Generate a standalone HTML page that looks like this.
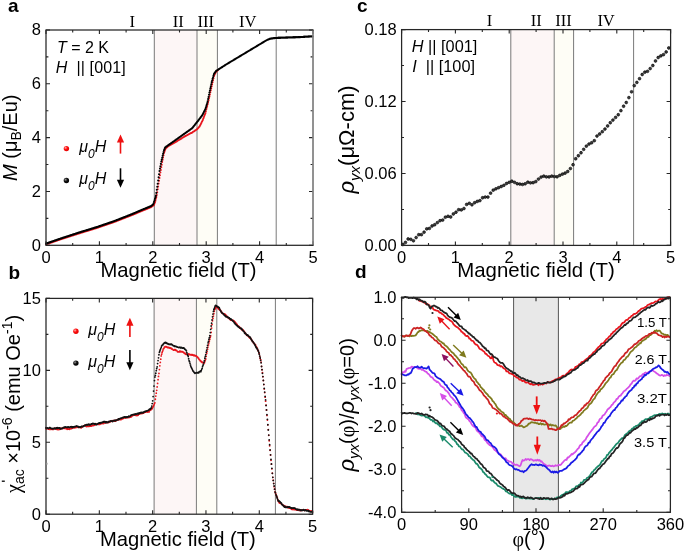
<!DOCTYPE html><html><head><meta charset="utf-8"><style>html,body{margin:0;padding:0;background:#fff;overflow:hidden}svg{display:block;will-change:transform}text{white-space:pre}</style></head><body>
<svg width="685" height="551" viewBox="0 0 685 551" font-family="Liberation Sans, sans-serif" fill="#000">
<defs><radialGradient id="gr" cx="0.35" cy="0.35" r="0.7"><stop offset="0" stop-color="#ffb0b0"/><stop offset="0.45" stop-color="#ff1010"/><stop offset="1" stop-color="#e00000"/></radialGradient><radialGradient id="gk" cx="0.35" cy="0.35" r="0.7"><stop offset="0" stop-color="#999"/><stop offset="0.45" stop-color="#111"/><stop offset="1" stop-color="#000"/></radialGradient></defs>
<rect x="154.3" y="30" width="42.7" height="215.3" fill="#fdf6f6"/>
<rect x="197" y="30" width="20.4" height="215.3" fill="#fefdf6"/>
<path d="M154.3 30V245.3" stroke="#7a7a7a" stroke-width="1"/>
<path d="M197 30V245.3" stroke="#7a7a7a" stroke-width="1"/>
<path d="M217.4 30V245.3" stroke="#7a7a7a" stroke-width="1"/>
<path d="M276.2 30V245.3" stroke="#7a7a7a" stroke-width="1"/>
<path d="M45.1 244.3a1.0 1.0 0 1 0 2 0a1.0 1.0 0 1 0 -2 0M45.55 244.15a1.0 1.0 0 1 0 2 0a1.0 1.0 0 1 0 -2 0M46 243.99a1.0 1.0 0 1 0 2 0a1.0 1.0 0 1 0 -2 0M46.45 243.84a1.0 1.0 0 1 0 2 0a1.0 1.0 0 1 0 -2 0M46.9 243.68a1.0 1.0 0 1 0 2 0a1.0 1.0 0 1 0 -2 0M47.35 243.53a1.0 1.0 0 1 0 2 0a1.0 1.0 0 1 0 -2 0M47.8 243.37a1.0 1.0 0 1 0 2 0a1.0 1.0 0 1 0 -2 0M48.25 243.22a1.0 1.0 0 1 0 2 0a1.0 1.0 0 1 0 -2 0M48.7 243.06a1.0 1.0 0 1 0 2 0a1.0 1.0 0 1 0 -2 0M49.15 242.91a1.0 1.0 0 1 0 2 0a1.0 1.0 0 1 0 -2 0M49.6 242.75a1.0 1.0 0 1 0 2 0a1.0 1.0 0 1 0 -2 0M50.05 242.6a1.0 1.0 0 1 0 2 0a1.0 1.0 0 1 0 -2 0M50.5 242.44a1.0 1.0 0 1 0 2 0a1.0 1.0 0 1 0 -2 0M50.95 242.29a1.0 1.0 0 1 0 2 0a1.0 1.0 0 1 0 -2 0M51.4 242.13a1.0 1.0 0 1 0 2 0a1.0 1.0 0 1 0 -2 0M51.85 241.98a1.0 1.0 0 1 0 2 0a1.0 1.0 0 1 0 -2 0M52.3 241.82a1.0 1.0 0 1 0 2 0a1.0 1.0 0 1 0 -2 0M52.75 241.67a1.0 1.0 0 1 0 2 0a1.0 1.0 0 1 0 -2 0M53.2 241.51a1.0 1.0 0 1 0 2 0a1.0 1.0 0 1 0 -2 0M53.65 241.36a1.0 1.0 0 1 0 2 0a1.0 1.0 0 1 0 -2 0M54.1 241.2a1.0 1.0 0 1 0 2 0a1.0 1.0 0 1 0 -2 0M54.55 241.05a1.0 1.0 0 1 0 2 0a1.0 1.0 0 1 0 -2 0M55 240.89a1.0 1.0 0 1 0 2 0a1.0 1.0 0 1 0 -2 0M55.45 240.74a1.0 1.0 0 1 0 2 0a1.0 1.0 0 1 0 -2 0M55.9 240.58a1.0 1.0 0 1 0 2 0a1.0 1.0 0 1 0 -2 0M56.35 240.43a1.0 1.0 0 1 0 2 0a1.0 1.0 0 1 0 -2 0M56.8 240.27a1.0 1.0 0 1 0 2 0a1.0 1.0 0 1 0 -2 0M57.25 240.12a1.0 1.0 0 1 0 2 0a1.0 1.0 0 1 0 -2 0M57.7 239.96a1.0 1.0 0 1 0 2 0a1.0 1.0 0 1 0 -2 0M58.15 239.81a1.0 1.0 0 1 0 2 0a1.0 1.0 0 1 0 -2 0M58.6 239.65a1.0 1.0 0 1 0 2 0a1.0 1.0 0 1 0 -2 0M59.05 239.5a1.0 1.0 0 1 0 2 0a1.0 1.0 0 1 0 -2 0M59.5 239.34a1.0 1.0 0 1 0 2 0a1.0 1.0 0 1 0 -2 0M59.95 239.19a1.0 1.0 0 1 0 2 0a1.0 1.0 0 1 0 -2 0M60.4 239.03a1.0 1.0 0 1 0 2 0a1.0 1.0 0 1 0 -2 0M60.85 238.89a1.0 1.0 0 1 0 2 0a1.0 1.0 0 1 0 -2 0M61.3 238.74a1.0 1.0 0 1 0 2 0a1.0 1.0 0 1 0 -2 0M61.75 238.6a1.0 1.0 0 1 0 2 0a1.0 1.0 0 1 0 -2 0M62.2 238.46a1.0 1.0 0 1 0 2 0a1.0 1.0 0 1 0 -2 0M62.65 238.31a1.0 1.0 0 1 0 2 0a1.0 1.0 0 1 0 -2 0M63.1 238.17a1.0 1.0 0 1 0 2 0a1.0 1.0 0 1 0 -2 0M63.55 238.02a1.0 1.0 0 1 0 2 0a1.0 1.0 0 1 0 -2 0M64 237.88a1.0 1.0 0 1 0 2 0a1.0 1.0 0 1 0 -2 0M64.45 237.74a1.0 1.0 0 1 0 2 0a1.0 1.0 0 1 0 -2 0M64.9 237.59a1.0 1.0 0 1 0 2 0a1.0 1.0 0 1 0 -2 0M65.35 237.45a1.0 1.0 0 1 0 2 0a1.0 1.0 0 1 0 -2 0M65.8 237.3a1.0 1.0 0 1 0 2 0a1.0 1.0 0 1 0 -2 0M66.25 237.16a1.0 1.0 0 1 0 2 0a1.0 1.0 0 1 0 -2 0M66.7 237.02a1.0 1.0 0 1 0 2 0a1.0 1.0 0 1 0 -2 0M67.15 236.87a1.0 1.0 0 1 0 2 0a1.0 1.0 0 1 0 -2 0M67.6 236.73a1.0 1.0 0 1 0 2 0a1.0 1.0 0 1 0 -2 0M68.05 236.58a1.0 1.0 0 1 0 2 0a1.0 1.0 0 1 0 -2 0M68.5 236.44a1.0 1.0 0 1 0 2 0a1.0 1.0 0 1 0 -2 0M68.95 236.3a1.0 1.0 0 1 0 2 0a1.0 1.0 0 1 0 -2 0M69.4 236.15a1.0 1.0 0 1 0 2 0a1.0 1.0 0 1 0 -2 0M69.85 236.01a1.0 1.0 0 1 0 2 0a1.0 1.0 0 1 0 -2 0M70.3 235.86a1.0 1.0 0 1 0 2 0a1.0 1.0 0 1 0 -2 0M70.75 235.72a1.0 1.0 0 1 0 2 0a1.0 1.0 0 1 0 -2 0M71.2 235.58a1.0 1.0 0 1 0 2 0a1.0 1.0 0 1 0 -2 0M71.65 235.43a1.0 1.0 0 1 0 2 0a1.0 1.0 0 1 0 -2 0M72.1 235.29a1.0 1.0 0 1 0 2 0a1.0 1.0 0 1 0 -2 0M72.55 235.14a1.0 1.0 0 1 0 2 0a1.0 1.0 0 1 0 -2 0M73 235a1.0 1.0 0 1 0 2 0a1.0 1.0 0 1 0 -2 0M73.45 234.86a1.0 1.0 0 1 0 2 0a1.0 1.0 0 1 0 -2 0M73.9 234.71a1.0 1.0 0 1 0 2 0a1.0 1.0 0 1 0 -2 0M74.35 234.57a1.0 1.0 0 1 0 2 0a1.0 1.0 0 1 0 -2 0M74.8 234.42a1.0 1.0 0 1 0 2 0a1.0 1.0 0 1 0 -2 0M75.25 234.28a1.0 1.0 0 1 0 2 0a1.0 1.0 0 1 0 -2 0M75.7 234.14a1.0 1.0 0 1 0 2 0a1.0 1.0 0 1 0 -2 0M76.15 233.99a1.0 1.0 0 1 0 2 0a1.0 1.0 0 1 0 -2 0M76.6 233.85a1.0 1.0 0 1 0 2 0a1.0 1.0 0 1 0 -2 0M77.05 233.7a1.0 1.0 0 1 0 2 0a1.0 1.0 0 1 0 -2 0M77.5 233.56a1.0 1.0 0 1 0 2 0a1.0 1.0 0 1 0 -2 0M77.95 233.42a1.0 1.0 0 1 0 2 0a1.0 1.0 0 1 0 -2 0M78.4 233.28a1.0 1.0 0 1 0 2 0a1.0 1.0 0 1 0 -2 0M78.85 233.14a1.0 1.0 0 1 0 2 0a1.0 1.0 0 1 0 -2 0M79.3 233a1.0 1.0 0 1 0 2 0a1.0 1.0 0 1 0 -2 0M79.75 232.86a1.0 1.0 0 1 0 2 0a1.0 1.0 0 1 0 -2 0M80.2 232.72a1.0 1.0 0 1 0 2 0a1.0 1.0 0 1 0 -2 0M80.65 232.59a1.0 1.0 0 1 0 2 0a1.0 1.0 0 1 0 -2 0M81.1 232.45a1.0 1.0 0 1 0 2 0a1.0 1.0 0 1 0 -2 0M81.55 232.31a1.0 1.0 0 1 0 2 0a1.0 1.0 0 1 0 -2 0M82 232.17a1.0 1.0 0 1 0 2 0a1.0 1.0 0 1 0 -2 0M82.45 232.03a1.0 1.0 0 1 0 2 0a1.0 1.0 0 1 0 -2 0M82.9 231.9a1.0 1.0 0 1 0 2 0a1.0 1.0 0 1 0 -2 0M83.35 231.76a1.0 1.0 0 1 0 2 0a1.0 1.0 0 1 0 -2 0M83.8 231.62a1.0 1.0 0 1 0 2 0a1.0 1.0 0 1 0 -2 0M84.25 231.48a1.0 1.0 0 1 0 2 0a1.0 1.0 0 1 0 -2 0M84.7 231.34a1.0 1.0 0 1 0 2 0a1.0 1.0 0 1 0 -2 0M85.15 231.21a1.0 1.0 0 1 0 2 0a1.0 1.0 0 1 0 -2 0M85.6 231.07a1.0 1.0 0 1 0 2 0a1.0 1.0 0 1 0 -2 0M86.05 230.93a1.0 1.0 0 1 0 2 0a1.0 1.0 0 1 0 -2 0M86.5 230.79a1.0 1.0 0 1 0 2 0a1.0 1.0 0 1 0 -2 0M86.95 230.65a1.0 1.0 0 1 0 2 0a1.0 1.0 0 1 0 -2 0M87.4 230.52a1.0 1.0 0 1 0 2 0a1.0 1.0 0 1 0 -2 0M87.85 230.38a1.0 1.0 0 1 0 2 0a1.0 1.0 0 1 0 -2 0M88.3 230.24a1.0 1.0 0 1 0 2 0a1.0 1.0 0 1 0 -2 0M88.75 230.1a1.0 1.0 0 1 0 2 0a1.0 1.0 0 1 0 -2 0M89.2 229.96a1.0 1.0 0 1 0 2 0a1.0 1.0 0 1 0 -2 0M89.65 229.83a1.0 1.0 0 1 0 2 0a1.0 1.0 0 1 0 -2 0M90.1 229.69a1.0 1.0 0 1 0 2 0a1.0 1.0 0 1 0 -2 0M90.55 229.55a1.0 1.0 0 1 0 2 0a1.0 1.0 0 1 0 -2 0M91 229.41a1.0 1.0 0 1 0 2 0a1.0 1.0 0 1 0 -2 0M91.45 229.27a1.0 1.0 0 1 0 2 0a1.0 1.0 0 1 0 -2 0M91.9 229.14a1.0 1.0 0 1 0 2 0a1.0 1.0 0 1 0 -2 0M92.35 229a1.0 1.0 0 1 0 2 0a1.0 1.0 0 1 0 -2 0M92.8 228.86a1.0 1.0 0 1 0 2 0a1.0 1.0 0 1 0 -2 0M93.25 228.72a1.0 1.0 0 1 0 2 0a1.0 1.0 0 1 0 -2 0M93.7 228.58a1.0 1.0 0 1 0 2 0a1.0 1.0 0 1 0 -2 0M94.15 228.44a1.0 1.0 0 1 0 2 0a1.0 1.0 0 1 0 -2 0M94.6 228.31a1.0 1.0 0 1 0 2 0a1.0 1.0 0 1 0 -2 0M95.05 228.17a1.0 1.0 0 1 0 2 0a1.0 1.0 0 1 0 -2 0M95.5 228.03a1.0 1.0 0 1 0 2 0a1.0 1.0 0 1 0 -2 0M95.95 227.88a1.0 1.0 0 1 0 2 0a1.0 1.0 0 1 0 -2 0M96.4 227.73a1.0 1.0 0 1 0 2 0a1.0 1.0 0 1 0 -2 0M96.85 227.57a1.0 1.0 0 1 0 2 0a1.0 1.0 0 1 0 -2 0M97.3 227.42a1.0 1.0 0 1 0 2 0a1.0 1.0 0 1 0 -2 0M97.75 227.26a1.0 1.0 0 1 0 2 0a1.0 1.0 0 1 0 -2 0M98.2 227.11a1.0 1.0 0 1 0 2 0a1.0 1.0 0 1 0 -2 0M98.65 226.95a1.0 1.0 0 1 0 2 0a1.0 1.0 0 1 0 -2 0M99.1 226.8a1.0 1.0 0 1 0 2 0a1.0 1.0 0 1 0 -2 0M99.55 226.65a1.0 1.0 0 1 0 2 0a1.0 1.0 0 1 0 -2 0M100 226.49a1.0 1.0 0 1 0 2 0a1.0 1.0 0 1 0 -2 0M100.45 226.34a1.0 1.0 0 1 0 2 0a1.0 1.0 0 1 0 -2 0M100.9 226.18a1.0 1.0 0 1 0 2 0a1.0 1.0 0 1 0 -2 0M101.35 226.03a1.0 1.0 0 1 0 2 0a1.0 1.0 0 1 0 -2 0M101.8 225.87a1.0 1.0 0 1 0 2 0a1.0 1.0 0 1 0 -2 0M102.25 225.72a1.0 1.0 0 1 0 2 0a1.0 1.0 0 1 0 -2 0M102.7 225.57a1.0 1.0 0 1 0 2 0a1.0 1.0 0 1 0 -2 0M103.15 225.41a1.0 1.0 0 1 0 2 0a1.0 1.0 0 1 0 -2 0M103.6 225.26a1.0 1.0 0 1 0 2 0a1.0 1.0 0 1 0 -2 0M104.05 225.1a1.0 1.0 0 1 0 2 0a1.0 1.0 0 1 0 -2 0M104.5 224.95a1.0 1.0 0 1 0 2 0a1.0 1.0 0 1 0 -2 0M104.95 224.79a1.0 1.0 0 1 0 2 0a1.0 1.0 0 1 0 -2 0M105.4 224.64a1.0 1.0 0 1 0 2 0a1.0 1.0 0 1 0 -2 0M105.85 224.49a1.0 1.0 0 1 0 2 0a1.0 1.0 0 1 0 -2 0M106.3 224.33a1.0 1.0 0 1 0 2 0a1.0 1.0 0 1 0 -2 0M106.75 224.18a1.0 1.0 0 1 0 2 0a1.0 1.0 0 1 0 -2 0M107.2 224.02a1.0 1.0 0 1 0 2 0a1.0 1.0 0 1 0 -2 0M107.65 223.87a1.0 1.0 0 1 0 2 0a1.0 1.0 0 1 0 -2 0M108.1 223.71a1.0 1.0 0 1 0 2 0a1.0 1.0 0 1 0 -2 0M108.55 223.56a1.0 1.0 0 1 0 2 0a1.0 1.0 0 1 0 -2 0M109 223.41a1.0 1.0 0 1 0 2 0a1.0 1.0 0 1 0 -2 0M109.45 223.25a1.0 1.0 0 1 0 2 0a1.0 1.0 0 1 0 -2 0M109.9 223.1a1.0 1.0 0 1 0 2 0a1.0 1.0 0 1 0 -2 0M110.35 222.94a1.0 1.0 0 1 0 2 0a1.0 1.0 0 1 0 -2 0M110.8 222.79a1.0 1.0 0 1 0 2 0a1.0 1.0 0 1 0 -2 0M111.25 222.63a1.0 1.0 0 1 0 2 0a1.0 1.0 0 1 0 -2 0M111.7 222.48a1.0 1.0 0 1 0 2 0a1.0 1.0 0 1 0 -2 0M112.15 222.33a1.0 1.0 0 1 0 2 0a1.0 1.0 0 1 0 -2 0M112.6 222.17a1.0 1.0 0 1 0 2 0a1.0 1.0 0 1 0 -2 0M113.05 222.02a1.0 1.0 0 1 0 2 0a1.0 1.0 0 1 0 -2 0M113.5 221.84a1.0 1.0 0 1 0 2 0a1.0 1.0 0 1 0 -2 0M113.95 221.67a1.0 1.0 0 1 0 2 0a1.0 1.0 0 1 0 -2 0M114.4 221.49a1.0 1.0 0 1 0 2 0a1.0 1.0 0 1 0 -2 0M114.85 221.32a1.0 1.0 0 1 0 2 0a1.0 1.0 0 1 0 -2 0M115.3 221.15a1.0 1.0 0 1 0 2 0a1.0 1.0 0 1 0 -2 0M115.75 220.97a1.0 1.0 0 1 0 2 0a1.0 1.0 0 1 0 -2 0M116.2 220.8a1.0 1.0 0 1 0 2 0a1.0 1.0 0 1 0 -2 0M116.65 220.62a1.0 1.0 0 1 0 2 0a1.0 1.0 0 1 0 -2 0M117.1 220.45a1.0 1.0 0 1 0 2 0a1.0 1.0 0 1 0 -2 0M117.55 220.27a1.0 1.0 0 1 0 2 0a1.0 1.0 0 1 0 -2 0M118 220.1a1.0 1.0 0 1 0 2 0a1.0 1.0 0 1 0 -2 0M118.45 219.92a1.0 1.0 0 1 0 2 0a1.0 1.0 0 1 0 -2 0M118.9 219.75a1.0 1.0 0 1 0 2 0a1.0 1.0 0 1 0 -2 0M119.35 219.57a1.0 1.0 0 1 0 2 0a1.0 1.0 0 1 0 -2 0M119.8 219.4a1.0 1.0 0 1 0 2 0a1.0 1.0 0 1 0 -2 0M120.25 219.22a1.0 1.0 0 1 0 2 0a1.0 1.0 0 1 0 -2 0M120.7 219.05a1.0 1.0 0 1 0 2 0a1.0 1.0 0 1 0 -2 0M121.15 218.87a1.0 1.0 0 1 0 2 0a1.0 1.0 0 1 0 -2 0M121.6 218.7a1.0 1.0 0 1 0 2 0a1.0 1.0 0 1 0 -2 0M122.05 218.52a1.0 1.0 0 1 0 2 0a1.0 1.0 0 1 0 -2 0M122.5 218.35a1.0 1.0 0 1 0 2 0a1.0 1.0 0 1 0 -2 0M122.95 218.17a1.0 1.0 0 1 0 2 0a1.0 1.0 0 1 0 -2 0M123.4 218a1.0 1.0 0 1 0 2 0a1.0 1.0 0 1 0 -2 0M123.85 217.82a1.0 1.0 0 1 0 2 0a1.0 1.0 0 1 0 -2 0M124.3 217.65a1.0 1.0 0 1 0 2 0a1.0 1.0 0 1 0 -2 0M124.75 217.47a1.0 1.0 0 1 0 2 0a1.0 1.0 0 1 0 -2 0M125.2 217.3a1.0 1.0 0 1 0 2 0a1.0 1.0 0 1 0 -2 0M125.65 217.12a1.0 1.0 0 1 0 2 0a1.0 1.0 0 1 0 -2 0M126.1 216.95a1.0 1.0 0 1 0 2 0a1.0 1.0 0 1 0 -2 0M126.55 216.77a1.0 1.0 0 1 0 2 0a1.0 1.0 0 1 0 -2 0M127 216.6a1.0 1.0 0 1 0 2 0a1.0 1.0 0 1 0 -2 0M127.45 216.42a1.0 1.0 0 1 0 2 0a1.0 1.0 0 1 0 -2 0M127.9 216.25a1.0 1.0 0 1 0 2 0a1.0 1.0 0 1 0 -2 0M128.35 216.07a1.0 1.0 0 1 0 2 0a1.0 1.0 0 1 0 -2 0M128.8 215.9a1.0 1.0 0 1 0 2 0a1.0 1.0 0 1 0 -2 0M129.25 215.72a1.0 1.0 0 1 0 2 0a1.0 1.0 0 1 0 -2 0M129.7 215.55a1.0 1.0 0 1 0 2 0a1.0 1.0 0 1 0 -2 0M130.15 215.37a1.0 1.0 0 1 0 2 0a1.0 1.0 0 1 0 -2 0M130.6 215.2a1.0 1.0 0 1 0 2 0a1.0 1.0 0 1 0 -2 0M131.05 215.01a1.0 1.0 0 1 0 2 0a1.0 1.0 0 1 0 -2 0M131.5 214.82a1.0 1.0 0 1 0 2 0a1.0 1.0 0 1 0 -2 0M131.95 214.63a1.0 1.0 0 1 0 2 0a1.0 1.0 0 1 0 -2 0M132.4 214.45a1.0 1.0 0 1 0 2 0a1.0 1.0 0 1 0 -2 0M132.85 214.26a1.0 1.0 0 1 0 2 0a1.0 1.0 0 1 0 -2 0M133.3 214.07a1.0 1.0 0 1 0 2 0a1.0 1.0 0 1 0 -2 0M133.75 213.88a1.0 1.0 0 1 0 2 0a1.0 1.0 0 1 0 -2 0M134.2 213.69a1.0 1.0 0 1 0 2 0a1.0 1.0 0 1 0 -2 0M134.65 213.5a1.0 1.0 0 1 0 2 0a1.0 1.0 0 1 0 -2 0M135.1 213.31a1.0 1.0 0 1 0 2 0a1.0 1.0 0 1 0 -2 0M135.55 213.13a1.0 1.0 0 1 0 2 0a1.0 1.0 0 1 0 -2 0M136 212.94a1.0 1.0 0 1 0 2 0a1.0 1.0 0 1 0 -2 0M136.45 212.75a1.0 1.0 0 1 0 2 0a1.0 1.0 0 1 0 -2 0M136.9 212.56a1.0 1.0 0 1 0 2 0a1.0 1.0 0 1 0 -2 0M137.35 212.37a1.0 1.0 0 1 0 2 0a1.0 1.0 0 1 0 -2 0M137.8 212.18a1.0 1.0 0 1 0 2 0a1.0 1.0 0 1 0 -2 0M138.25 211.99a1.0 1.0 0 1 0 2 0a1.0 1.0 0 1 0 -2 0M138.7 211.81a1.0 1.0 0 1 0 2 0a1.0 1.0 0 1 0 -2 0M139.15 211.62a1.0 1.0 0 1 0 2 0a1.0 1.0 0 1 0 -2 0M139.6 211.43a1.0 1.0 0 1 0 2 0a1.0 1.0 0 1 0 -2 0M140.05 211.24a1.0 1.0 0 1 0 2 0a1.0 1.0 0 1 0 -2 0M140.5 211.05a1.0 1.0 0 1 0 2 0a1.0 1.0 0 1 0 -2 0M140.95 210.86a1.0 1.0 0 1 0 2 0a1.0 1.0 0 1 0 -2 0M141.4 210.68a1.0 1.0 0 1 0 2 0a1.0 1.0 0 1 0 -2 0M141.85 210.49a1.0 1.0 0 1 0 2 0a1.0 1.0 0 1 0 -2 0M142.3 210.31a1.0 1.0 0 1 0 2 0a1.0 1.0 0 1 0 -2 0M142.75 210.12a1.0 1.0 0 1 0 2 0a1.0 1.0 0 1 0 -2 0M143.2 209.94a1.0 1.0 0 1 0 2 0a1.0 1.0 0 1 0 -2 0M143.65 209.76a1.0 1.0 0 1 0 2 0a1.0 1.0 0 1 0 -2 0M144.1 209.57a1.0 1.0 0 1 0 2 0a1.0 1.0 0 1 0 -2 0M144.55 209.39a1.0 1.0 0 1 0 2 0a1.0 1.0 0 1 0 -2 0M145 209.2a1.0 1.0 0 1 0 2 0a1.0 1.0 0 1 0 -2 0M145.45 209.02a1.0 1.0 0 1 0 2 0a1.0 1.0 0 1 0 -2 0M145.9 208.84a1.0 1.0 0 1 0 2 0a1.0 1.0 0 1 0 -2 0M146.35 208.65a1.0 1.0 0 1 0 2 0a1.0 1.0 0 1 0 -2 0M146.8 208.47a1.0 1.0 0 1 0 2 0a1.0 1.0 0 1 0 -2 0M147.25 208.28a1.0 1.0 0 1 0 2 0a1.0 1.0 0 1 0 -2 0M147.7 208.1a1.0 1.0 0 1 0 2 0a1.0 1.0 0 1 0 -2 0M148.15 207.92a1.0 1.0 0 1 0 2 0a1.0 1.0 0 1 0 -2 0M148.6 207.73a1.0 1.0 0 1 0 2 0a1.0 1.0 0 1 0 -2 0M149.05 207.55a1.0 1.0 0 1 0 2 0a1.0 1.0 0 1 0 -2 0M149.5 207.36a1.0 1.0 0 1 0 2 0a1.0 1.0 0 1 0 -2 0M149.95 207.16a1.0 1.0 0 1 0 2 0a1.0 1.0 0 1 0 -2 0M150.4 206.85a1.0 1.0 0 1 0 2 0a1.0 1.0 0 1 0 -2 0M150.85 206.53a1.0 1.0 0 1 0 2 0a1.0 1.0 0 1 0 -2 0M151.3 206.21a1.0 1.0 0 1 0 2 0a1.0 1.0 0 1 0 -2 0M151.75 205.89a1.0 1.0 0 1 0 2 0a1.0 1.0 0 1 0 -2 0M152.2 205.57a1.0 1.0 0 1 0 2 0a1.0 1.0 0 1 0 -2 0M152.65 205.25a1.0 1.0 0 1 0 2 0a1.0 1.0 0 1 0 -2 0M153.1 204.71a1.0 1.0 0 1 0 2 0a1.0 1.0 0 1 0 -2 0M153.55 203.43a1.0 1.0 0 1 0 2 0a1.0 1.0 0 1 0 -2 0M154 202.14a1.0 1.0 0 1 0 2 0a1.0 1.0 0 1 0 -2 0M154.45 200.79a1.0 1.0 0 1 0 2 0a1.0 1.0 0 1 0 -2 0M154.9 198.86a1.0 1.0 0 1 0 2 0a1.0 1.0 0 1 0 -2 0M155.35 196.93a1.0 1.0 0 1 0 2 0a1.0 1.0 0 1 0 -2 0M155.8 195a1.0 1.0 0 1 0 2 0a1.0 1.0 0 1 0 -2 0M156.25 192.19a1.0 1.0 0 1 0 2 0a1.0 1.0 0 1 0 -2 0M156.7 189.36a1.0 1.0 0 1 0 2 0a1.0 1.0 0 1 0 -2 0M157.15 186.46a1.0 1.0 0 1 0 2 0a1.0 1.0 0 1 0 -2 0M157.6 183.57a1.0 1.0 0 1 0 2 0a1.0 1.0 0 1 0 -2 0M158.05 180.7a1.0 1.0 0 1 0 2 0a1.0 1.0 0 1 0 -2 0M158.5 178a1.0 1.0 0 1 0 2 0a1.0 1.0 0 1 0 -2 0M158.95 175.3a1.0 1.0 0 1 0 2 0a1.0 1.0 0 1 0 -2 0M159.4 172.6a1.0 1.0 0 1 0 2 0a1.0 1.0 0 1 0 -2 0M159.85 169.94a1.0 1.0 0 1 0 2 0a1.0 1.0 0 1 0 -2 0M160.3 167.29a1.0 1.0 0 1 0 2 0a1.0 1.0 0 1 0 -2 0M160.75 164.65a1.0 1.0 0 1 0 2 0a1.0 1.0 0 1 0 -2 0M161.2 162a1.0 1.0 0 1 0 2 0a1.0 1.0 0 1 0 -2 0M161.65 159.75a1.0 1.0 0 1 0 2 0a1.0 1.0 0 1 0 -2 0M162.1 157.5a1.0 1.0 0 1 0 2 0a1.0 1.0 0 1 0 -2 0M162.55 155.25a1.0 1.0 0 1 0 2 0a1.0 1.0 0 1 0 -2 0M163 153a1.0 1.0 0 1 0 2 0a1.0 1.0 0 1 0 -2 0M163.45 151.73a1.0 1.0 0 1 0 2 0a1.0 1.0 0 1 0 -2 0M163.9 150.47a1.0 1.0 0 1 0 2 0a1.0 1.0 0 1 0 -2 0M164.35 149.2a1.0 1.0 0 1 0 2 0a1.0 1.0 0 1 0 -2 0M164.8 148.33a1.0 1.0 0 1 0 2 0a1.0 1.0 0 1 0 -2 0M165.25 147.93a1.0 1.0 0 1 0 2 0a1.0 1.0 0 1 0 -2 0M165.7 147.54a1.0 1.0 0 1 0 2 0a1.0 1.0 0 1 0 -2 0M166.15 147.14a1.0 1.0 0 1 0 2 0a1.0 1.0 0 1 0 -2 0M166.6 146.75a1.0 1.0 0 1 0 2 0a1.0 1.0 0 1 0 -2 0M167.05 146.37a1.0 1.0 0 1 0 2 0a1.0 1.0 0 1 0 -2 0M167.5 146.11a1.0 1.0 0 1 0 2 0a1.0 1.0 0 1 0 -2 0M167.95 145.85a1.0 1.0 0 1 0 2 0a1.0 1.0 0 1 0 -2 0M168.4 145.59a1.0 1.0 0 1 0 2 0a1.0 1.0 0 1 0 -2 0M168.85 145.33a1.0 1.0 0 1 0 2 0a1.0 1.0 0 1 0 -2 0M169.3 145.08a1.0 1.0 0 1 0 2 0a1.0 1.0 0 1 0 -2 0M169.75 144.82a1.0 1.0 0 1 0 2 0a1.0 1.0 0 1 0 -2 0M170.2 144.56a1.0 1.0 0 1 0 2 0a1.0 1.0 0 1 0 -2 0M170.65 144.29a1.0 1.0 0 1 0 2 0a1.0 1.0 0 1 0 -2 0M171.1 144.03a1.0 1.0 0 1 0 2 0a1.0 1.0 0 1 0 -2 0M171.55 143.77a1.0 1.0 0 1 0 2 0a1.0 1.0 0 1 0 -2 0M172 143.5a1.0 1.0 0 1 0 2 0a1.0 1.0 0 1 0 -2 0M172.45 143.24a1.0 1.0 0 1 0 2 0a1.0 1.0 0 1 0 -2 0M172.9 142.98a1.0 1.0 0 1 0 2 0a1.0 1.0 0 1 0 -2 0M173.35 142.71a1.0 1.0 0 1 0 2 0a1.0 1.0 0 1 0 -2 0M173.8 142.45a1.0 1.0 0 1 0 2 0a1.0 1.0 0 1 0 -2 0M174.25 142.18a1.0 1.0 0 1 0 2 0a1.0 1.0 0 1 0 -2 0M174.7 141.92a1.0 1.0 0 1 0 2 0a1.0 1.0 0 1 0 -2 0M175.15 141.66a1.0 1.0 0 1 0 2 0a1.0 1.0 0 1 0 -2 0M175.6 141.39a1.0 1.0 0 1 0 2 0a1.0 1.0 0 1 0 -2 0M176.05 141.13a1.0 1.0 0 1 0 2 0a1.0 1.0 0 1 0 -2 0M176.5 140.87a1.0 1.0 0 1 0 2 0a1.0 1.0 0 1 0 -2 0M176.95 140.6a1.0 1.0 0 1 0 2 0a1.0 1.0 0 1 0 -2 0M177.4 140.34a1.0 1.0 0 1 0 2 0a1.0 1.0 0 1 0 -2 0M177.85 140.07a1.0 1.0 0 1 0 2 0a1.0 1.0 0 1 0 -2 0M178.3 139.81a1.0 1.0 0 1 0 2 0a1.0 1.0 0 1 0 -2 0M178.75 139.55a1.0 1.0 0 1 0 2 0a1.0 1.0 0 1 0 -2 0M179.2 139.27a1.0 1.0 0 1 0 2 0a1.0 1.0 0 1 0 -2 0M179.65 138.98a1.0 1.0 0 1 0 2 0a1.0 1.0 0 1 0 -2 0M180.1 138.7a1.0 1.0 0 1 0 2 0a1.0 1.0 0 1 0 -2 0M180.55 138.41a1.0 1.0 0 1 0 2 0a1.0 1.0 0 1 0 -2 0M181 138.12a1.0 1.0 0 1 0 2 0a1.0 1.0 0 1 0 -2 0M181.45 137.83a1.0 1.0 0 1 0 2 0a1.0 1.0 0 1 0 -2 0M181.9 137.54a1.0 1.0 0 1 0 2 0a1.0 1.0 0 1 0 -2 0M182.35 137.26a1.0 1.0 0 1 0 2 0a1.0 1.0 0 1 0 -2 0M182.8 136.97a1.0 1.0 0 1 0 2 0a1.0 1.0 0 1 0 -2 0M183.25 136.68a1.0 1.0 0 1 0 2 0a1.0 1.0 0 1 0 -2 0M183.7 136.39a1.0 1.0 0 1 0 2 0a1.0 1.0 0 1 0 -2 0M184.15 136.12a1.0 1.0 0 1 0 2 0a1.0 1.0 0 1 0 -2 0M184.6 135.89a1.0 1.0 0 1 0 2 0a1.0 1.0 0 1 0 -2 0M185.05 135.66a1.0 1.0 0 1 0 2 0a1.0 1.0 0 1 0 -2 0M185.5 135.43a1.0 1.0 0 1 0 2 0a1.0 1.0 0 1 0 -2 0M185.95 135.2a1.0 1.0 0 1 0 2 0a1.0 1.0 0 1 0 -2 0M186.4 134.97a1.0 1.0 0 1 0 2 0a1.0 1.0 0 1 0 -2 0M186.85 134.74a1.0 1.0 0 1 0 2 0a1.0 1.0 0 1 0 -2 0M187.3 134.5a1.0 1.0 0 1 0 2 0a1.0 1.0 0 1 0 -2 0M187.75 134.27a1.0 1.0 0 1 0 2 0a1.0 1.0 0 1 0 -2 0M188.2 134.04a1.0 1.0 0 1 0 2 0a1.0 1.0 0 1 0 -2 0M188.65 133.81a1.0 1.0 0 1 0 2 0a1.0 1.0 0 1 0 -2 0M189.1 133.58a1.0 1.0 0 1 0 2 0a1.0 1.0 0 1 0 -2 0M189.55 133.35a1.0 1.0 0 1 0 2 0a1.0 1.0 0 1 0 -2 0M190 133.12a1.0 1.0 0 1 0 2 0a1.0 1.0 0 1 0 -2 0M190.45 132.89a1.0 1.0 0 1 0 2 0a1.0 1.0 0 1 0 -2 0M190.9 132.65a1.0 1.0 0 1 0 2 0a1.0 1.0 0 1 0 -2 0M191.35 132.4a1.0 1.0 0 1 0 2 0a1.0 1.0 0 1 0 -2 0M191.8 132.1a1.0 1.0 0 1 0 2 0a1.0 1.0 0 1 0 -2 0M192.25 131.81a1.0 1.0 0 1 0 2 0a1.0 1.0 0 1 0 -2 0M192.7 131.51a1.0 1.0 0 1 0 2 0a1.0 1.0 0 1 0 -2 0M193.15 131.21a1.0 1.0 0 1 0 2 0a1.0 1.0 0 1 0 -2 0M193.6 130.92a1.0 1.0 0 1 0 2 0a1.0 1.0 0 1 0 -2 0M194.05 130.62a1.0 1.0 0 1 0 2 0a1.0 1.0 0 1 0 -2 0M194.5 130.33a1.0 1.0 0 1 0 2 0a1.0 1.0 0 1 0 -2 0M194.95 130.03a1.0 1.0 0 1 0 2 0a1.0 1.0 0 1 0 -2 0M195.4 129.73a1.0 1.0 0 1 0 2 0a1.0 1.0 0 1 0 -2 0M195.85 129.35a1.0 1.0 0 1 0 2 0a1.0 1.0 0 1 0 -2 0M196.3 128.9a1.0 1.0 0 1 0 2 0a1.0 1.0 0 1 0 -2 0M196.75 128.45a1.0 1.0 0 1 0 2 0a1.0 1.0 0 1 0 -2 0M197.2 128a1.0 1.0 0 1 0 2 0a1.0 1.0 0 1 0 -2 0M197.65 127.55a1.0 1.0 0 1 0 2 0a1.0 1.0 0 1 0 -2 0M198.1 127.1a1.0 1.0 0 1 0 2 0a1.0 1.0 0 1 0 -2 0M198.55 126.6a1.0 1.0 0 1 0 2 0a1.0 1.0 0 1 0 -2 0M199 125.7a1.0 1.0 0 1 0 2 0a1.0 1.0 0 1 0 -2 0M199.45 124.8a1.0 1.0 0 1 0 2 0a1.0 1.0 0 1 0 -2 0M199.9 123.9a1.0 1.0 0 1 0 2 0a1.0 1.0 0 1 0 -2 0M200.35 123a1.0 1.0 0 1 0 2 0a1.0 1.0 0 1 0 -2 0M200.8 122.1a1.0 1.0 0 1 0 2 0a1.0 1.0 0 1 0 -2 0M201.25 121.2a1.0 1.0 0 1 0 2 0a1.0 1.0 0 1 0 -2 0M201.7 120.14a1.0 1.0 0 1 0 2 0a1.0 1.0 0 1 0 -2 0M202.15 119.01a1.0 1.0 0 1 0 2 0a1.0 1.0 0 1 0 -2 0M202.6 117.88a1.0 1.0 0 1 0 2 0a1.0 1.0 0 1 0 -2 0M203.05 116.75a1.0 1.0 0 1 0 2 0a1.0 1.0 0 1 0 -2 0M203.5 115.61a1.0 1.0 0 1 0 2 0a1.0 1.0 0 1 0 -2 0M203.95 114.48a1.0 1.0 0 1 0 2 0a1.0 1.0 0 1 0 -2 0M204.4 113.2a1.0 1.0 0 1 0 2 0a1.0 1.0 0 1 0 -2 0M204.85 111.4a1.0 1.0 0 1 0 2 0a1.0 1.0 0 1 0 -2 0M205.3 109.6a1.0 1.0 0 1 0 2 0a1.0 1.0 0 1 0 -2 0M205.75 107.8a1.0 1.0 0 1 0 2 0a1.0 1.0 0 1 0 -2 0M206.2 106a1.0 1.0 0 1 0 2 0a1.0 1.0 0 1 0 -2 0M206.65 104.2a1.0 1.0 0 1 0 2 0a1.0 1.0 0 1 0 -2 0M207.1 102.4a1.0 1.0 0 1 0 2 0a1.0 1.0 0 1 0 -2 0M207.55 100.43a1.0 1.0 0 1 0 2 0a1.0 1.0 0 1 0 -2 0M208 98.41a1.0 1.0 0 1 0 2 0a1.0 1.0 0 1 0 -2 0M208.45 96.4a1.0 1.0 0 1 0 2 0a1.0 1.0 0 1 0 -2 0M208.9 94.38a1.0 1.0 0 1 0 2 0a1.0 1.0 0 1 0 -2 0M209.35 92.36a1.0 1.0 0 1 0 2 0a1.0 1.0 0 1 0 -2 0M209.8 90.34a1.0 1.0 0 1 0 2 0a1.0 1.0 0 1 0 -2 0M210.25 88.32a1.0 1.0 0 1 0 2 0a1.0 1.0 0 1 0 -2 0M210.7 86.29a1.0 1.0 0 1 0 2 0a1.0 1.0 0 1 0 -2 0M211.15 84.26a1.0 1.0 0 1 0 2 0a1.0 1.0 0 1 0 -2 0M211.6 82.22a1.0 1.0 0 1 0 2 0a1.0 1.0 0 1 0 -2 0M212.05 80.19a1.0 1.0 0 1 0 2 0a1.0 1.0 0 1 0 -2 0M212.5 78.16a1.0 1.0 0 1 0 2 0a1.0 1.0 0 1 0 -2 0M212.95 76.13a1.0 1.0 0 1 0 2 0a1.0 1.0 0 1 0 -2 0M213.4 75.12a1.0 1.0 0 1 0 2 0a1.0 1.0 0 1 0 -2 0M213.85 74.24a1.0 1.0 0 1 0 2 0a1.0 1.0 0 1 0 -2 0M214.3 73.36a1.0 1.0 0 1 0 2 0a1.0 1.0 0 1 0 -2 0M214.75 72.48a1.0 1.0 0 1 0 2 0a1.0 1.0 0 1 0 -2 0M215.2 71.6a1.0 1.0 0 1 0 2 0a1.0 1.0 0 1 0 -2 0M215.65 71.2a1.0 1.0 0 1 0 2 0a1.0 1.0 0 1 0 -2 0M216.1 70.8a1.0 1.0 0 1 0 2 0a1.0 1.0 0 1 0 -2 0M216.55 70.4a1.0 1.0 0 1 0 2 0a1.0 1.0 0 1 0 -2 0M217 70a1.0 1.0 0 1 0 2 0a1.0 1.0 0 1 0 -2 0" fill="#e8141c"/>
<path d="M45.05 243.6a1.05 1.05 0 1 0 2.1 0a1.05 1.05 0 1 0 -2.1 0M45.5 243.45a1.05 1.05 0 1 0 2.1 0a1.05 1.05 0 1 0 -2.1 0M45.95 243.29a1.05 1.05 0 1 0 2.1 0a1.05 1.05 0 1 0 -2.1 0M46.4 243.14a1.05 1.05 0 1 0 2.1 0a1.05 1.05 0 1 0 -2.1 0M46.85 242.98a1.05 1.05 0 1 0 2.1 0a1.05 1.05 0 1 0 -2.1 0M47.3 242.83a1.05 1.05 0 1 0 2.1 0a1.05 1.05 0 1 0 -2.1 0M47.75 242.67a1.05 1.05 0 1 0 2.1 0a1.05 1.05 0 1 0 -2.1 0M48.2 242.52a1.05 1.05 0 1 0 2.1 0a1.05 1.05 0 1 0 -2.1 0M48.65 242.36a1.05 1.05 0 1 0 2.1 0a1.05 1.05 0 1 0 -2.1 0M49.1 242.21a1.05 1.05 0 1 0 2.1 0a1.05 1.05 0 1 0 -2.1 0M49.55 242.05a1.05 1.05 0 1 0 2.1 0a1.05 1.05 0 1 0 -2.1 0M50 241.9a1.05 1.05 0 1 0 2.1 0a1.05 1.05 0 1 0 -2.1 0M50.45 241.74a1.05 1.05 0 1 0 2.1 0a1.05 1.05 0 1 0 -2.1 0M50.9 241.59a1.05 1.05 0 1 0 2.1 0a1.05 1.05 0 1 0 -2.1 0M51.35 241.43a1.05 1.05 0 1 0 2.1 0a1.05 1.05 0 1 0 -2.1 0M51.8 241.28a1.05 1.05 0 1 0 2.1 0a1.05 1.05 0 1 0 -2.1 0M52.25 241.12a1.05 1.05 0 1 0 2.1 0a1.05 1.05 0 1 0 -2.1 0M52.7 240.97a1.05 1.05 0 1 0 2.1 0a1.05 1.05 0 1 0 -2.1 0M53.15 240.81a1.05 1.05 0 1 0 2.1 0a1.05 1.05 0 1 0 -2.1 0M53.6 240.66a1.05 1.05 0 1 0 2.1 0a1.05 1.05 0 1 0 -2.1 0M54.05 240.5a1.05 1.05 0 1 0 2.1 0a1.05 1.05 0 1 0 -2.1 0M54.5 240.35a1.05 1.05 0 1 0 2.1 0a1.05 1.05 0 1 0 -2.1 0M54.95 240.19a1.05 1.05 0 1 0 2.1 0a1.05 1.05 0 1 0 -2.1 0M55.4 240.04a1.05 1.05 0 1 0 2.1 0a1.05 1.05 0 1 0 -2.1 0M55.85 239.88a1.05 1.05 0 1 0 2.1 0a1.05 1.05 0 1 0 -2.1 0M56.3 239.73a1.05 1.05 0 1 0 2.1 0a1.05 1.05 0 1 0 -2.1 0M56.75 239.57a1.05 1.05 0 1 0 2.1 0a1.05 1.05 0 1 0 -2.1 0M57.2 239.42a1.05 1.05 0 1 0 2.1 0a1.05 1.05 0 1 0 -2.1 0M57.65 239.26a1.05 1.05 0 1 0 2.1 0a1.05 1.05 0 1 0 -2.1 0M58.1 239.11a1.05 1.05 0 1 0 2.1 0a1.05 1.05 0 1 0 -2.1 0M58.55 238.95a1.05 1.05 0 1 0 2.1 0a1.05 1.05 0 1 0 -2.1 0M59 238.8a1.05 1.05 0 1 0 2.1 0a1.05 1.05 0 1 0 -2.1 0M59.45 238.64a1.05 1.05 0 1 0 2.1 0a1.05 1.05 0 1 0 -2.1 0M59.9 238.49a1.05 1.05 0 1 0 2.1 0a1.05 1.05 0 1 0 -2.1 0M60.35 238.33a1.05 1.05 0 1 0 2.1 0a1.05 1.05 0 1 0 -2.1 0M60.8 238.19a1.05 1.05 0 1 0 2.1 0a1.05 1.05 0 1 0 -2.1 0M61.25 238.04a1.05 1.05 0 1 0 2.1 0a1.05 1.05 0 1 0 -2.1 0M61.7 237.89a1.05 1.05 0 1 0 2.1 0a1.05 1.05 0 1 0 -2.1 0M62.15 237.75a1.05 1.05 0 1 0 2.1 0a1.05 1.05 0 1 0 -2.1 0M62.6 237.6a1.05 1.05 0 1 0 2.1 0a1.05 1.05 0 1 0 -2.1 0M63.05 237.45a1.05 1.05 0 1 0 2.1 0a1.05 1.05 0 1 0 -2.1 0M63.5 237.31a1.05 1.05 0 1 0 2.1 0a1.05 1.05 0 1 0 -2.1 0M63.95 237.16a1.05 1.05 0 1 0 2.1 0a1.05 1.05 0 1 0 -2.1 0M64.4 237.01a1.05 1.05 0 1 0 2.1 0a1.05 1.05 0 1 0 -2.1 0M64.85 236.87a1.05 1.05 0 1 0 2.1 0a1.05 1.05 0 1 0 -2.1 0M65.3 236.72a1.05 1.05 0 1 0 2.1 0a1.05 1.05 0 1 0 -2.1 0M65.75 236.57a1.05 1.05 0 1 0 2.1 0a1.05 1.05 0 1 0 -2.1 0M66.2 236.43a1.05 1.05 0 1 0 2.1 0a1.05 1.05 0 1 0 -2.1 0M66.65 236.28a1.05 1.05 0 1 0 2.1 0a1.05 1.05 0 1 0 -2.1 0M67.1 236.13a1.05 1.05 0 1 0 2.1 0a1.05 1.05 0 1 0 -2.1 0M67.55 235.99a1.05 1.05 0 1 0 2.1 0a1.05 1.05 0 1 0 -2.1 0M68 235.84a1.05 1.05 0 1 0 2.1 0a1.05 1.05 0 1 0 -2.1 0M68.45 235.69a1.05 1.05 0 1 0 2.1 0a1.05 1.05 0 1 0 -2.1 0M68.9 235.55a1.05 1.05 0 1 0 2.1 0a1.05 1.05 0 1 0 -2.1 0M69.35 235.4a1.05 1.05 0 1 0 2.1 0a1.05 1.05 0 1 0 -2.1 0M69.8 235.25a1.05 1.05 0 1 0 2.1 0a1.05 1.05 0 1 0 -2.1 0M70.25 235.11a1.05 1.05 0 1 0 2.1 0a1.05 1.05 0 1 0 -2.1 0M70.7 234.96a1.05 1.05 0 1 0 2.1 0a1.05 1.05 0 1 0 -2.1 0M71.15 234.81a1.05 1.05 0 1 0 2.1 0a1.05 1.05 0 1 0 -2.1 0M71.6 234.67a1.05 1.05 0 1 0 2.1 0a1.05 1.05 0 1 0 -2.1 0M72.05 234.52a1.05 1.05 0 1 0 2.1 0a1.05 1.05 0 1 0 -2.1 0M72.5 234.38a1.05 1.05 0 1 0 2.1 0a1.05 1.05 0 1 0 -2.1 0M72.95 234.23a1.05 1.05 0 1 0 2.1 0a1.05 1.05 0 1 0 -2.1 0M73.4 234.08a1.05 1.05 0 1 0 2.1 0a1.05 1.05 0 1 0 -2.1 0M73.85 233.94a1.05 1.05 0 1 0 2.1 0a1.05 1.05 0 1 0 -2.1 0M74.3 233.79a1.05 1.05 0 1 0 2.1 0a1.05 1.05 0 1 0 -2.1 0M74.75 233.64a1.05 1.05 0 1 0 2.1 0a1.05 1.05 0 1 0 -2.1 0M75.2 233.5a1.05 1.05 0 1 0 2.1 0a1.05 1.05 0 1 0 -2.1 0M75.65 233.35a1.05 1.05 0 1 0 2.1 0a1.05 1.05 0 1 0 -2.1 0M76.1 233.2a1.05 1.05 0 1 0 2.1 0a1.05 1.05 0 1 0 -2.1 0M76.55 233.06a1.05 1.05 0 1 0 2.1 0a1.05 1.05 0 1 0 -2.1 0M77 232.91a1.05 1.05 0 1 0 2.1 0a1.05 1.05 0 1 0 -2.1 0M77.45 232.76a1.05 1.05 0 1 0 2.1 0a1.05 1.05 0 1 0 -2.1 0M77.9 232.62a1.05 1.05 0 1 0 2.1 0a1.05 1.05 0 1 0 -2.1 0M78.35 232.48a1.05 1.05 0 1 0 2.1 0a1.05 1.05 0 1 0 -2.1 0M78.8 232.34a1.05 1.05 0 1 0 2.1 0a1.05 1.05 0 1 0 -2.1 0M79.25 232.2a1.05 1.05 0 1 0 2.1 0a1.05 1.05 0 1 0 -2.1 0M79.7 232.06a1.05 1.05 0 1 0 2.1 0a1.05 1.05 0 1 0 -2.1 0M80.15 231.92a1.05 1.05 0 1 0 2.1 0a1.05 1.05 0 1 0 -2.1 0M80.6 231.79a1.05 1.05 0 1 0 2.1 0a1.05 1.05 0 1 0 -2.1 0M81.05 231.65a1.05 1.05 0 1 0 2.1 0a1.05 1.05 0 1 0 -2.1 0M81.5 231.51a1.05 1.05 0 1 0 2.1 0a1.05 1.05 0 1 0 -2.1 0M81.95 231.37a1.05 1.05 0 1 0 2.1 0a1.05 1.05 0 1 0 -2.1 0M82.4 231.23a1.05 1.05 0 1 0 2.1 0a1.05 1.05 0 1 0 -2.1 0M82.85 231.1a1.05 1.05 0 1 0 2.1 0a1.05 1.05 0 1 0 -2.1 0M83.3 230.96a1.05 1.05 0 1 0 2.1 0a1.05 1.05 0 1 0 -2.1 0M83.75 230.82a1.05 1.05 0 1 0 2.1 0a1.05 1.05 0 1 0 -2.1 0M84.2 230.68a1.05 1.05 0 1 0 2.1 0a1.05 1.05 0 1 0 -2.1 0M84.65 230.54a1.05 1.05 0 1 0 2.1 0a1.05 1.05 0 1 0 -2.1 0M85.1 230.41a1.05 1.05 0 1 0 2.1 0a1.05 1.05 0 1 0 -2.1 0M85.55 230.27a1.05 1.05 0 1 0 2.1 0a1.05 1.05 0 1 0 -2.1 0M86 230.13a1.05 1.05 0 1 0 2.1 0a1.05 1.05 0 1 0 -2.1 0M86.45 229.99a1.05 1.05 0 1 0 2.1 0a1.05 1.05 0 1 0 -2.1 0M86.9 229.85a1.05 1.05 0 1 0 2.1 0a1.05 1.05 0 1 0 -2.1 0M87.35 229.72a1.05 1.05 0 1 0 2.1 0a1.05 1.05 0 1 0 -2.1 0M87.8 229.58a1.05 1.05 0 1 0 2.1 0a1.05 1.05 0 1 0 -2.1 0M88.25 229.44a1.05 1.05 0 1 0 2.1 0a1.05 1.05 0 1 0 -2.1 0M88.7 229.3a1.05 1.05 0 1 0 2.1 0a1.05 1.05 0 1 0 -2.1 0M89.15 229.16a1.05 1.05 0 1 0 2.1 0a1.05 1.05 0 1 0 -2.1 0M89.6 229.03a1.05 1.05 0 1 0 2.1 0a1.05 1.05 0 1 0 -2.1 0M90.05 228.89a1.05 1.05 0 1 0 2.1 0a1.05 1.05 0 1 0 -2.1 0M90.5 228.75a1.05 1.05 0 1 0 2.1 0a1.05 1.05 0 1 0 -2.1 0M90.95 228.61a1.05 1.05 0 1 0 2.1 0a1.05 1.05 0 1 0 -2.1 0M91.4 228.47a1.05 1.05 0 1 0 2.1 0a1.05 1.05 0 1 0 -2.1 0M91.85 228.34a1.05 1.05 0 1 0 2.1 0a1.05 1.05 0 1 0 -2.1 0M92.3 228.2a1.05 1.05 0 1 0 2.1 0a1.05 1.05 0 1 0 -2.1 0M92.75 228.06a1.05 1.05 0 1 0 2.1 0a1.05 1.05 0 1 0 -2.1 0M93.2 227.92a1.05 1.05 0 1 0 2.1 0a1.05 1.05 0 1 0 -2.1 0M93.65 227.78a1.05 1.05 0 1 0 2.1 0a1.05 1.05 0 1 0 -2.1 0M94.1 227.64a1.05 1.05 0 1 0 2.1 0a1.05 1.05 0 1 0 -2.1 0M94.55 227.51a1.05 1.05 0 1 0 2.1 0a1.05 1.05 0 1 0 -2.1 0M95 227.37a1.05 1.05 0 1 0 2.1 0a1.05 1.05 0 1 0 -2.1 0M95.45 227.23a1.05 1.05 0 1 0 2.1 0a1.05 1.05 0 1 0 -2.1 0M95.9 227.08a1.05 1.05 0 1 0 2.1 0a1.05 1.05 0 1 0 -2.1 0M96.35 226.93a1.05 1.05 0 1 0 2.1 0a1.05 1.05 0 1 0 -2.1 0M96.8 226.77a1.05 1.05 0 1 0 2.1 0a1.05 1.05 0 1 0 -2.1 0M97.25 226.62a1.05 1.05 0 1 0 2.1 0a1.05 1.05 0 1 0 -2.1 0M97.7 226.46a1.05 1.05 0 1 0 2.1 0a1.05 1.05 0 1 0 -2.1 0M98.15 226.31a1.05 1.05 0 1 0 2.1 0a1.05 1.05 0 1 0 -2.1 0M98.6 226.15a1.05 1.05 0 1 0 2.1 0a1.05 1.05 0 1 0 -2.1 0M99.05 226a1.05 1.05 0 1 0 2.1 0a1.05 1.05 0 1 0 -2.1 0M99.5 225.85a1.05 1.05 0 1 0 2.1 0a1.05 1.05 0 1 0 -2.1 0M99.95 225.69a1.05 1.05 0 1 0 2.1 0a1.05 1.05 0 1 0 -2.1 0M100.4 225.54a1.05 1.05 0 1 0 2.1 0a1.05 1.05 0 1 0 -2.1 0M100.85 225.38a1.05 1.05 0 1 0 2.1 0a1.05 1.05 0 1 0 -2.1 0M101.3 225.23a1.05 1.05 0 1 0 2.1 0a1.05 1.05 0 1 0 -2.1 0M101.75 225.07a1.05 1.05 0 1 0 2.1 0a1.05 1.05 0 1 0 -2.1 0M102.2 224.92a1.05 1.05 0 1 0 2.1 0a1.05 1.05 0 1 0 -2.1 0M102.65 224.77a1.05 1.05 0 1 0 2.1 0a1.05 1.05 0 1 0 -2.1 0M103.1 224.61a1.05 1.05 0 1 0 2.1 0a1.05 1.05 0 1 0 -2.1 0M103.55 224.46a1.05 1.05 0 1 0 2.1 0a1.05 1.05 0 1 0 -2.1 0M104 224.3a1.05 1.05 0 1 0 2.1 0a1.05 1.05 0 1 0 -2.1 0M104.45 224.15a1.05 1.05 0 1 0 2.1 0a1.05 1.05 0 1 0 -2.1 0M104.9 223.99a1.05 1.05 0 1 0 2.1 0a1.05 1.05 0 1 0 -2.1 0M105.35 223.84a1.05 1.05 0 1 0 2.1 0a1.05 1.05 0 1 0 -2.1 0M105.8 223.69a1.05 1.05 0 1 0 2.1 0a1.05 1.05 0 1 0 -2.1 0M106.25 223.53a1.05 1.05 0 1 0 2.1 0a1.05 1.05 0 1 0 -2.1 0M106.7 223.38a1.05 1.05 0 1 0 2.1 0a1.05 1.05 0 1 0 -2.1 0M107.15 223.22a1.05 1.05 0 1 0 2.1 0a1.05 1.05 0 1 0 -2.1 0M107.6 223.07a1.05 1.05 0 1 0 2.1 0a1.05 1.05 0 1 0 -2.1 0M108.05 222.91a1.05 1.05 0 1 0 2.1 0a1.05 1.05 0 1 0 -2.1 0M108.5 222.76a1.05 1.05 0 1 0 2.1 0a1.05 1.05 0 1 0 -2.1 0M108.95 222.61a1.05 1.05 0 1 0 2.1 0a1.05 1.05 0 1 0 -2.1 0M109.4 222.45a1.05 1.05 0 1 0 2.1 0a1.05 1.05 0 1 0 -2.1 0M109.85 222.3a1.05 1.05 0 1 0 2.1 0a1.05 1.05 0 1 0 -2.1 0M110.3 222.14a1.05 1.05 0 1 0 2.1 0a1.05 1.05 0 1 0 -2.1 0M110.75 221.99a1.05 1.05 0 1 0 2.1 0a1.05 1.05 0 1 0 -2.1 0M111.2 221.83a1.05 1.05 0 1 0 2.1 0a1.05 1.05 0 1 0 -2.1 0M111.65 221.68a1.05 1.05 0 1 0 2.1 0a1.05 1.05 0 1 0 -2.1 0M112.1 221.53a1.05 1.05 0 1 0 2.1 0a1.05 1.05 0 1 0 -2.1 0M112.55 221.37a1.05 1.05 0 1 0 2.1 0a1.05 1.05 0 1 0 -2.1 0M113 221.22a1.05 1.05 0 1 0 2.1 0a1.05 1.05 0 1 0 -2.1 0M113.45 221.04a1.05 1.05 0 1 0 2.1 0a1.05 1.05 0 1 0 -2.1 0M113.9 220.86a1.05 1.05 0 1 0 2.1 0a1.05 1.05 0 1 0 -2.1 0M114.35 220.69a1.05 1.05 0 1 0 2.1 0a1.05 1.05 0 1 0 -2.1 0M114.8 220.51a1.05 1.05 0 1 0 2.1 0a1.05 1.05 0 1 0 -2.1 0M115.25 220.33a1.05 1.05 0 1 0 2.1 0a1.05 1.05 0 1 0 -2.1 0M115.7 220.16a1.05 1.05 0 1 0 2.1 0a1.05 1.05 0 1 0 -2.1 0M116.15 219.98a1.05 1.05 0 1 0 2.1 0a1.05 1.05 0 1 0 -2.1 0M116.6 219.8a1.05 1.05 0 1 0 2.1 0a1.05 1.05 0 1 0 -2.1 0M117.05 219.62a1.05 1.05 0 1 0 2.1 0a1.05 1.05 0 1 0 -2.1 0M117.5 219.45a1.05 1.05 0 1 0 2.1 0a1.05 1.05 0 1 0 -2.1 0M117.95 219.27a1.05 1.05 0 1 0 2.1 0a1.05 1.05 0 1 0 -2.1 0M118.4 219.09a1.05 1.05 0 1 0 2.1 0a1.05 1.05 0 1 0 -2.1 0M118.85 218.91a1.05 1.05 0 1 0 2.1 0a1.05 1.05 0 1 0 -2.1 0M119.3 218.74a1.05 1.05 0 1 0 2.1 0a1.05 1.05 0 1 0 -2.1 0M119.75 218.56a1.05 1.05 0 1 0 2.1 0a1.05 1.05 0 1 0 -2.1 0M120.2 218.38a1.05 1.05 0 1 0 2.1 0a1.05 1.05 0 1 0 -2.1 0M120.65 218.2a1.05 1.05 0 1 0 2.1 0a1.05 1.05 0 1 0 -2.1 0M121.1 218.03a1.05 1.05 0 1 0 2.1 0a1.05 1.05 0 1 0 -2.1 0M121.55 217.85a1.05 1.05 0 1 0 2.1 0a1.05 1.05 0 1 0 -2.1 0M122 217.67a1.05 1.05 0 1 0 2.1 0a1.05 1.05 0 1 0 -2.1 0M122.45 217.49a1.05 1.05 0 1 0 2.1 0a1.05 1.05 0 1 0 -2.1 0M122.9 217.32a1.05 1.05 0 1 0 2.1 0a1.05 1.05 0 1 0 -2.1 0M123.35 217.14a1.05 1.05 0 1 0 2.1 0a1.05 1.05 0 1 0 -2.1 0M123.8 216.96a1.05 1.05 0 1 0 2.1 0a1.05 1.05 0 1 0 -2.1 0M124.25 216.78a1.05 1.05 0 1 0 2.1 0a1.05 1.05 0 1 0 -2.1 0M124.7 216.61a1.05 1.05 0 1 0 2.1 0a1.05 1.05 0 1 0 -2.1 0M125.15 216.43a1.05 1.05 0 1 0 2.1 0a1.05 1.05 0 1 0 -2.1 0M125.6 216.25a1.05 1.05 0 1 0 2.1 0a1.05 1.05 0 1 0 -2.1 0M126.05 216.07a1.05 1.05 0 1 0 2.1 0a1.05 1.05 0 1 0 -2.1 0M126.5 215.9a1.05 1.05 0 1 0 2.1 0a1.05 1.05 0 1 0 -2.1 0M126.95 215.72a1.05 1.05 0 1 0 2.1 0a1.05 1.05 0 1 0 -2.1 0M127.4 215.54a1.05 1.05 0 1 0 2.1 0a1.05 1.05 0 1 0 -2.1 0M127.85 215.36a1.05 1.05 0 1 0 2.1 0a1.05 1.05 0 1 0 -2.1 0M128.3 215.19a1.05 1.05 0 1 0 2.1 0a1.05 1.05 0 1 0 -2.1 0M128.75 215.01a1.05 1.05 0 1 0 2.1 0a1.05 1.05 0 1 0 -2.1 0M129.2 214.83a1.05 1.05 0 1 0 2.1 0a1.05 1.05 0 1 0 -2.1 0M129.65 214.65a1.05 1.05 0 1 0 2.1 0a1.05 1.05 0 1 0 -2.1 0M130.1 214.48a1.05 1.05 0 1 0 2.1 0a1.05 1.05 0 1 0 -2.1 0M130.55 214.3a1.05 1.05 0 1 0 2.1 0a1.05 1.05 0 1 0 -2.1 0M131 214.11a1.05 1.05 0 1 0 2.1 0a1.05 1.05 0 1 0 -2.1 0M131.45 213.91a1.05 1.05 0 1 0 2.1 0a1.05 1.05 0 1 0 -2.1 0M131.9 213.72a1.05 1.05 0 1 0 2.1 0a1.05 1.05 0 1 0 -2.1 0M132.35 213.53a1.05 1.05 0 1 0 2.1 0a1.05 1.05 0 1 0 -2.1 0M132.8 213.34a1.05 1.05 0 1 0 2.1 0a1.05 1.05 0 1 0 -2.1 0M133.25 213.14a1.05 1.05 0 1 0 2.1 0a1.05 1.05 0 1 0 -2.1 0M133.7 212.95a1.05 1.05 0 1 0 2.1 0a1.05 1.05 0 1 0 -2.1 0M134.15 212.76a1.05 1.05 0 1 0 2.1 0a1.05 1.05 0 1 0 -2.1 0M134.6 212.56a1.05 1.05 0 1 0 2.1 0a1.05 1.05 0 1 0 -2.1 0M135.05 212.37a1.05 1.05 0 1 0 2.1 0a1.05 1.05 0 1 0 -2.1 0M135.5 212.18a1.05 1.05 0 1 0 2.1 0a1.05 1.05 0 1 0 -2.1 0M135.95 211.99a1.05 1.05 0 1 0 2.1 0a1.05 1.05 0 1 0 -2.1 0M136.4 211.79a1.05 1.05 0 1 0 2.1 0a1.05 1.05 0 1 0 -2.1 0M136.85 211.6a1.05 1.05 0 1 0 2.1 0a1.05 1.05 0 1 0 -2.1 0M137.3 211.41a1.05 1.05 0 1 0 2.1 0a1.05 1.05 0 1 0 -2.1 0M137.75 211.21a1.05 1.05 0 1 0 2.1 0a1.05 1.05 0 1 0 -2.1 0M138.2 211.02a1.05 1.05 0 1 0 2.1 0a1.05 1.05 0 1 0 -2.1 0M138.65 210.83a1.05 1.05 0 1 0 2.1 0a1.05 1.05 0 1 0 -2.1 0M139.1 210.64a1.05 1.05 0 1 0 2.1 0a1.05 1.05 0 1 0 -2.1 0M139.55 210.44a1.05 1.05 0 1 0 2.1 0a1.05 1.05 0 1 0 -2.1 0M140 210.25a1.05 1.05 0 1 0 2.1 0a1.05 1.05 0 1 0 -2.1 0M140.45 210.06a1.05 1.05 0 1 0 2.1 0a1.05 1.05 0 1 0 -2.1 0M140.9 209.86a1.05 1.05 0 1 0 2.1 0a1.05 1.05 0 1 0 -2.1 0M141.35 209.68a1.05 1.05 0 1 0 2.1 0a1.05 1.05 0 1 0 -2.1 0M141.8 209.49a1.05 1.05 0 1 0 2.1 0a1.05 1.05 0 1 0 -2.1 0M142.25 209.31a1.05 1.05 0 1 0 2.1 0a1.05 1.05 0 1 0 -2.1 0M142.7 209.12a1.05 1.05 0 1 0 2.1 0a1.05 1.05 0 1 0 -2.1 0M143.15 208.94a1.05 1.05 0 1 0 2.1 0a1.05 1.05 0 1 0 -2.1 0M143.6 208.76a1.05 1.05 0 1 0 2.1 0a1.05 1.05 0 1 0 -2.1 0M144.05 208.57a1.05 1.05 0 1 0 2.1 0a1.05 1.05 0 1 0 -2.1 0M144.5 208.39a1.05 1.05 0 1 0 2.1 0a1.05 1.05 0 1 0 -2.1 0M144.95 208.2a1.05 1.05 0 1 0 2.1 0a1.05 1.05 0 1 0 -2.1 0M145.4 208.02a1.05 1.05 0 1 0 2.1 0a1.05 1.05 0 1 0 -2.1 0M145.85 207.84a1.05 1.05 0 1 0 2.1 0a1.05 1.05 0 1 0 -2.1 0M146.3 207.65a1.05 1.05 0 1 0 2.1 0a1.05 1.05 0 1 0 -2.1 0M146.75 207.47a1.05 1.05 0 1 0 2.1 0a1.05 1.05 0 1 0 -2.1 0M147.2 207.28a1.05 1.05 0 1 0 2.1 0a1.05 1.05 0 1 0 -2.1 0M147.65 207.1a1.05 1.05 0 1 0 2.1 0a1.05 1.05 0 1 0 -2.1 0M148.1 206.92a1.05 1.05 0 1 0 2.1 0a1.05 1.05 0 1 0 -2.1 0M148.55 206.73a1.05 1.05 0 1 0 2.1 0a1.05 1.05 0 1 0 -2.1 0M149 206.55a1.05 1.05 0 1 0 2.1 0a1.05 1.05 0 1 0 -2.1 0M149.45 206.36a1.05 1.05 0 1 0 2.1 0a1.05 1.05 0 1 0 -2.1 0M149.9 206.16a1.05 1.05 0 1 0 2.1 0a1.05 1.05 0 1 0 -2.1 0M150.35 205.8a1.05 1.05 0 1 0 2.1 0a1.05 1.05 0 1 0 -2.1 0M150.8 205.44a1.05 1.05 0 1 0 2.1 0a1.05 1.05 0 1 0 -2.1 0M151.25 205.08a1.05 1.05 0 1 0 2.1 0a1.05 1.05 0 1 0 -2.1 0M151.7 204.72a1.05 1.05 0 1 0 2.1 0a1.05 1.05 0 1 0 -2.1 0M152.15 204.36a1.05 1.05 0 1 0 2.1 0a1.05 1.05 0 1 0 -2.1 0M152.6 203.37a1.05 1.05 0 1 0 2.1 0a1.05 1.05 0 1 0 -2.1 0M153.05 201.87a1.05 1.05 0 1 0 2.1 0a1.05 1.05 0 1 0 -2.1 0M153.5 200.37a1.05 1.05 0 1 0 2.1 0a1.05 1.05 0 1 0 -2.1 0M153.95 198.8a1.05 1.05 0 1 0 2.1 0a1.05 1.05 0 1 0 -2.1 0M154.4 197.23a1.05 1.05 0 1 0 2.1 0a1.05 1.05 0 1 0 -2.1 0M154.85 195.65a1.05 1.05 0 1 0 2.1 0a1.05 1.05 0 1 0 -2.1 0M155.3 192.89a1.05 1.05 0 1 0 2.1 0a1.05 1.05 0 1 0 -2.1 0M155.75 189.8a1.05 1.05 0 1 0 2.1 0a1.05 1.05 0 1 0 -2.1 0M156.2 186.74a1.05 1.05 0 1 0 2.1 0a1.05 1.05 0 1 0 -2.1 0M156.65 183.68a1.05 1.05 0 1 0 2.1 0a1.05 1.05 0 1 0 -2.1 0M157.1 180.53a1.05 1.05 0 1 0 2.1 0a1.05 1.05 0 1 0 -2.1 0M157.55 177.35a1.05 1.05 0 1 0 2.1 0a1.05 1.05 0 1 0 -2.1 0M158 174.18a1.05 1.05 0 1 0 2.1 0a1.05 1.05 0 1 0 -2.1 0M158.45 171a1.05 1.05 0 1 0 2.1 0a1.05 1.05 0 1 0 -2.1 0M158.9 168.62a1.05 1.05 0 1 0 2.1 0a1.05 1.05 0 1 0 -2.1 0M159.35 166.24a1.05 1.05 0 1 0 2.1 0a1.05 1.05 0 1 0 -2.1 0M159.8 163.85a1.05 1.05 0 1 0 2.1 0a1.05 1.05 0 1 0 -2.1 0M160.25 161.57a1.05 1.05 0 1 0 2.1 0a1.05 1.05 0 1 0 -2.1 0M160.7 159.63a1.05 1.05 0 1 0 2.1 0a1.05 1.05 0 1 0 -2.1 0M161.15 157.69a1.05 1.05 0 1 0 2.1 0a1.05 1.05 0 1 0 -2.1 0M161.6 155.77a1.05 1.05 0 1 0 2.1 0a1.05 1.05 0 1 0 -2.1 0M162.05 153.87a1.05 1.05 0 1 0 2.1 0a1.05 1.05 0 1 0 -2.1 0M162.5 151.98a1.05 1.05 0 1 0 2.1 0a1.05 1.05 0 1 0 -2.1 0M162.95 150.26a1.05 1.05 0 1 0 2.1 0a1.05 1.05 0 1 0 -2.1 0M163.4 149.19a1.05 1.05 0 1 0 2.1 0a1.05 1.05 0 1 0 -2.1 0M163.85 148.12a1.05 1.05 0 1 0 2.1 0a1.05 1.05 0 1 0 -2.1 0M164.3 147.29a1.05 1.05 0 1 0 2.1 0a1.05 1.05 0 1 0 -2.1 0M164.75 146.97a1.05 1.05 0 1 0 2.1 0a1.05 1.05 0 1 0 -2.1 0M165.2 146.65a1.05 1.05 0 1 0 2.1 0a1.05 1.05 0 1 0 -2.1 0M165.65 146.33a1.05 1.05 0 1 0 2.1 0a1.05 1.05 0 1 0 -2.1 0M166.1 146.01a1.05 1.05 0 1 0 2.1 0a1.05 1.05 0 1 0 -2.1 0M166.55 145.69a1.05 1.05 0 1 0 2.1 0a1.05 1.05 0 1 0 -2.1 0M167 145.37a1.05 1.05 0 1 0 2.1 0a1.05 1.05 0 1 0 -2.1 0M167.45 145.05a1.05 1.05 0 1 0 2.1 0a1.05 1.05 0 1 0 -2.1 0M167.9 144.74a1.05 1.05 0 1 0 2.1 0a1.05 1.05 0 1 0 -2.1 0M168.35 144.42a1.05 1.05 0 1 0 2.1 0a1.05 1.05 0 1 0 -2.1 0M168.8 144.11a1.05 1.05 0 1 0 2.1 0a1.05 1.05 0 1 0 -2.1 0M169.25 143.8a1.05 1.05 0 1 0 2.1 0a1.05 1.05 0 1 0 -2.1 0M169.7 143.48a1.05 1.05 0 1 0 2.1 0a1.05 1.05 0 1 0 -2.1 0M170.15 143.17a1.05 1.05 0 1 0 2.1 0a1.05 1.05 0 1 0 -2.1 0M170.6 142.85a1.05 1.05 0 1 0 2.1 0a1.05 1.05 0 1 0 -2.1 0M171.05 142.53a1.05 1.05 0 1 0 2.1 0a1.05 1.05 0 1 0 -2.1 0M171.5 142.21a1.05 1.05 0 1 0 2.1 0a1.05 1.05 0 1 0 -2.1 0M171.95 141.89a1.05 1.05 0 1 0 2.1 0a1.05 1.05 0 1 0 -2.1 0M172.4 141.57a1.05 1.05 0 1 0 2.1 0a1.05 1.05 0 1 0 -2.1 0M172.85 141.25a1.05 1.05 0 1 0 2.1 0a1.05 1.05 0 1 0 -2.1 0M173.3 140.93a1.05 1.05 0 1 0 2.1 0a1.05 1.05 0 1 0 -2.1 0M173.75 140.61a1.05 1.05 0 1 0 2.1 0a1.05 1.05 0 1 0 -2.1 0M174.2 140.29a1.05 1.05 0 1 0 2.1 0a1.05 1.05 0 1 0 -2.1 0M174.65 139.96a1.05 1.05 0 1 0 2.1 0a1.05 1.05 0 1 0 -2.1 0M175.1 139.64a1.05 1.05 0 1 0 2.1 0a1.05 1.05 0 1 0 -2.1 0M175.55 139.32a1.05 1.05 0 1 0 2.1 0a1.05 1.05 0 1 0 -2.1 0M176 139a1.05 1.05 0 1 0 2.1 0a1.05 1.05 0 1 0 -2.1 0M176.45 138.68a1.05 1.05 0 1 0 2.1 0a1.05 1.05 0 1 0 -2.1 0M176.9 138.36a1.05 1.05 0 1 0 2.1 0a1.05 1.05 0 1 0 -2.1 0M177.35 138.04a1.05 1.05 0 1 0 2.1 0a1.05 1.05 0 1 0 -2.1 0M177.8 137.72a1.05 1.05 0 1 0 2.1 0a1.05 1.05 0 1 0 -2.1 0M178.25 137.4a1.05 1.05 0 1 0 2.1 0a1.05 1.05 0 1 0 -2.1 0M178.7 137.08a1.05 1.05 0 1 0 2.1 0a1.05 1.05 0 1 0 -2.1 0M179.15 136.76a1.05 1.05 0 1 0 2.1 0a1.05 1.05 0 1 0 -2.1 0M179.6 136.43a1.05 1.05 0 1 0 2.1 0a1.05 1.05 0 1 0 -2.1 0M180.05 136.11a1.05 1.05 0 1 0 2.1 0a1.05 1.05 0 1 0 -2.1 0M180.5 135.78a1.05 1.05 0 1 0 2.1 0a1.05 1.05 0 1 0 -2.1 0M180.95 135.46a1.05 1.05 0 1 0 2.1 0a1.05 1.05 0 1 0 -2.1 0M181.4 135.14a1.05 1.05 0 1 0 2.1 0a1.05 1.05 0 1 0 -2.1 0M181.85 134.81a1.05 1.05 0 1 0 2.1 0a1.05 1.05 0 1 0 -2.1 0M182.3 134.49a1.05 1.05 0 1 0 2.1 0a1.05 1.05 0 1 0 -2.1 0M182.75 134.16a1.05 1.05 0 1 0 2.1 0a1.05 1.05 0 1 0 -2.1 0M183.2 133.84a1.05 1.05 0 1 0 2.1 0a1.05 1.05 0 1 0 -2.1 0M183.65 133.52a1.05 1.05 0 1 0 2.1 0a1.05 1.05 0 1 0 -2.1 0M184.1 133.19a1.05 1.05 0 1 0 2.1 0a1.05 1.05 0 1 0 -2.1 0M184.55 132.88a1.05 1.05 0 1 0 2.1 0a1.05 1.05 0 1 0 -2.1 0M185 132.56a1.05 1.05 0 1 0 2.1 0a1.05 1.05 0 1 0 -2.1 0M185.45 132.24a1.05 1.05 0 1 0 2.1 0a1.05 1.05 0 1 0 -2.1 0M185.9 131.92a1.05 1.05 0 1 0 2.1 0a1.05 1.05 0 1 0 -2.1 0M186.35 131.6a1.05 1.05 0 1 0 2.1 0a1.05 1.05 0 1 0 -2.1 0M186.8 131.28a1.05 1.05 0 1 0 2.1 0a1.05 1.05 0 1 0 -2.1 0M187.25 130.96a1.05 1.05 0 1 0 2.1 0a1.05 1.05 0 1 0 -2.1 0M187.7 130.64a1.05 1.05 0 1 0 2.1 0a1.05 1.05 0 1 0 -2.1 0M188.15 130.33a1.05 1.05 0 1 0 2.1 0a1.05 1.05 0 1 0 -2.1 0M188.6 130.01a1.05 1.05 0 1 0 2.1 0a1.05 1.05 0 1 0 -2.1 0M189.05 129.69a1.05 1.05 0 1 0 2.1 0a1.05 1.05 0 1 0 -2.1 0M189.5 129.37a1.05 1.05 0 1 0 2.1 0a1.05 1.05 0 1 0 -2.1 0M189.95 129.05a1.05 1.05 0 1 0 2.1 0a1.05 1.05 0 1 0 -2.1 0M190.4 128.73a1.05 1.05 0 1 0 2.1 0a1.05 1.05 0 1 0 -2.1 0M190.85 128.41a1.05 1.05 0 1 0 2.1 0a1.05 1.05 0 1 0 -2.1 0M191.3 128.01a1.05 1.05 0 1 0 2.1 0a1.05 1.05 0 1 0 -2.1 0M191.75 127.44a1.05 1.05 0 1 0 2.1 0a1.05 1.05 0 1 0 -2.1 0M192.2 126.88a1.05 1.05 0 1 0 2.1 0a1.05 1.05 0 1 0 -2.1 0M192.65 126.31a1.05 1.05 0 1 0 2.1 0a1.05 1.05 0 1 0 -2.1 0M193.1 125.75a1.05 1.05 0 1 0 2.1 0a1.05 1.05 0 1 0 -2.1 0M193.55 125.18a1.05 1.05 0 1 0 2.1 0a1.05 1.05 0 1 0 -2.1 0M194 124.61a1.05 1.05 0 1 0 2.1 0a1.05 1.05 0 1 0 -2.1 0M194.45 124.05a1.05 1.05 0 1 0 2.1 0a1.05 1.05 0 1 0 -2.1 0M194.9 123.48a1.05 1.05 0 1 0 2.1 0a1.05 1.05 0 1 0 -2.1 0M195.35 122.91a1.05 1.05 0 1 0 2.1 0a1.05 1.05 0 1 0 -2.1 0M195.8 122.35a1.05 1.05 0 1 0 2.1 0a1.05 1.05 0 1 0 -2.1 0M196.25 121.78a1.05 1.05 0 1 0 2.1 0a1.05 1.05 0 1 0 -2.1 0M196.7 121.21a1.05 1.05 0 1 0 2.1 0a1.05 1.05 0 1 0 -2.1 0M197.15 120.64a1.05 1.05 0 1 0 2.1 0a1.05 1.05 0 1 0 -2.1 0M197.6 120.04a1.05 1.05 0 1 0 2.1 0a1.05 1.05 0 1 0 -2.1 0M198.05 119.45a1.05 1.05 0 1 0 2.1 0a1.05 1.05 0 1 0 -2.1 0M198.5 118.86a1.05 1.05 0 1 0 2.1 0a1.05 1.05 0 1 0 -2.1 0M198.95 118.26a1.05 1.05 0 1 0 2.1 0a1.05 1.05 0 1 0 -2.1 0M199.4 117.67a1.05 1.05 0 1 0 2.1 0a1.05 1.05 0 1 0 -2.1 0M199.85 117.08a1.05 1.05 0 1 0 2.1 0a1.05 1.05 0 1 0 -2.1 0M200.3 116.48a1.05 1.05 0 1 0 2.1 0a1.05 1.05 0 1 0 -2.1 0M200.75 115.89a1.05 1.05 0 1 0 2.1 0a1.05 1.05 0 1 0 -2.1 0M201.2 115.3a1.05 1.05 0 1 0 2.1 0a1.05 1.05 0 1 0 -2.1 0M201.65 114.5a1.05 1.05 0 1 0 2.1 0a1.05 1.05 0 1 0 -2.1 0M202.1 113.6a1.05 1.05 0 1 0 2.1 0a1.05 1.05 0 1 0 -2.1 0M202.55 112.7a1.05 1.05 0 1 0 2.1 0a1.05 1.05 0 1 0 -2.1 0M203 111.8a1.05 1.05 0 1 0 2.1 0a1.05 1.05 0 1 0 -2.1 0M203.45 110.9a1.05 1.05 0 1 0 2.1 0a1.05 1.05 0 1 0 -2.1 0M203.9 110a1.05 1.05 0 1 0 2.1 0a1.05 1.05 0 1 0 -2.1 0M204.35 108.97a1.05 1.05 0 1 0 2.1 0a1.05 1.05 0 1 0 -2.1 0M204.8 107.48a1.05 1.05 0 1 0 2.1 0a1.05 1.05 0 1 0 -2.1 0M205.25 105.98a1.05 1.05 0 1 0 2.1 0a1.05 1.05 0 1 0 -2.1 0M205.7 104.49a1.05 1.05 0 1 0 2.1 0a1.05 1.05 0 1 0 -2.1 0M206.15 103a1.05 1.05 0 1 0 2.1 0a1.05 1.05 0 1 0 -2.1 0M206.6 101.28a1.05 1.05 0 1 0 2.1 0a1.05 1.05 0 1 0 -2.1 0M207.05 99.11a1.05 1.05 0 1 0 2.1 0a1.05 1.05 0 1 0 -2.1 0M207.5 96.95a1.05 1.05 0 1 0 2.1 0a1.05 1.05 0 1 0 -2.1 0M207.95 94.79a1.05 1.05 0 1 0 2.1 0a1.05 1.05 0 1 0 -2.1 0M208.4 92.62a1.05 1.05 0 1 0 2.1 0a1.05 1.05 0 1 0 -2.1 0M208.85 90.51a1.05 1.05 0 1 0 2.1 0a1.05 1.05 0 1 0 -2.1 0M209.3 88.42a1.05 1.05 0 1 0 2.1 0a1.05 1.05 0 1 0 -2.1 0M209.75 86.34a1.05 1.05 0 1 0 2.1 0a1.05 1.05 0 1 0 -2.1 0M210.2 84.25a1.05 1.05 0 1 0 2.1 0a1.05 1.05 0 1 0 -2.1 0M210.65 82.16a1.05 1.05 0 1 0 2.1 0a1.05 1.05 0 1 0 -2.1 0M211.1 80.44a1.05 1.05 0 1 0 2.1 0a1.05 1.05 0 1 0 -2.1 0M211.55 78.83a1.05 1.05 0 1 0 2.1 0a1.05 1.05 0 1 0 -2.1 0M212 77.21a1.05 1.05 0 1 0 2.1 0a1.05 1.05 0 1 0 -2.1 0M212.45 75.6a1.05 1.05 0 1 0 2.1 0a1.05 1.05 0 1 0 -2.1 0M212.9 73.98a1.05 1.05 0 1 0 2.1 0a1.05 1.05 0 1 0 -2.1 0M213.35 73.27a1.05 1.05 0 1 0 2.1 0a1.05 1.05 0 1 0 -2.1 0M213.8 72.68a1.05 1.05 0 1 0 2.1 0a1.05 1.05 0 1 0 -2.1 0M214.25 72.09a1.05 1.05 0 1 0 2.1 0a1.05 1.05 0 1 0 -2.1 0M214.7 71.49a1.05 1.05 0 1 0 2.1 0a1.05 1.05 0 1 0 -2.1 0M215.15 70.9a1.05 1.05 0 1 0 2.1 0a1.05 1.05 0 1 0 -2.1 0M215.6 70.61a1.05 1.05 0 1 0 2.1 0a1.05 1.05 0 1 0 -2.1 0M216.05 70.32a1.05 1.05 0 1 0 2.1 0a1.05 1.05 0 1 0 -2.1 0M216.5 70.03a1.05 1.05 0 1 0 2.1 0a1.05 1.05 0 1 0 -2.1 0M216.95 69.74a1.05 1.05 0 1 0 2.1 0a1.05 1.05 0 1 0 -2.1 0M217.4 69.45a1.05 1.05 0 1 0 2.1 0a1.05 1.05 0 1 0 -2.1 0M217.85 69.16a1.05 1.05 0 1 0 2.1 0a1.05 1.05 0 1 0 -2.1 0M218.3 68.87a1.05 1.05 0 1 0 2.1 0a1.05 1.05 0 1 0 -2.1 0M218.75 68.58a1.05 1.05 0 1 0 2.1 0a1.05 1.05 0 1 0 -2.1 0M219.2 68.29a1.05 1.05 0 1 0 2.1 0a1.05 1.05 0 1 0 -2.1 0M219.65 68a1.05 1.05 0 1 0 2.1 0a1.05 1.05 0 1 0 -2.1 0M220.1 67.71a1.05 1.05 0 1 0 2.1 0a1.05 1.05 0 1 0 -2.1 0M220.55 67.42a1.05 1.05 0 1 0 2.1 0a1.05 1.05 0 1 0 -2.1 0M221 67.14a1.05 1.05 0 1 0 2.1 0a1.05 1.05 0 1 0 -2.1 0M221.45 66.85a1.05 1.05 0 1 0 2.1 0a1.05 1.05 0 1 0 -2.1 0M221.9 66.56a1.05 1.05 0 1 0 2.1 0a1.05 1.05 0 1 0 -2.1 0M222.35 66.27a1.05 1.05 0 1 0 2.1 0a1.05 1.05 0 1 0 -2.1 0M222.8 65.98a1.05 1.05 0 1 0 2.1 0a1.05 1.05 0 1 0 -2.1 0M223.25 65.69a1.05 1.05 0 1 0 2.1 0a1.05 1.05 0 1 0 -2.1 0M223.7 65.4a1.05 1.05 0 1 0 2.1 0a1.05 1.05 0 1 0 -2.1 0M224.15 65.11a1.05 1.05 0 1 0 2.1 0a1.05 1.05 0 1 0 -2.1 0M224.6 64.82a1.05 1.05 0 1 0 2.1 0a1.05 1.05 0 1 0 -2.1 0M225.05 64.53a1.05 1.05 0 1 0 2.1 0a1.05 1.05 0 1 0 -2.1 0M225.5 64.25a1.05 1.05 0 1 0 2.1 0a1.05 1.05 0 1 0 -2.1 0M225.95 63.98a1.05 1.05 0 1 0 2.1 0a1.05 1.05 0 1 0 -2.1 0M226.4 63.71a1.05 1.05 0 1 0 2.1 0a1.05 1.05 0 1 0 -2.1 0M226.85 63.44a1.05 1.05 0 1 0 2.1 0a1.05 1.05 0 1 0 -2.1 0M227.3 63.17a1.05 1.05 0 1 0 2.1 0a1.05 1.05 0 1 0 -2.1 0M227.75 62.9a1.05 1.05 0 1 0 2.1 0a1.05 1.05 0 1 0 -2.1 0M228.2 62.63a1.05 1.05 0 1 0 2.1 0a1.05 1.05 0 1 0 -2.1 0M228.65 62.36a1.05 1.05 0 1 0 2.1 0a1.05 1.05 0 1 0 -2.1 0M229.1 62.09a1.05 1.05 0 1 0 2.1 0a1.05 1.05 0 1 0 -2.1 0M229.55 61.82a1.05 1.05 0 1 0 2.1 0a1.05 1.05 0 1 0 -2.1 0M230 61.55a1.05 1.05 0 1 0 2.1 0a1.05 1.05 0 1 0 -2.1 0M230.45 61.28a1.05 1.05 0 1 0 2.1 0a1.05 1.05 0 1 0 -2.1 0M230.9 61.01a1.05 1.05 0 1 0 2.1 0a1.05 1.05 0 1 0 -2.1 0M231.35 60.74a1.05 1.05 0 1 0 2.1 0a1.05 1.05 0 1 0 -2.1 0M231.8 60.47a1.05 1.05 0 1 0 2.1 0a1.05 1.05 0 1 0 -2.1 0M232.25 60.2a1.05 1.05 0 1 0 2.1 0a1.05 1.05 0 1 0 -2.1 0M232.7 59.93a1.05 1.05 0 1 0 2.1 0a1.05 1.05 0 1 0 -2.1 0M233.15 59.66a1.05 1.05 0 1 0 2.1 0a1.05 1.05 0 1 0 -2.1 0M233.6 59.39a1.05 1.05 0 1 0 2.1 0a1.05 1.05 0 1 0 -2.1 0M234.05 59.12a1.05 1.05 0 1 0 2.1 0a1.05 1.05 0 1 0 -2.1 0M234.5 58.85a1.05 1.05 0 1 0 2.1 0a1.05 1.05 0 1 0 -2.1 0M234.95 58.58a1.05 1.05 0 1 0 2.1 0a1.05 1.05 0 1 0 -2.1 0M235.4 58.31a1.05 1.05 0 1 0 2.1 0a1.05 1.05 0 1 0 -2.1 0M235.85 58.04a1.05 1.05 0 1 0 2.1 0a1.05 1.05 0 1 0 -2.1 0M236.3 57.77a1.05 1.05 0 1 0 2.1 0a1.05 1.05 0 1 0 -2.1 0M236.75 57.5a1.05 1.05 0 1 0 2.1 0a1.05 1.05 0 1 0 -2.1 0M237.2 57.23a1.05 1.05 0 1 0 2.1 0a1.05 1.05 0 1 0 -2.1 0M237.65 56.96a1.05 1.05 0 1 0 2.1 0a1.05 1.05 0 1 0 -2.1 0M238.1 56.69a1.05 1.05 0 1 0 2.1 0a1.05 1.05 0 1 0 -2.1 0M238.55 56.42a1.05 1.05 0 1 0 2.1 0a1.05 1.05 0 1 0 -2.1 0M239 56.15a1.05 1.05 0 1 0 2.1 0a1.05 1.05 0 1 0 -2.1 0M239.45 55.88a1.05 1.05 0 1 0 2.1 0a1.05 1.05 0 1 0 -2.1 0M239.9 55.61a1.05 1.05 0 1 0 2.1 0a1.05 1.05 0 1 0 -2.1 0M240.35 55.34a1.05 1.05 0 1 0 2.1 0a1.05 1.05 0 1 0 -2.1 0M240.8 55.07a1.05 1.05 0 1 0 2.1 0a1.05 1.05 0 1 0 -2.1 0M241.25 54.8a1.05 1.05 0 1 0 2.1 0a1.05 1.05 0 1 0 -2.1 0M241.7 54.53a1.05 1.05 0 1 0 2.1 0a1.05 1.05 0 1 0 -2.1 0M242.15 54.26a1.05 1.05 0 1 0 2.1 0a1.05 1.05 0 1 0 -2.1 0M242.6 53.99a1.05 1.05 0 1 0 2.1 0a1.05 1.05 0 1 0 -2.1 0M243.05 53.72a1.05 1.05 0 1 0 2.1 0a1.05 1.05 0 1 0 -2.1 0M243.5 53.45a1.05 1.05 0 1 0 2.1 0a1.05 1.05 0 1 0 -2.1 0M243.95 53.18a1.05 1.05 0 1 0 2.1 0a1.05 1.05 0 1 0 -2.1 0M244.4 52.91a1.05 1.05 0 1 0 2.1 0a1.05 1.05 0 1 0 -2.1 0M244.85 52.64a1.05 1.05 0 1 0 2.1 0a1.05 1.05 0 1 0 -2.1 0M245.3 52.37a1.05 1.05 0 1 0 2.1 0a1.05 1.05 0 1 0 -2.1 0M245.75 52.1a1.05 1.05 0 1 0 2.1 0a1.05 1.05 0 1 0 -2.1 0M246.2 51.83a1.05 1.05 0 1 0 2.1 0a1.05 1.05 0 1 0 -2.1 0M246.65 51.56a1.05 1.05 0 1 0 2.1 0a1.05 1.05 0 1 0 -2.1 0M247.1 51.29a1.05 1.05 0 1 0 2.1 0a1.05 1.05 0 1 0 -2.1 0M247.55 51.02a1.05 1.05 0 1 0 2.1 0a1.05 1.05 0 1 0 -2.1 0M248 50.75a1.05 1.05 0 1 0 2.1 0a1.05 1.05 0 1 0 -2.1 0M248.45 50.48a1.05 1.05 0 1 0 2.1 0a1.05 1.05 0 1 0 -2.1 0M248.9 50.21a1.05 1.05 0 1 0 2.1 0a1.05 1.05 0 1 0 -2.1 0M249.35 49.94a1.05 1.05 0 1 0 2.1 0a1.05 1.05 0 1 0 -2.1 0M249.8 49.67a1.05 1.05 0 1 0 2.1 0a1.05 1.05 0 1 0 -2.1 0M250.25 49.4a1.05 1.05 0 1 0 2.1 0a1.05 1.05 0 1 0 -2.1 0M250.7 49.13a1.05 1.05 0 1 0 2.1 0a1.05 1.05 0 1 0 -2.1 0M251.15 48.86a1.05 1.05 0 1 0 2.1 0a1.05 1.05 0 1 0 -2.1 0M251.6 48.59a1.05 1.05 0 1 0 2.1 0a1.05 1.05 0 1 0 -2.1 0M252.05 48.32a1.05 1.05 0 1 0 2.1 0a1.05 1.05 0 1 0 -2.1 0M252.5 48.05a1.05 1.05 0 1 0 2.1 0a1.05 1.05 0 1 0 -2.1 0M252.95 47.78a1.05 1.05 0 1 0 2.1 0a1.05 1.05 0 1 0 -2.1 0M253.4 47.51a1.05 1.05 0 1 0 2.1 0a1.05 1.05 0 1 0 -2.1 0M253.85 47.24a1.05 1.05 0 1 0 2.1 0a1.05 1.05 0 1 0 -2.1 0M254.3 46.97a1.05 1.05 0 1 0 2.1 0a1.05 1.05 0 1 0 -2.1 0M254.75 46.7a1.05 1.05 0 1 0 2.1 0a1.05 1.05 0 1 0 -2.1 0M255.2 46.43a1.05 1.05 0 1 0 2.1 0a1.05 1.05 0 1 0 -2.1 0M255.65 46.16a1.05 1.05 0 1 0 2.1 0a1.05 1.05 0 1 0 -2.1 0M256.1 45.89a1.05 1.05 0 1 0 2.1 0a1.05 1.05 0 1 0 -2.1 0M256.55 45.62a1.05 1.05 0 1 0 2.1 0a1.05 1.05 0 1 0 -2.1 0M257 45.35a1.05 1.05 0 1 0 2.1 0a1.05 1.05 0 1 0 -2.1 0M257.45 45.08a1.05 1.05 0 1 0 2.1 0a1.05 1.05 0 1 0 -2.1 0M257.9 44.81a1.05 1.05 0 1 0 2.1 0a1.05 1.05 0 1 0 -2.1 0M258.35 44.54a1.05 1.05 0 1 0 2.1 0a1.05 1.05 0 1 0 -2.1 0M258.8 44.27a1.05 1.05 0 1 0 2.1 0a1.05 1.05 0 1 0 -2.1 0M259.25 44a1.05 1.05 0 1 0 2.1 0a1.05 1.05 0 1 0 -2.1 0M259.7 43.73a1.05 1.05 0 1 0 2.1 0a1.05 1.05 0 1 0 -2.1 0M260.15 43.46a1.05 1.05 0 1 0 2.1 0a1.05 1.05 0 1 0 -2.1 0M260.6 43.19a1.05 1.05 0 1 0 2.1 0a1.05 1.05 0 1 0 -2.1 0M261.05 42.92a1.05 1.05 0 1 0 2.1 0a1.05 1.05 0 1 0 -2.1 0M261.5 42.65a1.05 1.05 0 1 0 2.1 0a1.05 1.05 0 1 0 -2.1 0M261.95 42.39a1.05 1.05 0 1 0 2.1 0a1.05 1.05 0 1 0 -2.1 0M262.4 42.12a1.05 1.05 0 1 0 2.1 0a1.05 1.05 0 1 0 -2.1 0M262.85 41.85a1.05 1.05 0 1 0 2.1 0a1.05 1.05 0 1 0 -2.1 0M263.3 41.58a1.05 1.05 0 1 0 2.1 0a1.05 1.05 0 1 0 -2.1 0M263.75 41.31a1.05 1.05 0 1 0 2.1 0a1.05 1.05 0 1 0 -2.1 0M264.2 41.04a1.05 1.05 0 1 0 2.1 0a1.05 1.05 0 1 0 -2.1 0M264.65 40.78a1.05 1.05 0 1 0 2.1 0a1.05 1.05 0 1 0 -2.1 0M265.1 40.51a1.05 1.05 0 1 0 2.1 0a1.05 1.05 0 1 0 -2.1 0M265.55 40.24a1.05 1.05 0 1 0 2.1 0a1.05 1.05 0 1 0 -2.1 0M266 39.98a1.05 1.05 0 1 0 2.1 0a1.05 1.05 0 1 0 -2.1 0M266.45 39.8a1.05 1.05 0 1 0 2.1 0a1.05 1.05 0 1 0 -2.1 0M266.9 39.62a1.05 1.05 0 1 0 2.1 0a1.05 1.05 0 1 0 -2.1 0M267.35 39.44a1.05 1.05 0 1 0 2.1 0a1.05 1.05 0 1 0 -2.1 0M267.8 39.26a1.05 1.05 0 1 0 2.1 0a1.05 1.05 0 1 0 -2.1 0M268.25 39.08a1.05 1.05 0 1 0 2.1 0a1.05 1.05 0 1 0 -2.1 0M268.7 38.9a1.05 1.05 0 1 0 2.1 0a1.05 1.05 0 1 0 -2.1 0M269.15 38.77a1.05 1.05 0 1 0 2.1 0a1.05 1.05 0 1 0 -2.1 0M269.6 38.7a1.05 1.05 0 1 0 2.1 0a1.05 1.05 0 1 0 -2.1 0M270.05 38.63a1.05 1.05 0 1 0 2.1 0a1.05 1.05 0 1 0 -2.1 0M270.5 38.57a1.05 1.05 0 1 0 2.1 0a1.05 1.05 0 1 0 -2.1 0M270.95 38.5a1.05 1.05 0 1 0 2.1 0a1.05 1.05 0 1 0 -2.1 0M271.4 38.43a1.05 1.05 0 1 0 2.1 0a1.05 1.05 0 1 0 -2.1 0M271.85 38.36a1.05 1.05 0 1 0 2.1 0a1.05 1.05 0 1 0 -2.1 0M272.3 38.29a1.05 1.05 0 1 0 2.1 0a1.05 1.05 0 1 0 -2.1 0M272.75 38.23a1.05 1.05 0 1 0 2.1 0a1.05 1.05 0 1 0 -2.1 0M273.2 38.16a1.05 1.05 0 1 0 2.1 0a1.05 1.05 0 1 0 -2.1 0M273.65 38.09a1.05 1.05 0 1 0 2.1 0a1.05 1.05 0 1 0 -2.1 0M274.1 38.02a1.05 1.05 0 1 0 2.1 0a1.05 1.05 0 1 0 -2.1 0M274.55 37.99a1.05 1.05 0 1 0 2.1 0a1.05 1.05 0 1 0 -2.1 0M275 37.98a1.05 1.05 0 1 0 2.1 0a1.05 1.05 0 1 0 -2.1 0M275.45 37.96a1.05 1.05 0 1 0 2.1 0a1.05 1.05 0 1 0 -2.1 0M275.9 37.95a1.05 1.05 0 1 0 2.1 0a1.05 1.05 0 1 0 -2.1 0M276.35 37.93a1.05 1.05 0 1 0 2.1 0a1.05 1.05 0 1 0 -2.1 0M276.8 37.92a1.05 1.05 0 1 0 2.1 0a1.05 1.05 0 1 0 -2.1 0M277.25 37.9a1.05 1.05 0 1 0 2.1 0a1.05 1.05 0 1 0 -2.1 0M277.7 37.89a1.05 1.05 0 1 0 2.1 0a1.05 1.05 0 1 0 -2.1 0M278.15 37.87a1.05 1.05 0 1 0 2.1 0a1.05 1.05 0 1 0 -2.1 0M278.6 37.86a1.05 1.05 0 1 0 2.1 0a1.05 1.05 0 1 0 -2.1 0M279.05 37.84a1.05 1.05 0 1 0 2.1 0a1.05 1.05 0 1 0 -2.1 0M279.5 37.83a1.05 1.05 0 1 0 2.1 0a1.05 1.05 0 1 0 -2.1 0M279.95 37.81a1.05 1.05 0 1 0 2.1 0a1.05 1.05 0 1 0 -2.1 0M280.4 37.8a1.05 1.05 0 1 0 2.1 0a1.05 1.05 0 1 0 -2.1 0M280.85 37.78a1.05 1.05 0 1 0 2.1 0a1.05 1.05 0 1 0 -2.1 0M281.3 37.77a1.05 1.05 0 1 0 2.1 0a1.05 1.05 0 1 0 -2.1 0M281.75 37.75a1.05 1.05 0 1 0 2.1 0a1.05 1.05 0 1 0 -2.1 0M282.2 37.74a1.05 1.05 0 1 0 2.1 0a1.05 1.05 0 1 0 -2.1 0M282.65 37.72a1.05 1.05 0 1 0 2.1 0a1.05 1.05 0 1 0 -2.1 0M283.1 37.71a1.05 1.05 0 1 0 2.1 0a1.05 1.05 0 1 0 -2.1 0M283.55 37.69a1.05 1.05 0 1 0 2.1 0a1.05 1.05 0 1 0 -2.1 0M284 37.68a1.05 1.05 0 1 0 2.1 0a1.05 1.05 0 1 0 -2.1 0M284.45 37.66a1.05 1.05 0 1 0 2.1 0a1.05 1.05 0 1 0 -2.1 0M284.9 37.65a1.05 1.05 0 1 0 2.1 0a1.05 1.05 0 1 0 -2.1 0M285.35 37.63a1.05 1.05 0 1 0 2.1 0a1.05 1.05 0 1 0 -2.1 0M285.8 37.62a1.05 1.05 0 1 0 2.1 0a1.05 1.05 0 1 0 -2.1 0M286.25 37.6a1.05 1.05 0 1 0 2.1 0a1.05 1.05 0 1 0 -2.1 0M286.7 37.59a1.05 1.05 0 1 0 2.1 0a1.05 1.05 0 1 0 -2.1 0M287.15 37.57a1.05 1.05 0 1 0 2.1 0a1.05 1.05 0 1 0 -2.1 0M287.6 37.56a1.05 1.05 0 1 0 2.1 0a1.05 1.05 0 1 0 -2.1 0M288.05 37.54a1.05 1.05 0 1 0 2.1 0a1.05 1.05 0 1 0 -2.1 0M288.5 37.53a1.05 1.05 0 1 0 2.1 0a1.05 1.05 0 1 0 -2.1 0M288.95 37.51a1.05 1.05 0 1 0 2.1 0a1.05 1.05 0 1 0 -2.1 0M289.4 37.5a1.05 1.05 0 1 0 2.1 0a1.05 1.05 0 1 0 -2.1 0M289.85 37.48a1.05 1.05 0 1 0 2.1 0a1.05 1.05 0 1 0 -2.1 0M290.3 37.47a1.05 1.05 0 1 0 2.1 0a1.05 1.05 0 1 0 -2.1 0M290.75 37.45a1.05 1.05 0 1 0 2.1 0a1.05 1.05 0 1 0 -2.1 0M291.2 37.44a1.05 1.05 0 1 0 2.1 0a1.05 1.05 0 1 0 -2.1 0M291.65 37.42a1.05 1.05 0 1 0 2.1 0a1.05 1.05 0 1 0 -2.1 0M292.1 37.41a1.05 1.05 0 1 0 2.1 0a1.05 1.05 0 1 0 -2.1 0M292.55 37.39a1.05 1.05 0 1 0 2.1 0a1.05 1.05 0 1 0 -2.1 0M293 37.38a1.05 1.05 0 1 0 2.1 0a1.05 1.05 0 1 0 -2.1 0M293.45 37.36a1.05 1.05 0 1 0 2.1 0a1.05 1.05 0 1 0 -2.1 0M293.9 37.35a1.05 1.05 0 1 0 2.1 0a1.05 1.05 0 1 0 -2.1 0M294.35 37.33a1.05 1.05 0 1 0 2.1 0a1.05 1.05 0 1 0 -2.1 0M294.8 37.32a1.05 1.05 0 1 0 2.1 0a1.05 1.05 0 1 0 -2.1 0M295.25 37.3a1.05 1.05 0 1 0 2.1 0a1.05 1.05 0 1 0 -2.1 0M295.7 37.28a1.05 1.05 0 1 0 2.1 0a1.05 1.05 0 1 0 -2.1 0M296.15 37.26a1.05 1.05 0 1 0 2.1 0a1.05 1.05 0 1 0 -2.1 0M296.6 37.23a1.05 1.05 0 1 0 2.1 0a1.05 1.05 0 1 0 -2.1 0M297.05 37.2a1.05 1.05 0 1 0 2.1 0a1.05 1.05 0 1 0 -2.1 0M297.5 37.18a1.05 1.05 0 1 0 2.1 0a1.05 1.05 0 1 0 -2.1 0M297.95 37.15a1.05 1.05 0 1 0 2.1 0a1.05 1.05 0 1 0 -2.1 0M298.4 37.13a1.05 1.05 0 1 0 2.1 0a1.05 1.05 0 1 0 -2.1 0M298.85 37.1a1.05 1.05 0 1 0 2.1 0a1.05 1.05 0 1 0 -2.1 0M299.3 37.08a1.05 1.05 0 1 0 2.1 0a1.05 1.05 0 1 0 -2.1 0M299.75 37.05a1.05 1.05 0 1 0 2.1 0a1.05 1.05 0 1 0 -2.1 0M300.2 37.03a1.05 1.05 0 1 0 2.1 0a1.05 1.05 0 1 0 -2.1 0M300.65 37a1.05 1.05 0 1 0 2.1 0a1.05 1.05 0 1 0 -2.1 0M301.1 36.98a1.05 1.05 0 1 0 2.1 0a1.05 1.05 0 1 0 -2.1 0M301.55 36.95a1.05 1.05 0 1 0 2.1 0a1.05 1.05 0 1 0 -2.1 0M302 36.93a1.05 1.05 0 1 0 2.1 0a1.05 1.05 0 1 0 -2.1 0M302.45 36.9a1.05 1.05 0 1 0 2.1 0a1.05 1.05 0 1 0 -2.1 0M302.9 36.88a1.05 1.05 0 1 0 2.1 0a1.05 1.05 0 1 0 -2.1 0M303.35 36.85a1.05 1.05 0 1 0 2.1 0a1.05 1.05 0 1 0 -2.1 0M303.8 36.83a1.05 1.05 0 1 0 2.1 0a1.05 1.05 0 1 0 -2.1 0M304.25 36.8a1.05 1.05 0 1 0 2.1 0a1.05 1.05 0 1 0 -2.1 0M304.7 36.78a1.05 1.05 0 1 0 2.1 0a1.05 1.05 0 1 0 -2.1 0M305.15 36.75a1.05 1.05 0 1 0 2.1 0a1.05 1.05 0 1 0 -2.1 0M305.6 36.73a1.05 1.05 0 1 0 2.1 0a1.05 1.05 0 1 0 -2.1 0M306.05 36.7a1.05 1.05 0 1 0 2.1 0a1.05 1.05 0 1 0 -2.1 0M306.5 36.68a1.05 1.05 0 1 0 2.1 0a1.05 1.05 0 1 0 -2.1 0M306.95 36.65a1.05 1.05 0 1 0 2.1 0a1.05 1.05 0 1 0 -2.1 0M307.4 36.63a1.05 1.05 0 1 0 2.1 0a1.05 1.05 0 1 0 -2.1 0M307.85 36.6a1.05 1.05 0 1 0 2.1 0a1.05 1.05 0 1 0 -2.1 0M308.3 36.58a1.05 1.05 0 1 0 2.1 0a1.05 1.05 0 1 0 -2.1 0M308.75 36.55a1.05 1.05 0 1 0 2.1 0a1.05 1.05 0 1 0 -2.1 0M309.2 36.53a1.05 1.05 0 1 0 2.1 0a1.05 1.05 0 1 0 -2.1 0M309.65 36.5a1.05 1.05 0 1 0 2.1 0a1.05 1.05 0 1 0 -2.1 0M310.1 36.48a1.05 1.05 0 1 0 2.1 0a1.05 1.05 0 1 0 -2.1 0M310.55 36.45a1.05 1.05 0 1 0 2.1 0a1.05 1.05 0 1 0 -2.1 0M311 36.43a1.05 1.05 0 1 0 2.1 0a1.05 1.05 0 1 0 -2.1 0M311.45 36.4a1.05 1.05 0 1 0 2.1 0a1.05 1.05 0 1 0 -2.1 0" fill="#000"/>
<path d="M46 245.3v-4M46 30v4M99.4 245.3v-4M99.4 30v4M152.8 245.3v-4M152.8 30v4M206.2 245.3v-4M206.2 30v4M259.6 245.3v-4M259.6 30v4M313 245.3v-4M313 30v4M72.7 245.3v-2.4M72.7 30v2.4M126.1 245.3v-2.4M126.1 30v2.4M179.5 245.3v-2.4M179.5 30v2.4M232.9 245.3v-2.4M232.9 30v2.4M286.3 245.3v-2.4M286.3 30v2.4M46 245.3h4M313 245.3h-4M46 191.48h4M313 191.48h-4M46 137.65h4M313 137.65h-4M46 83.82h4M313 83.82h-4M46 30h4M313 30h-4M46 218.39h2.4M313 218.39h-2.4M46 164.56h2.4M313 164.56h-2.4M46 110.74h2.4M313 110.74h-2.4M46 56.91h2.4M313 56.91h-2.4" stroke="#262626" stroke-width="1.1" fill="none"/>
<rect x="46" y="30" width="267" height="215.3" fill="none" stroke="#262626" stroke-width="1.25"/>
<path d="M313 30.6V244.7" stroke="#a0a0a0" stroke-width="1.3"/>
<text x="46" y="262.6" text-anchor="middle" font-size="16.5">0</text>
<text x="99.4" y="262.6" text-anchor="middle" font-size="16.5">1</text>
<text x="152.8" y="262.6" text-anchor="middle" font-size="16.5">2</text>
<text x="206.2" y="262.6" text-anchor="middle" font-size="16.5">3</text>
<text x="259.6" y="262.6" text-anchor="middle" font-size="16.5">4</text>
<text x="313" y="262.6" text-anchor="middle" font-size="16.5">5</text>
<text x="40.9" y="250.6" text-anchor="end" font-size="16.5">0</text>
<text x="40.9" y="196.78" text-anchor="end" font-size="16.5">2</text>
<text x="40.9" y="142.95" text-anchor="end" font-size="16.5">4</text>
<text x="40.9" y="89.12" text-anchor="end" font-size="16.5">6</text>
<text x="40.9" y="35.3" text-anchor="end" font-size="16.5">8</text>
<text x="132.2" y="27" text-anchor="middle" font-size="16.5" font-family="Liberation Serif, serif">I</text>
<text x="178.3" y="27" text-anchor="middle" font-size="16.5" font-family="Liberation Serif, serif">II</text>
<text x="205.8" y="27" text-anchor="middle" font-size="16.5" font-family="Liberation Serif, serif">III</text>
<text x="247.8" y="27" text-anchor="middle" font-size="16.5" font-family="Liberation Serif, serif">IV</text>
<text x="489.4" y="26.3" text-anchor="middle" font-size="16.5" font-family="Liberation Serif, serif">I</text>
<text x="536.2" y="26.3" text-anchor="middle" font-size="16.5" font-family="Liberation Serif, serif">II</text>
<text x="563.6" y="26.3" text-anchor="middle" font-size="16.5" font-family="Liberation Serif, serif">III</text>
<text x="606.1" y="26.3" text-anchor="middle" font-size="16.5" font-family="Liberation Serif, serif">IV</text>
<text x="57" y="53.1" font-size="16"><tspan font-style="italic">T</tspan> = 2 K</text>
<text x="55.8" y="73" font-size="16" letter-spacing="0.1"><tspan font-style="italic">H</tspan>  || [001]</text>
<circle cx="66.4" cy="148.6" r="2.7" fill="url(#gr)"/>
<text x="79.2" y="152.4" font-size="16" font-style="italic">μ<tspan font-size="12" dy="5.5">0</tspan><tspan dy="-5.5">H</tspan></text>
<path d="M120.5 153.6L120.5 141.5" stroke="#ee1111" stroke-width="1.6"/>
<path d="M120.5 134.5L124.1 142.5L116.9 142.5Z" fill="#ee1111"/>
<circle cx="66.4" cy="180.5" r="2.7" fill="url(#gk)"/>
<text x="79.2" y="184" font-size="16" font-style="italic">μ<tspan font-size="12" dy="5.5">0</tspan><tspan dy="-5.5">H</tspan></text>
<path d="M120.5 168.3L120.5 180.8" stroke="#000" stroke-width="1.6"/>
<path d="M120.5 187.8L116.9 179.8L124.1 179.8Z" fill="#000"/>
<text x="100.5" y="276.6" font-size="20.2">Magnetic field (T)</text>
<text transform="translate(16.8,181) rotate(-90)" font-size="20"><tspan font-style="italic">M</tspan> (μ<tspan font-size="14" dy="4">B</tspan><tspan dy="-4">/Eu)</tspan></text>
<rect x="154.1" y="298.4" width="42.3" height="215.8" fill="#fdf6f6"/>
<rect x="196.4" y="298.4" width="20.4" height="215.8" fill="#fefdf6"/>
<path d="M154.1 298.4V514.2" stroke="#7a7a7a" stroke-width="1"/>
<path d="M196.4 298.4V514.2" stroke="#7a7a7a" stroke-width="1"/>
<path d="M216.8 298.4V514.2" stroke="#7a7a7a" stroke-width="1"/>
<path d="M275.4 298.4V514.2" stroke="#7a7a7a" stroke-width="1"/>
<path d="M45.1 428.39a0.9 0.9 0 1 0 1.8 0a0.9 0.9 0 1 0 -1.8 0M45.55 428.95a0.9 0.9 0 1 0 1.8 0a0.9 0.9 0 1 0 -1.8 0M46 428.76a0.9 0.9 0 1 0 1.8 0a0.9 0.9 0 1 0 -1.8 0M46.45 428.51a0.9 0.9 0 1 0 1.8 0a0.9 0.9 0 1 0 -1.8 0M46.9 428.66a0.9 0.9 0 1 0 1.8 0a0.9 0.9 0 1 0 -1.8 0M47.35 428.71a0.9 0.9 0 1 0 1.8 0a0.9 0.9 0 1 0 -1.8 0M47.8 429.22a0.9 0.9 0 1 0 1.8 0a0.9 0.9 0 1 0 -1.8 0M48.25 429.18a0.9 0.9 0 1 0 1.8 0a0.9 0.9 0 1 0 -1.8 0M48.7 429.26a0.9 0.9 0 1 0 1.8 0a0.9 0.9 0 1 0 -1.8 0M49.15 429.33a0.9 0.9 0 1 0 1.8 0a0.9 0.9 0 1 0 -1.8 0M49.6 429.23a0.9 0.9 0 1 0 1.8 0a0.9 0.9 0 1 0 -1.8 0M50.05 429a0.9 0.9 0 1 0 1.8 0a0.9 0.9 0 1 0 -1.8 0M50.5 429.01a0.9 0.9 0 1 0 1.8 0a0.9 0.9 0 1 0 -1.8 0M50.95 429.25a0.9 0.9 0 1 0 1.8 0a0.9 0.9 0 1 0 -1.8 0M51.4 429.32a0.9 0.9 0 1 0 1.8 0a0.9 0.9 0 1 0 -1.8 0M51.85 429.16a0.9 0.9 0 1 0 1.8 0a0.9 0.9 0 1 0 -1.8 0M52.3 429.42a0.9 0.9 0 1 0 1.8 0a0.9 0.9 0 1 0 -1.8 0M52.75 429a0.9 0.9 0 1 0 1.8 0a0.9 0.9 0 1 0 -1.8 0M53.2 428.63a0.9 0.9 0 1 0 1.8 0a0.9 0.9 0 1 0 -1.8 0M53.65 428.38a0.9 0.9 0 1 0 1.8 0a0.9 0.9 0 1 0 -1.8 0M54.1 428.39a0.9 0.9 0 1 0 1.8 0a0.9 0.9 0 1 0 -1.8 0M54.55 428.59a0.9 0.9 0 1 0 1.8 0a0.9 0.9 0 1 0 -1.8 0M55 429.04a0.9 0.9 0 1 0 1.8 0a0.9 0.9 0 1 0 -1.8 0M55.45 429.12a0.9 0.9 0 1 0 1.8 0a0.9 0.9 0 1 0 -1.8 0M55.9 428.77a0.9 0.9 0 1 0 1.8 0a0.9 0.9 0 1 0 -1.8 0M56.35 429.49a0.9 0.9 0 1 0 1.8 0a0.9 0.9 0 1 0 -1.8 0M56.8 429.33a0.9 0.9 0 1 0 1.8 0a0.9 0.9 0 1 0 -1.8 0M57.25 429.35a0.9 0.9 0 1 0 1.8 0a0.9 0.9 0 1 0 -1.8 0M57.7 429.51a0.9 0.9 0 1 0 1.8 0a0.9 0.9 0 1 0 -1.8 0M58.15 429.22a0.9 0.9 0 1 0 1.8 0a0.9 0.9 0 1 0 -1.8 0M58.6 429.21a0.9 0.9 0 1 0 1.8 0a0.9 0.9 0 1 0 -1.8 0M59.05 429.31a0.9 0.9 0 1 0 1.8 0a0.9 0.9 0 1 0 -1.8 0M59.5 428.51a0.9 0.9 0 1 0 1.8 0a0.9 0.9 0 1 0 -1.8 0M59.95 428.44a0.9 0.9 0 1 0 1.8 0a0.9 0.9 0 1 0 -1.8 0M60.4 428.66a0.9 0.9 0 1 0 1.8 0a0.9 0.9 0 1 0 -1.8 0M60.85 428.69a0.9 0.9 0 1 0 1.8 0a0.9 0.9 0 1 0 -1.8 0M61.3 428.06a0.9 0.9 0 1 0 1.8 0a0.9 0.9 0 1 0 -1.8 0M61.75 427.9a0.9 0.9 0 1 0 1.8 0a0.9 0.9 0 1 0 -1.8 0M62.2 428.17a0.9 0.9 0 1 0 1.8 0a0.9 0.9 0 1 0 -1.8 0M62.65 428.3a0.9 0.9 0 1 0 1.8 0a0.9 0.9 0 1 0 -1.8 0M63.1 428.17a0.9 0.9 0 1 0 1.8 0a0.9 0.9 0 1 0 -1.8 0M63.55 428.16a0.9 0.9 0 1 0 1.8 0a0.9 0.9 0 1 0 -1.8 0M64 428.44a0.9 0.9 0 1 0 1.8 0a0.9 0.9 0 1 0 -1.8 0M64.45 428.21a0.9 0.9 0 1 0 1.8 0a0.9 0.9 0 1 0 -1.8 0M64.9 428.49a0.9 0.9 0 1 0 1.8 0a0.9 0.9 0 1 0 -1.8 0M65.35 428.43a0.9 0.9 0 1 0 1.8 0a0.9 0.9 0 1 0 -1.8 0M65.8 428.76a0.9 0.9 0 1 0 1.8 0a0.9 0.9 0 1 0 -1.8 0M66.25 429.33a0.9 0.9 0 1 0 1.8 0a0.9 0.9 0 1 0 -1.8 0M66.7 429a0.9 0.9 0 1 0 1.8 0a0.9 0.9 0 1 0 -1.8 0M67.15 429.22a0.9 0.9 0 1 0 1.8 0a0.9 0.9 0 1 0 -1.8 0M67.6 429.17a0.9 0.9 0 1 0 1.8 0a0.9 0.9 0 1 0 -1.8 0M68.05 428.79a0.9 0.9 0 1 0 1.8 0a0.9 0.9 0 1 0 -1.8 0M68.5 429.27a0.9 0.9 0 1 0 1.8 0a0.9 0.9 0 1 0 -1.8 0M68.95 428.72a0.9 0.9 0 1 0 1.8 0a0.9 0.9 0 1 0 -1.8 0M69.4 428.78a0.9 0.9 0 1 0 1.8 0a0.9 0.9 0 1 0 -1.8 0M69.85 428.48a0.9 0.9 0 1 0 1.8 0a0.9 0.9 0 1 0 -1.8 0M70.3 428.53a0.9 0.9 0 1 0 1.8 0a0.9 0.9 0 1 0 -1.8 0M70.75 428.57a0.9 0.9 0 1 0 1.8 0a0.9 0.9 0 1 0 -1.8 0M71.2 428.14a0.9 0.9 0 1 0 1.8 0a0.9 0.9 0 1 0 -1.8 0M71.65 427.73a0.9 0.9 0 1 0 1.8 0a0.9 0.9 0 1 0 -1.8 0M72.1 427.52a0.9 0.9 0 1 0 1.8 0a0.9 0.9 0 1 0 -1.8 0M72.55 427.95a0.9 0.9 0 1 0 1.8 0a0.9 0.9 0 1 0 -1.8 0M73 427.97a0.9 0.9 0 1 0 1.8 0a0.9 0.9 0 1 0 -1.8 0M73.45 427.74a0.9 0.9 0 1 0 1.8 0a0.9 0.9 0 1 0 -1.8 0M73.9 427.53a0.9 0.9 0 1 0 1.8 0a0.9 0.9 0 1 0 -1.8 0M74.35 427.15a0.9 0.9 0 1 0 1.8 0a0.9 0.9 0 1 0 -1.8 0M74.8 427.49a0.9 0.9 0 1 0 1.8 0a0.9 0.9 0 1 0 -1.8 0M75.25 427.32a0.9 0.9 0 1 0 1.8 0a0.9 0.9 0 1 0 -1.8 0M75.7 427.45a0.9 0.9 0 1 0 1.8 0a0.9 0.9 0 1 0 -1.8 0M76.15 427.37a0.9 0.9 0 1 0 1.8 0a0.9 0.9 0 1 0 -1.8 0M76.6 427.16a0.9 0.9 0 1 0 1.8 0a0.9 0.9 0 1 0 -1.8 0M77.05 426.68a0.9 0.9 0 1 0 1.8 0a0.9 0.9 0 1 0 -1.8 0M77.5 427.26a0.9 0.9 0 1 0 1.8 0a0.9 0.9 0 1 0 -1.8 0M77.95 427.23a0.9 0.9 0 1 0 1.8 0a0.9 0.9 0 1 0 -1.8 0M78.4 426.96a0.9 0.9 0 1 0 1.8 0a0.9 0.9 0 1 0 -1.8 0M78.85 427.41a0.9 0.9 0 1 0 1.8 0a0.9 0.9 0 1 0 -1.8 0M79.3 427.46a0.9 0.9 0 1 0 1.8 0a0.9 0.9 0 1 0 -1.8 0M79.75 427.28a0.9 0.9 0 1 0 1.8 0a0.9 0.9 0 1 0 -1.8 0M80.2 427.88a0.9 0.9 0 1 0 1.8 0a0.9 0.9 0 1 0 -1.8 0M80.65 426.96a0.9 0.9 0 1 0 1.8 0a0.9 0.9 0 1 0 -1.8 0M81.1 427.17a0.9 0.9 0 1 0 1.8 0a0.9 0.9 0 1 0 -1.8 0M81.55 426.87a0.9 0.9 0 1 0 1.8 0a0.9 0.9 0 1 0 -1.8 0M82 426.29a0.9 0.9 0 1 0 1.8 0a0.9 0.9 0 1 0 -1.8 0M82.45 426.14a0.9 0.9 0 1 0 1.8 0a0.9 0.9 0 1 0 -1.8 0M82.9 425.92a0.9 0.9 0 1 0 1.8 0a0.9 0.9 0 1 0 -1.8 0M83.35 425.65a0.9 0.9 0 1 0 1.8 0a0.9 0.9 0 1 0 -1.8 0M83.8 425.48a0.9 0.9 0 1 0 1.8 0a0.9 0.9 0 1 0 -1.8 0M84.25 425.49a0.9 0.9 0 1 0 1.8 0a0.9 0.9 0 1 0 -1.8 0M84.7 425.52a0.9 0.9 0 1 0 1.8 0a0.9 0.9 0 1 0 -1.8 0M85.15 426.29a0.9 0.9 0 1 0 1.8 0a0.9 0.9 0 1 0 -1.8 0M85.6 426.53a0.9 0.9 0 1 0 1.8 0a0.9 0.9 0 1 0 -1.8 0M86.05 426.21a0.9 0.9 0 1 0 1.8 0a0.9 0.9 0 1 0 -1.8 0M86.5 426.44a0.9 0.9 0 1 0 1.8 0a0.9 0.9 0 1 0 -1.8 0M86.95 426.41a0.9 0.9 0 1 0 1.8 0a0.9 0.9 0 1 0 -1.8 0M87.4 426.16a0.9 0.9 0 1 0 1.8 0a0.9 0.9 0 1 0 -1.8 0M87.85 426.34a0.9 0.9 0 1 0 1.8 0a0.9 0.9 0 1 0 -1.8 0M88.3 426.36a0.9 0.9 0 1 0 1.8 0a0.9 0.9 0 1 0 -1.8 0M88.75 425.62a0.9 0.9 0 1 0 1.8 0a0.9 0.9 0 1 0 -1.8 0M89.2 426.16a0.9 0.9 0 1 0 1.8 0a0.9 0.9 0 1 0 -1.8 0M89.65 425.97a0.9 0.9 0 1 0 1.8 0a0.9 0.9 0 1 0 -1.8 0M90.1 426.18a0.9 0.9 0 1 0 1.8 0a0.9 0.9 0 1 0 -1.8 0M90.55 425.9a0.9 0.9 0 1 0 1.8 0a0.9 0.9 0 1 0 -1.8 0M91 425.63a0.9 0.9 0 1 0 1.8 0a0.9 0.9 0 1 0 -1.8 0M91.45 425.46a0.9 0.9 0 1 0 1.8 0a0.9 0.9 0 1 0 -1.8 0M91.9 425.69a0.9 0.9 0 1 0 1.8 0a0.9 0.9 0 1 0 -1.8 0M92.35 425.54a0.9 0.9 0 1 0 1.8 0a0.9 0.9 0 1 0 -1.8 0M92.8 425.24a0.9 0.9 0 1 0 1.8 0a0.9 0.9 0 1 0 -1.8 0M93.25 425.25a0.9 0.9 0 1 0 1.8 0a0.9 0.9 0 1 0 -1.8 0M93.7 424.55a0.9 0.9 0 1 0 1.8 0a0.9 0.9 0 1 0 -1.8 0M94.15 424.78a0.9 0.9 0 1 0 1.8 0a0.9 0.9 0 1 0 -1.8 0M94.6 424.46a0.9 0.9 0 1 0 1.8 0a0.9 0.9 0 1 0 -1.8 0M95.05 424.2a0.9 0.9 0 1 0 1.8 0a0.9 0.9 0 1 0 -1.8 0M95.5 424.62a0.9 0.9 0 1 0 1.8 0a0.9 0.9 0 1 0 -1.8 0M95.95 424.23a0.9 0.9 0 1 0 1.8 0a0.9 0.9 0 1 0 -1.8 0M96.4 424.14a0.9 0.9 0 1 0 1.8 0a0.9 0.9 0 1 0 -1.8 0M96.85 424.07a0.9 0.9 0 1 0 1.8 0a0.9 0.9 0 1 0 -1.8 0M97.3 424.17a0.9 0.9 0 1 0 1.8 0a0.9 0.9 0 1 0 -1.8 0M97.75 424.47a0.9 0.9 0 1 0 1.8 0a0.9 0.9 0 1 0 -1.8 0M98.2 424.47a0.9 0.9 0 1 0 1.8 0a0.9 0.9 0 1 0 -1.8 0M98.65 424.39a0.9 0.9 0 1 0 1.8 0a0.9 0.9 0 1 0 -1.8 0M99.1 424.17a0.9 0.9 0 1 0 1.8 0a0.9 0.9 0 1 0 -1.8 0M99.55 423.47a0.9 0.9 0 1 0 1.8 0a0.9 0.9 0 1 0 -1.8 0M100 423.65a0.9 0.9 0 1 0 1.8 0a0.9 0.9 0 1 0 -1.8 0M100.45 423.59a0.9 0.9 0 1 0 1.8 0a0.9 0.9 0 1 0 -1.8 0M100.9 423.64a0.9 0.9 0 1 0 1.8 0a0.9 0.9 0 1 0 -1.8 0M101.35 423.43a0.9 0.9 0 1 0 1.8 0a0.9 0.9 0 1 0 -1.8 0M101.8 423.02a0.9 0.9 0 1 0 1.8 0a0.9 0.9 0 1 0 -1.8 0M102.25 423.12a0.9 0.9 0 1 0 1.8 0a0.9 0.9 0 1 0 -1.8 0M102.7 423.53a0.9 0.9 0 1 0 1.8 0a0.9 0.9 0 1 0 -1.8 0M103.15 422.75a0.9 0.9 0 1 0 1.8 0a0.9 0.9 0 1 0 -1.8 0M103.6 422.8a0.9 0.9 0 1 0 1.8 0a0.9 0.9 0 1 0 -1.8 0M104.05 422.96a0.9 0.9 0 1 0 1.8 0a0.9 0.9 0 1 0 -1.8 0M104.5 422.81a0.9 0.9 0 1 0 1.8 0a0.9 0.9 0 1 0 -1.8 0M104.95 422.23a0.9 0.9 0 1 0 1.8 0a0.9 0.9 0 1 0 -1.8 0M105.4 422.5a0.9 0.9 0 1 0 1.8 0a0.9 0.9 0 1 0 -1.8 0M105.85 422.23a0.9 0.9 0 1 0 1.8 0a0.9 0.9 0 1 0 -1.8 0M106.3 422.31a0.9 0.9 0 1 0 1.8 0a0.9 0.9 0 1 0 -1.8 0M106.75 422.63a0.9 0.9 0 1 0 1.8 0a0.9 0.9 0 1 0 -1.8 0M107.2 422.19a0.9 0.9 0 1 0 1.8 0a0.9 0.9 0 1 0 -1.8 0M107.65 421.8a0.9 0.9 0 1 0 1.8 0a0.9 0.9 0 1 0 -1.8 0M108.1 422.3a0.9 0.9 0 1 0 1.8 0a0.9 0.9 0 1 0 -1.8 0M108.55 421.66a0.9 0.9 0 1 0 1.8 0a0.9 0.9 0 1 0 -1.8 0M109 421.73a0.9 0.9 0 1 0 1.8 0a0.9 0.9 0 1 0 -1.8 0M109.45 421.64a0.9 0.9 0 1 0 1.8 0a0.9 0.9 0 1 0 -1.8 0M109.9 421.06a0.9 0.9 0 1 0 1.8 0a0.9 0.9 0 1 0 -1.8 0M110.35 421.33a0.9 0.9 0 1 0 1.8 0a0.9 0.9 0 1 0 -1.8 0M110.8 421.22a0.9 0.9 0 1 0 1.8 0a0.9 0.9 0 1 0 -1.8 0M111.25 420.75a0.9 0.9 0 1 0 1.8 0a0.9 0.9 0 1 0 -1.8 0M111.7 421.01a0.9 0.9 0 1 0 1.8 0a0.9 0.9 0 1 0 -1.8 0M112.15 421.01a0.9 0.9 0 1 0 1.8 0a0.9 0.9 0 1 0 -1.8 0M112.6 420.98a0.9 0.9 0 1 0 1.8 0a0.9 0.9 0 1 0 -1.8 0M113.05 420.8a0.9 0.9 0 1 0 1.8 0a0.9 0.9 0 1 0 -1.8 0M113.5 420.5a0.9 0.9 0 1 0 1.8 0a0.9 0.9 0 1 0 -1.8 0M113.95 420.85a0.9 0.9 0 1 0 1.8 0a0.9 0.9 0 1 0 -1.8 0M114.4 421.13a0.9 0.9 0 1 0 1.8 0a0.9 0.9 0 1 0 -1.8 0M114.85 420.66a0.9 0.9 0 1 0 1.8 0a0.9 0.9 0 1 0 -1.8 0M115.3 420.48a0.9 0.9 0 1 0 1.8 0a0.9 0.9 0 1 0 -1.8 0M115.75 420.19a0.9 0.9 0 1 0 1.8 0a0.9 0.9 0 1 0 -1.8 0M116.2 420.22a0.9 0.9 0 1 0 1.8 0a0.9 0.9 0 1 0 -1.8 0M116.65 419.53a0.9 0.9 0 1 0 1.8 0a0.9 0.9 0 1 0 -1.8 0M117.1 419.91a0.9 0.9 0 1 0 1.8 0a0.9 0.9 0 1 0 -1.8 0M117.55 419.64a0.9 0.9 0 1 0 1.8 0a0.9 0.9 0 1 0 -1.8 0M118 419a0.9 0.9 0 1 0 1.8 0a0.9 0.9 0 1 0 -1.8 0M118.45 419.1a0.9 0.9 0 1 0 1.8 0a0.9 0.9 0 1 0 -1.8 0M118.9 419.28a0.9 0.9 0 1 0 1.8 0a0.9 0.9 0 1 0 -1.8 0M119.35 419.12a0.9 0.9 0 1 0 1.8 0a0.9 0.9 0 1 0 -1.8 0M119.8 419.63a0.9 0.9 0 1 0 1.8 0a0.9 0.9 0 1 0 -1.8 0M120.25 419.48a0.9 0.9 0 1 0 1.8 0a0.9 0.9 0 1 0 -1.8 0M120.7 418.57a0.9 0.9 0 1 0 1.8 0a0.9 0.9 0 1 0 -1.8 0M121.15 418.85a0.9 0.9 0 1 0 1.8 0a0.9 0.9 0 1 0 -1.8 0M121.6 418.9a0.9 0.9 0 1 0 1.8 0a0.9 0.9 0 1 0 -1.8 0M122.05 418.12a0.9 0.9 0 1 0 1.8 0a0.9 0.9 0 1 0 -1.8 0M122.5 418.28a0.9 0.9 0 1 0 1.8 0a0.9 0.9 0 1 0 -1.8 0M122.95 417.77a0.9 0.9 0 1 0 1.8 0a0.9 0.9 0 1 0 -1.8 0M123.4 417.88a0.9 0.9 0 1 0 1.8 0a0.9 0.9 0 1 0 -1.8 0M123.85 417.78a0.9 0.9 0 1 0 1.8 0a0.9 0.9 0 1 0 -1.8 0M124.3 418.02a0.9 0.9 0 1 0 1.8 0a0.9 0.9 0 1 0 -1.8 0M124.75 417.28a0.9 0.9 0 1 0 1.8 0a0.9 0.9 0 1 0 -1.8 0M125.2 417.3a0.9 0.9 0 1 0 1.8 0a0.9 0.9 0 1 0 -1.8 0M125.65 417.59a0.9 0.9 0 1 0 1.8 0a0.9 0.9 0 1 0 -1.8 0M126.1 417.67a0.9 0.9 0 1 0 1.8 0a0.9 0.9 0 1 0 -1.8 0M126.55 417.6a0.9 0.9 0 1 0 1.8 0a0.9 0.9 0 1 0 -1.8 0M127 417.69a0.9 0.9 0 1 0 1.8 0a0.9 0.9 0 1 0 -1.8 0M127.45 417.4a0.9 0.9 0 1 0 1.8 0a0.9 0.9 0 1 0 -1.8 0M127.9 417.47a0.9 0.9 0 1 0 1.8 0a0.9 0.9 0 1 0 -1.8 0M128.35 417.43a0.9 0.9 0 1 0 1.8 0a0.9 0.9 0 1 0 -1.8 0M128.8 417.21a0.9 0.9 0 1 0 1.8 0a0.9 0.9 0 1 0 -1.8 0M129.25 417.13a0.9 0.9 0 1 0 1.8 0a0.9 0.9 0 1 0 -1.8 0M129.7 416.8a0.9 0.9 0 1 0 1.8 0a0.9 0.9 0 1 0 -1.8 0M130.15 416.93a0.9 0.9 0 1 0 1.8 0a0.9 0.9 0 1 0 -1.8 0M130.6 416.55a0.9 0.9 0 1 0 1.8 0a0.9 0.9 0 1 0 -1.8 0M131.05 416a0.9 0.9 0 1 0 1.8 0a0.9 0.9 0 1 0 -1.8 0M131.5 415.82a0.9 0.9 0 1 0 1.8 0a0.9 0.9 0 1 0 -1.8 0M131.95 415.47a0.9 0.9 0 1 0 1.8 0a0.9 0.9 0 1 0 -1.8 0M132.4 415a0.9 0.9 0 1 0 1.8 0a0.9 0.9 0 1 0 -1.8 0M132.85 414.78a0.9 0.9 0 1 0 1.8 0a0.9 0.9 0 1 0 -1.8 0M133.3 415.02a0.9 0.9 0 1 0 1.8 0a0.9 0.9 0 1 0 -1.8 0M133.75 414.54a0.9 0.9 0 1 0 1.8 0a0.9 0.9 0 1 0 -1.8 0M134.2 414.61a0.9 0.9 0 1 0 1.8 0a0.9 0.9 0 1 0 -1.8 0M134.65 415.21a0.9 0.9 0 1 0 1.8 0a0.9 0.9 0 1 0 -1.8 0M135.1 415.47a0.9 0.9 0 1 0 1.8 0a0.9 0.9 0 1 0 -1.8 0M135.55 415.31a0.9 0.9 0 1 0 1.8 0a0.9 0.9 0 1 0 -1.8 0M136 415.55a0.9 0.9 0 1 0 1.8 0a0.9 0.9 0 1 0 -1.8 0M136.45 415.41a0.9 0.9 0 1 0 1.8 0a0.9 0.9 0 1 0 -1.8 0M136.9 415.32a0.9 0.9 0 1 0 1.8 0a0.9 0.9 0 1 0 -1.8 0M137.35 414.89a0.9 0.9 0 1 0 1.8 0a0.9 0.9 0 1 0 -1.8 0M137.8 414.34a0.9 0.9 0 1 0 1.8 0a0.9 0.9 0 1 0 -1.8 0M138.25 414.01a0.9 0.9 0 1 0 1.8 0a0.9 0.9 0 1 0 -1.8 0M138.7 414.12a0.9 0.9 0 1 0 1.8 0a0.9 0.9 0 1 0 -1.8 0M139.15 413.4a0.9 0.9 0 1 0 1.8 0a0.9 0.9 0 1 0 -1.8 0M139.6 413.39a0.9 0.9 0 1 0 1.8 0a0.9 0.9 0 1 0 -1.8 0M140.05 413.64a0.9 0.9 0 1 0 1.8 0a0.9 0.9 0 1 0 -1.8 0M140.5 413.46a0.9 0.9 0 1 0 1.8 0a0.9 0.9 0 1 0 -1.8 0M140.95 413.42a0.9 0.9 0 1 0 1.8 0a0.9 0.9 0 1 0 -1.8 0M141.4 413.41a0.9 0.9 0 1 0 1.8 0a0.9 0.9 0 1 0 -1.8 0M141.85 413.2a0.9 0.9 0 1 0 1.8 0a0.9 0.9 0 1 0 -1.8 0M142.3 412.92a0.9 0.9 0 1 0 1.8 0a0.9 0.9 0 1 0 -1.8 0M142.75 413.02a0.9 0.9 0 1 0 1.8 0a0.9 0.9 0 1 0 -1.8 0M143.2 412.56a0.9 0.9 0 1 0 1.8 0a0.9 0.9 0 1 0 -1.8 0M143.65 412.36a0.9 0.9 0 1 0 1.8 0a0.9 0.9 0 1 0 -1.8 0M144.1 412.03a0.9 0.9 0 1 0 1.8 0a0.9 0.9 0 1 0 -1.8 0M144.55 412.16a0.9 0.9 0 1 0 1.8 0a0.9 0.9 0 1 0 -1.8 0M145 411.88a0.9 0.9 0 1 0 1.8 0a0.9 0.9 0 1 0 -1.8 0M145.45 411.86a0.9 0.9 0 1 0 1.8 0a0.9 0.9 0 1 0 -1.8 0M145.9 411.96a0.9 0.9 0 1 0 1.8 0a0.9 0.9 0 1 0 -1.8 0M146.35 411.65a0.9 0.9 0 1 0 1.8 0a0.9 0.9 0 1 0 -1.8 0M146.8 412.06a0.9 0.9 0 1 0 1.8 0a0.9 0.9 0 1 0 -1.8 0M147.25 411.59a0.9 0.9 0 1 0 1.8 0a0.9 0.9 0 1 0 -1.8 0M147.7 411.08a0.9 0.9 0 1 0 1.8 0a0.9 0.9 0 1 0 -1.8 0M148.15 411.9a0.9 0.9 0 1 0 1.8 0a0.9 0.9 0 1 0 -1.8 0M148.6 410.85a0.9 0.9 0 1 0 1.8 0a0.9 0.9 0 1 0 -1.8 0M149.05 410.23a0.9 0.9 0 1 0 1.8 0a0.9 0.9 0 1 0 -1.8 0M149.5 409.93a0.9 0.9 0 1 0 1.8 0a0.9 0.9 0 1 0 -1.8 0M149.95 409.32a0.9 0.9 0 1 0 1.8 0a0.9 0.9 0 1 0 -1.8 0M150.4 409.6a0.9 0.9 0 1 0 1.8 0a0.9 0.9 0 1 0 -1.8 0M150.85 409.09a0.9 0.9 0 1 0 1.8 0a0.9 0.9 0 1 0 -1.8 0M151.3 408.38a0.9 0.9 0 1 0 1.8 0a0.9 0.9 0 1 0 -1.8 0M151.75 407.43a0.9 0.9 0 1 0 1.8 0a0.9 0.9 0 1 0 -1.8 0M152.2 406.87a0.9 0.9 0 1 0 1.8 0a0.9 0.9 0 1 0 -1.8 0M152.65 405.64a0.9 0.9 0 1 0 1.8 0a0.9 0.9 0 1 0 -1.8 0M153.1 404.86a0.9 0.9 0 1 0 1.8 0a0.9 0.9 0 1 0 -1.8 0M153.55 403.59a0.9 0.9 0 1 0 1.8 0a0.9 0.9 0 1 0 -1.8 0M154 402.79a0.9 0.9 0 1 0 1.8 0a0.9 0.9 0 1 0 -1.8 0M154.45 399.26a0.9 0.9 0 1 0 1.8 0a0.9 0.9 0 1 0 -1.8 0M154.9 396.1a0.9 0.9 0 1 0 1.8 0a0.9 0.9 0 1 0 -1.8 0M155.35 393.19a0.9 0.9 0 1 0 1.8 0a0.9 0.9 0 1 0 -1.8 0M155.8 390.34a0.9 0.9 0 1 0 1.8 0a0.9 0.9 0 1 0 -1.8 0M156.25 386.89a0.9 0.9 0 1 0 1.8 0a0.9 0.9 0 1 0 -1.8 0M156.7 383.43a0.9 0.9 0 1 0 1.8 0a0.9 0.9 0 1 0 -1.8 0M157.15 379.65a0.9 0.9 0 1 0 1.8 0a0.9 0.9 0 1 0 -1.8 0M157.6 376.46a0.9 0.9 0 1 0 1.8 0a0.9 0.9 0 1 0 -1.8 0M158.05 373.41a0.9 0.9 0 1 0 1.8 0a0.9 0.9 0 1 0 -1.8 0M158.5 369.6a0.9 0.9 0 1 0 1.8 0a0.9 0.9 0 1 0 -1.8 0M158.95 365.86a0.9 0.9 0 1 0 1.8 0a0.9 0.9 0 1 0 -1.8 0M159.4 362.41a0.9 0.9 0 1 0 1.8 0a0.9 0.9 0 1 0 -1.8 0M159.85 359.2a0.9 0.9 0 1 0 1.8 0a0.9 0.9 0 1 0 -1.8 0M160.3 355.93a0.9 0.9 0 1 0 1.8 0a0.9 0.9 0 1 0 -1.8 0M160.75 354.19a0.9 0.9 0 1 0 1.8 0a0.9 0.9 0 1 0 -1.8 0M161.2 352.5a0.9 0.9 0 1 0 1.8 0a0.9 0.9 0 1 0 -1.8 0M161.65 351.33a0.9 0.9 0 1 0 1.8 0a0.9 0.9 0 1 0 -1.8 0M162.1 349.96a0.9 0.9 0 1 0 1.8 0a0.9 0.9 0 1 0 -1.8 0M162.55 348.53a0.9 0.9 0 1 0 1.8 0a0.9 0.9 0 1 0 -1.8 0M163 348.45a0.9 0.9 0 1 0 1.8 0a0.9 0.9 0 1 0 -1.8 0M163.45 347.25a0.9 0.9 0 1 0 1.8 0a0.9 0.9 0 1 0 -1.8 0M163.9 347a0.9 0.9 0 1 0 1.8 0a0.9 0.9 0 1 0 -1.8 0M164.35 346.68a0.9 0.9 0 1 0 1.8 0a0.9 0.9 0 1 0 -1.8 0M164.8 346.92a0.9 0.9 0 1 0 1.8 0a0.9 0.9 0 1 0 -1.8 0M165.25 346.54a0.9 0.9 0 1 0 1.8 0a0.9 0.9 0 1 0 -1.8 0M165.7 346.83a0.9 0.9 0 1 0 1.8 0a0.9 0.9 0 1 0 -1.8 0M166.15 347.16a0.9 0.9 0 1 0 1.8 0a0.9 0.9 0 1 0 -1.8 0M166.6 347.58a0.9 0.9 0 1 0 1.8 0a0.9 0.9 0 1 0 -1.8 0M167.05 347.17a0.9 0.9 0 1 0 1.8 0a0.9 0.9 0 1 0 -1.8 0M167.5 347.39a0.9 0.9 0 1 0 1.8 0a0.9 0.9 0 1 0 -1.8 0M167.95 347.82a0.9 0.9 0 1 0 1.8 0a0.9 0.9 0 1 0 -1.8 0M168.4 347.64a0.9 0.9 0 1 0 1.8 0a0.9 0.9 0 1 0 -1.8 0M168.85 348.11a0.9 0.9 0 1 0 1.8 0a0.9 0.9 0 1 0 -1.8 0M169.3 347.9a0.9 0.9 0 1 0 1.8 0a0.9 0.9 0 1 0 -1.8 0M169.75 348.28a0.9 0.9 0 1 0 1.8 0a0.9 0.9 0 1 0 -1.8 0M170.2 348.41a0.9 0.9 0 1 0 1.8 0a0.9 0.9 0 1 0 -1.8 0M170.65 348.31a0.9 0.9 0 1 0 1.8 0a0.9 0.9 0 1 0 -1.8 0M171.1 349.19a0.9 0.9 0 1 0 1.8 0a0.9 0.9 0 1 0 -1.8 0M171.55 349.22a0.9 0.9 0 1 0 1.8 0a0.9 0.9 0 1 0 -1.8 0M172 349.54a0.9 0.9 0 1 0 1.8 0a0.9 0.9 0 1 0 -1.8 0M172.45 349.9a0.9 0.9 0 1 0 1.8 0a0.9 0.9 0 1 0 -1.8 0M172.9 350.17a0.9 0.9 0 1 0 1.8 0a0.9 0.9 0 1 0 -1.8 0M173.35 349.97a0.9 0.9 0 1 0 1.8 0a0.9 0.9 0 1 0 -1.8 0M173.8 349.71a0.9 0.9 0 1 0 1.8 0a0.9 0.9 0 1 0 -1.8 0M174.25 349.65a0.9 0.9 0 1 0 1.8 0a0.9 0.9 0 1 0 -1.8 0M174.7 350.32a0.9 0.9 0 1 0 1.8 0a0.9 0.9 0 1 0 -1.8 0M175.15 350.35a0.9 0.9 0 1 0 1.8 0a0.9 0.9 0 1 0 -1.8 0M175.6 350.44a0.9 0.9 0 1 0 1.8 0a0.9 0.9 0 1 0 -1.8 0M176.05 350.83a0.9 0.9 0 1 0 1.8 0a0.9 0.9 0 1 0 -1.8 0M176.5 351.56a0.9 0.9 0 1 0 1.8 0a0.9 0.9 0 1 0 -1.8 0M176.95 351.96a0.9 0.9 0 1 0 1.8 0a0.9 0.9 0 1 0 -1.8 0M177.4 351.85a0.9 0.9 0 1 0 1.8 0a0.9 0.9 0 1 0 -1.8 0M177.85 351.83a0.9 0.9 0 1 0 1.8 0a0.9 0.9 0 1 0 -1.8 0M178.3 351.62a0.9 0.9 0 1 0 1.8 0a0.9 0.9 0 1 0 -1.8 0M178.75 351.26a0.9 0.9 0 1 0 1.8 0a0.9 0.9 0 1 0 -1.8 0M179.2 351.9a0.9 0.9 0 1 0 1.8 0a0.9 0.9 0 1 0 -1.8 0M179.65 351.3a0.9 0.9 0 1 0 1.8 0a0.9 0.9 0 1 0 -1.8 0M180.1 351.45a0.9 0.9 0 1 0 1.8 0a0.9 0.9 0 1 0 -1.8 0M180.55 351.72a0.9 0.9 0 1 0 1.8 0a0.9 0.9 0 1 0 -1.8 0M181 351.92a0.9 0.9 0 1 0 1.8 0a0.9 0.9 0 1 0 -1.8 0M181.45 351.74a0.9 0.9 0 1 0 1.8 0a0.9 0.9 0 1 0 -1.8 0M181.9 351.85a0.9 0.9 0 1 0 1.8 0a0.9 0.9 0 1 0 -1.8 0M182.35 352.36a0.9 0.9 0 1 0 1.8 0a0.9 0.9 0 1 0 -1.8 0M182.8 352.36a0.9 0.9 0 1 0 1.8 0a0.9 0.9 0 1 0 -1.8 0M183.25 353.03a0.9 0.9 0 1 0 1.8 0a0.9 0.9 0 1 0 -1.8 0M183.7 353.44a0.9 0.9 0 1 0 1.8 0a0.9 0.9 0 1 0 -1.8 0M184.15 353.23a0.9 0.9 0 1 0 1.8 0a0.9 0.9 0 1 0 -1.8 0M184.6 354.04a0.9 0.9 0 1 0 1.8 0a0.9 0.9 0 1 0 -1.8 0M185.05 354.35a0.9 0.9 0 1 0 1.8 0a0.9 0.9 0 1 0 -1.8 0M185.5 354.21a0.9 0.9 0 1 0 1.8 0a0.9 0.9 0 1 0 -1.8 0M185.95 354.32a0.9 0.9 0 1 0 1.8 0a0.9 0.9 0 1 0 -1.8 0M186.4 354.22a0.9 0.9 0 1 0 1.8 0a0.9 0.9 0 1 0 -1.8 0M186.85 354.47a0.9 0.9 0 1 0 1.8 0a0.9 0.9 0 1 0 -1.8 0M187.3 354.88a0.9 0.9 0 1 0 1.8 0a0.9 0.9 0 1 0 -1.8 0M187.75 354a0.9 0.9 0 1 0 1.8 0a0.9 0.9 0 1 0 -1.8 0M188.2 354.52a0.9 0.9 0 1 0 1.8 0a0.9 0.9 0 1 0 -1.8 0M188.65 354.44a0.9 0.9 0 1 0 1.8 0a0.9 0.9 0 1 0 -1.8 0M189.1 354.57a0.9 0.9 0 1 0 1.8 0a0.9 0.9 0 1 0 -1.8 0M189.55 354.81a0.9 0.9 0 1 0 1.8 0a0.9 0.9 0 1 0 -1.8 0M190 354.71a0.9 0.9 0 1 0 1.8 0a0.9 0.9 0 1 0 -1.8 0M190.45 354.75a0.9 0.9 0 1 0 1.8 0a0.9 0.9 0 1 0 -1.8 0M190.9 354.99a0.9 0.9 0 1 0 1.8 0a0.9 0.9 0 1 0 -1.8 0M191.35 355.08a0.9 0.9 0 1 0 1.8 0a0.9 0.9 0 1 0 -1.8 0M191.8 354.75a0.9 0.9 0 1 0 1.8 0a0.9 0.9 0 1 0 -1.8 0M192.25 354.8a0.9 0.9 0 1 0 1.8 0a0.9 0.9 0 1 0 -1.8 0M192.7 355.27a0.9 0.9 0 1 0 1.8 0a0.9 0.9 0 1 0 -1.8 0M193.15 355.74a0.9 0.9 0 1 0 1.8 0a0.9 0.9 0 1 0 -1.8 0M193.6 355.11a0.9 0.9 0 1 0 1.8 0a0.9 0.9 0 1 0 -1.8 0M194.05 355.51a0.9 0.9 0 1 0 1.8 0a0.9 0.9 0 1 0 -1.8 0M194.5 355.61a0.9 0.9 0 1 0 1.8 0a0.9 0.9 0 1 0 -1.8 0M194.95 356.03a0.9 0.9 0 1 0 1.8 0a0.9 0.9 0 1 0 -1.8 0M195.4 355.95a0.9 0.9 0 1 0 1.8 0a0.9 0.9 0 1 0 -1.8 0M195.85 356.37a0.9 0.9 0 1 0 1.8 0a0.9 0.9 0 1 0 -1.8 0M196.3 356.99a0.9 0.9 0 1 0 1.8 0a0.9 0.9 0 1 0 -1.8 0M196.75 357.25a0.9 0.9 0 1 0 1.8 0a0.9 0.9 0 1 0 -1.8 0M197.2 357.89a0.9 0.9 0 1 0 1.8 0a0.9 0.9 0 1 0 -1.8 0M197.65 358.17a0.9 0.9 0 1 0 1.8 0a0.9 0.9 0 1 0 -1.8 0M198.1 359.24a0.9 0.9 0 1 0 1.8 0a0.9 0.9 0 1 0 -1.8 0M198.55 359.63a0.9 0.9 0 1 0 1.8 0a0.9 0.9 0 1 0 -1.8 0M199 360.12a0.9 0.9 0 1 0 1.8 0a0.9 0.9 0 1 0 -1.8 0M199.45 360.9a0.9 0.9 0 1 0 1.8 0a0.9 0.9 0 1 0 -1.8 0M199.9 360.91a0.9 0.9 0 1 0 1.8 0a0.9 0.9 0 1 0 -1.8 0M200.35 361.74a0.9 0.9 0 1 0 1.8 0a0.9 0.9 0 1 0 -1.8 0M200.8 362.1a0.9 0.9 0 1 0 1.8 0a0.9 0.9 0 1 0 -1.8 0M201.25 362.45a0.9 0.9 0 1 0 1.8 0a0.9 0.9 0 1 0 -1.8 0M201.7 362.14a0.9 0.9 0 1 0 1.8 0a0.9 0.9 0 1 0 -1.8 0M202.15 362.78a0.9 0.9 0 1 0 1.8 0a0.9 0.9 0 1 0 -1.8 0M202.6 363.08a0.9 0.9 0 1 0 1.8 0a0.9 0.9 0 1 0 -1.8 0M203.05 363.33a0.9 0.9 0 1 0 1.8 0a0.9 0.9 0 1 0 -1.8 0M203.5 362.87a0.9 0.9 0 1 0 1.8 0a0.9 0.9 0 1 0 -1.8 0M203.95 361.61a0.9 0.9 0 1 0 1.8 0a0.9 0.9 0 1 0 -1.8 0M204.4 360.07a0.9 0.9 0 1 0 1.8 0a0.9 0.9 0 1 0 -1.8 0M204.85 358.98a0.9 0.9 0 1 0 1.8 0a0.9 0.9 0 1 0 -1.8 0M205.3 356.29a0.9 0.9 0 1 0 1.8 0a0.9 0.9 0 1 0 -1.8 0M205.75 353.61a0.9 0.9 0 1 0 1.8 0a0.9 0.9 0 1 0 -1.8 0M206.2 351.67a0.9 0.9 0 1 0 1.8 0a0.9 0.9 0 1 0 -1.8 0M206.65 349.18a0.9 0.9 0 1 0 1.8 0a0.9 0.9 0 1 0 -1.8 0M207.1 347.1a0.9 0.9 0 1 0 1.8 0a0.9 0.9 0 1 0 -1.8 0M207.55 344.94a0.9 0.9 0 1 0 1.8 0a0.9 0.9 0 1 0 -1.8 0M208 342.96a0.9 0.9 0 1 0 1.8 0a0.9 0.9 0 1 0 -1.8 0M208.45 341.03a0.9 0.9 0 1 0 1.8 0a0.9 0.9 0 1 0 -1.8 0M208.9 339.27a0.9 0.9 0 1 0 1.8 0a0.9 0.9 0 1 0 -1.8 0M209.35 337.34a0.9 0.9 0 1 0 1.8 0a0.9 0.9 0 1 0 -1.8 0M209.8 335.87a0.9 0.9 0 1 0 1.8 0a0.9 0.9 0 1 0 -1.8 0M210.25 332.45a0.9 0.9 0 1 0 1.8 0a0.9 0.9 0 1 0 -1.8 0M210.7 328.1a0.9 0.9 0 1 0 1.8 0a0.9 0.9 0 1 0 -1.8 0M211.15 324.57a0.9 0.9 0 1 0 1.8 0a0.9 0.9 0 1 0 -1.8 0M211.6 320.87a0.9 0.9 0 1 0 1.8 0a0.9 0.9 0 1 0 -1.8 0M212.05 318.48a0.9 0.9 0 1 0 1.8 0a0.9 0.9 0 1 0 -1.8 0M212.5 316.05a0.9 0.9 0 1 0 1.8 0a0.9 0.9 0 1 0 -1.8 0M212.95 313.71a0.9 0.9 0 1 0 1.8 0a0.9 0.9 0 1 0 -1.8 0M213.4 311.31a0.9 0.9 0 1 0 1.8 0a0.9 0.9 0 1 0 -1.8 0M213.85 309.53a0.9 0.9 0 1 0 1.8 0a0.9 0.9 0 1 0 -1.8 0M214.3 307.82a0.9 0.9 0 1 0 1.8 0a0.9 0.9 0 1 0 -1.8 0M214.75 307a0.9 0.9 0 1 0 1.8 0a0.9 0.9 0 1 0 -1.8 0M215.2 306.43a0.9 0.9 0 1 0 1.8 0a0.9 0.9 0 1 0 -1.8 0" fill="#e8141c"/>
<path d="M214.3 308.65a0.9 0.9 0 1 0 1.8 0a0.9 0.9 0 1 0 -1.8 0M214.75 307.66a0.9 0.9 0 1 0 1.8 0a0.9 0.9 0 1 0 -1.8 0M215.2 307.44a0.9 0.9 0 1 0 1.8 0a0.9 0.9 0 1 0 -1.8 0M215.65 306.48a0.9 0.9 0 1 0 1.8 0a0.9 0.9 0 1 0 -1.8 0M216.1 307.32a0.9 0.9 0 1 0 1.8 0a0.9 0.9 0 1 0 -1.8 0M216.55 307.41a0.9 0.9 0 1 0 1.8 0a0.9 0.9 0 1 0 -1.8 0M217 307.88a0.9 0.9 0 1 0 1.8 0a0.9 0.9 0 1 0 -1.8 0M217.45 308.82a0.9 0.9 0 1 0 1.8 0a0.9 0.9 0 1 0 -1.8 0M217.9 309.35a0.9 0.9 0 1 0 1.8 0a0.9 0.9 0 1 0 -1.8 0M218.35 309.47a0.9 0.9 0 1 0 1.8 0a0.9 0.9 0 1 0 -1.8 0M218.8 309.93a0.9 0.9 0 1 0 1.8 0a0.9 0.9 0 1 0 -1.8 0M219.25 310.01a0.9 0.9 0 1 0 1.8 0a0.9 0.9 0 1 0 -1.8 0M219.7 310.51a0.9 0.9 0 1 0 1.8 0a0.9 0.9 0 1 0 -1.8 0M220.15 311.2a0.9 0.9 0 1 0 1.8 0a0.9 0.9 0 1 0 -1.8 0M220.6 312.35a0.9 0.9 0 1 0 1.8 0a0.9 0.9 0 1 0 -1.8 0M221.05 312.44a0.9 0.9 0 1 0 1.8 0a0.9 0.9 0 1 0 -1.8 0M221.5 313.13a0.9 0.9 0 1 0 1.8 0a0.9 0.9 0 1 0 -1.8 0M221.95 313.53a0.9 0.9 0 1 0 1.8 0a0.9 0.9 0 1 0 -1.8 0M222.4 313.86a0.9 0.9 0 1 0 1.8 0a0.9 0.9 0 1 0 -1.8 0M222.85 313.93a0.9 0.9 0 1 0 1.8 0a0.9 0.9 0 1 0 -1.8 0M223.3 314.08a0.9 0.9 0 1 0 1.8 0a0.9 0.9 0 1 0 -1.8 0M223.75 313.9a0.9 0.9 0 1 0 1.8 0a0.9 0.9 0 1 0 -1.8 0M224.2 314.32a0.9 0.9 0 1 0 1.8 0a0.9 0.9 0 1 0 -1.8 0M224.65 314.6a0.9 0.9 0 1 0 1.8 0a0.9 0.9 0 1 0 -1.8 0M225.1 315.43a0.9 0.9 0 1 0 1.8 0a0.9 0.9 0 1 0 -1.8 0M225.55 315.6a0.9 0.9 0 1 0 1.8 0a0.9 0.9 0 1 0 -1.8 0M226 316.32a0.9 0.9 0 1 0 1.8 0a0.9 0.9 0 1 0 -1.8 0M226.45 317.35a0.9 0.9 0 1 0 1.8 0a0.9 0.9 0 1 0 -1.8 0M226.9 317.16a0.9 0.9 0 1 0 1.8 0a0.9 0.9 0 1 0 -1.8 0M227.35 317.78a0.9 0.9 0 1 0 1.8 0a0.9 0.9 0 1 0 -1.8 0M227.8 317.97a0.9 0.9 0 1 0 1.8 0a0.9 0.9 0 1 0 -1.8 0M228.25 318.31a0.9 0.9 0 1 0 1.8 0a0.9 0.9 0 1 0 -1.8 0M228.7 318.96a0.9 0.9 0 1 0 1.8 0a0.9 0.9 0 1 0 -1.8 0M229.15 319.29a0.9 0.9 0 1 0 1.8 0a0.9 0.9 0 1 0 -1.8 0M229.6 319.94a0.9 0.9 0 1 0 1.8 0a0.9 0.9 0 1 0 -1.8 0M230.05 320.1a0.9 0.9 0 1 0 1.8 0a0.9 0.9 0 1 0 -1.8 0M230.5 320.04a0.9 0.9 0 1 0 1.8 0a0.9 0.9 0 1 0 -1.8 0M230.95 320.13a0.9 0.9 0 1 0 1.8 0a0.9 0.9 0 1 0 -1.8 0M231.4 320.51a0.9 0.9 0 1 0 1.8 0a0.9 0.9 0 1 0 -1.8 0M231.85 320.29a0.9 0.9 0 1 0 1.8 0a0.9 0.9 0 1 0 -1.8 0M232.3 320.31a0.9 0.9 0 1 0 1.8 0a0.9 0.9 0 1 0 -1.8 0M232.75 320.53a0.9 0.9 0 1 0 1.8 0a0.9 0.9 0 1 0 -1.8 0M233.2 321.22a0.9 0.9 0 1 0 1.8 0a0.9 0.9 0 1 0 -1.8 0M233.65 321.53a0.9 0.9 0 1 0 1.8 0a0.9 0.9 0 1 0 -1.8 0M234.1 321.94a0.9 0.9 0 1 0 1.8 0a0.9 0.9 0 1 0 -1.8 0M234.55 322.6a0.9 0.9 0 1 0 1.8 0a0.9 0.9 0 1 0 -1.8 0M235 323.24a0.9 0.9 0 1 0 1.8 0a0.9 0.9 0 1 0 -1.8 0M235.45 324.1a0.9 0.9 0 1 0 1.8 0a0.9 0.9 0 1 0 -1.8 0M235.9 324.27a0.9 0.9 0 1 0 1.8 0a0.9 0.9 0 1 0 -1.8 0M236.35 324.88a0.9 0.9 0 1 0 1.8 0a0.9 0.9 0 1 0 -1.8 0M236.8 325.65a0.9 0.9 0 1 0 1.8 0a0.9 0.9 0 1 0 -1.8 0M237.25 325.96a0.9 0.9 0 1 0 1.8 0a0.9 0.9 0 1 0 -1.8 0M237.7 326.27a0.9 0.9 0 1 0 1.8 0a0.9 0.9 0 1 0 -1.8 0M238.15 326.58a0.9 0.9 0 1 0 1.8 0a0.9 0.9 0 1 0 -1.8 0M238.6 327.02a0.9 0.9 0 1 0 1.8 0a0.9 0.9 0 1 0 -1.8 0M239.05 328.17a0.9 0.9 0 1 0 1.8 0a0.9 0.9 0 1 0 -1.8 0M239.5 328.26a0.9 0.9 0 1 0 1.8 0a0.9 0.9 0 1 0 -1.8 0M239.95 328.41a0.9 0.9 0 1 0 1.8 0a0.9 0.9 0 1 0 -1.8 0M240.4 329.04a0.9 0.9 0 1 0 1.8 0a0.9 0.9 0 1 0 -1.8 0M240.85 329.19a0.9 0.9 0 1 0 1.8 0a0.9 0.9 0 1 0 -1.8 0M241.3 330.15a0.9 0.9 0 1 0 1.8 0a0.9 0.9 0 1 0 -1.8 0M241.75 329.75a0.9 0.9 0 1 0 1.8 0a0.9 0.9 0 1 0 -1.8 0M242.2 330.02a0.9 0.9 0 1 0 1.8 0a0.9 0.9 0 1 0 -1.8 0M242.65 330.91a0.9 0.9 0 1 0 1.8 0a0.9 0.9 0 1 0 -1.8 0M243.1 331.13a0.9 0.9 0 1 0 1.8 0a0.9 0.9 0 1 0 -1.8 0M243.55 331.78a0.9 0.9 0 1 0 1.8 0a0.9 0.9 0 1 0 -1.8 0M244 332.51a0.9 0.9 0 1 0 1.8 0a0.9 0.9 0 1 0 -1.8 0M244.45 333.1a0.9 0.9 0 1 0 1.8 0a0.9 0.9 0 1 0 -1.8 0M244.9 334.12a0.9 0.9 0 1 0 1.8 0a0.9 0.9 0 1 0 -1.8 0M245.35 334.38a0.9 0.9 0 1 0 1.8 0a0.9 0.9 0 1 0 -1.8 0M245.8 334.73a0.9 0.9 0 1 0 1.8 0a0.9 0.9 0 1 0 -1.8 0M246.25 335.38a0.9 0.9 0 1 0 1.8 0a0.9 0.9 0 1 0 -1.8 0M246.7 335.44a0.9 0.9 0 1 0 1.8 0a0.9 0.9 0 1 0 -1.8 0M247.15 335.94a0.9 0.9 0 1 0 1.8 0a0.9 0.9 0 1 0 -1.8 0M247.6 336.26a0.9 0.9 0 1 0 1.8 0a0.9 0.9 0 1 0 -1.8 0M248.05 336.94a0.9 0.9 0 1 0 1.8 0a0.9 0.9 0 1 0 -1.8 0M248.5 337.45a0.9 0.9 0 1 0 1.8 0a0.9 0.9 0 1 0 -1.8 0M248.95 338.04a0.9 0.9 0 1 0 1.8 0a0.9 0.9 0 1 0 -1.8 0M249.4 337.76a0.9 0.9 0 1 0 1.8 0a0.9 0.9 0 1 0 -1.8 0M249.85 338.47a0.9 0.9 0 1 0 1.8 0a0.9 0.9 0 1 0 -1.8 0M250.3 339.12a0.9 0.9 0 1 0 1.8 0a0.9 0.9 0 1 0 -1.8 0M250.75 340.14a0.9 0.9 0 1 0 1.8 0a0.9 0.9 0 1 0 -1.8 0M251.2 340.49a0.9 0.9 0 1 0 1.8 0a0.9 0.9 0 1 0 -1.8 0M251.65 341.45a0.9 0.9 0 1 0 1.8 0a0.9 0.9 0 1 0 -1.8 0M252.1 341.55a0.9 0.9 0 1 0 1.8 0a0.9 0.9 0 1 0 -1.8 0M252.55 342.82a0.9 0.9 0 1 0 1.8 0a0.9 0.9 0 1 0 -1.8 0M253 343.25a0.9 0.9 0 1 0 1.8 0a0.9 0.9 0 1 0 -1.8 0M253.45 343.76a0.9 0.9 0 1 0 1.8 0a0.9 0.9 0 1 0 -1.8 0M253.9 344.04a0.9 0.9 0 1 0 1.8 0a0.9 0.9 0 1 0 -1.8 0M254.35 344.55a0.9 0.9 0 1 0 1.8 0a0.9 0.9 0 1 0 -1.8 0M254.8 345.18a0.9 0.9 0 1 0 1.8 0a0.9 0.9 0 1 0 -1.8 0M255.25 346.59a0.9 0.9 0 1 0 1.8 0a0.9 0.9 0 1 0 -1.8 0M255.7 347.06a0.9 0.9 0 1 0 1.8 0a0.9 0.9 0 1 0 -1.8 0M256.15 347.8a0.9 0.9 0 1 0 1.8 0a0.9 0.9 0 1 0 -1.8 0M256.6 349.43a0.9 0.9 0 1 0 1.8 0a0.9 0.9 0 1 0 -1.8 0M257.05 350.17a0.9 0.9 0 1 0 1.8 0a0.9 0.9 0 1 0 -1.8 0M257.5 351.26a0.9 0.9 0 1 0 1.8 0a0.9 0.9 0 1 0 -1.8 0M257.95 352.73a0.9 0.9 0 1 0 1.8 0a0.9 0.9 0 1 0 -1.8 0M258.4 353.83a0.9 0.9 0 1 0 1.8 0a0.9 0.9 0 1 0 -1.8 0M258.85 356.49a0.9 0.9 0 1 0 1.8 0a0.9 0.9 0 1 0 -1.8 0M259.3 358.43a0.9 0.9 0 1 0 1.8 0a0.9 0.9 0 1 0 -1.8 0M259.75 359.74a0.9 0.9 0 1 0 1.8 0a0.9 0.9 0 1 0 -1.8 0M260.2 362.27a0.9 0.9 0 1 0 1.8 0a0.9 0.9 0 1 0 -1.8 0M260.65 366.32a0.9 0.9 0 1 0 1.8 0a0.9 0.9 0 1 0 -1.8 0M261.1 369.72a0.9 0.9 0 1 0 1.8 0a0.9 0.9 0 1 0 -1.8 0M261.55 372.62a0.9 0.9 0 1 0 1.8 0a0.9 0.9 0 1 0 -1.8 0M262 376.72a0.9 0.9 0 1 0 1.8 0a0.9 0.9 0 1 0 -1.8 0M262.45 380.51a0.9 0.9 0 1 0 1.8 0a0.9 0.9 0 1 0 -1.8 0M262.9 384.58a0.9 0.9 0 1 0 1.8 0a0.9 0.9 0 1 0 -1.8 0M263.35 388.91a0.9 0.9 0 1 0 1.8 0a0.9 0.9 0 1 0 -1.8 0M263.8 392.57a0.9 0.9 0 1 0 1.8 0a0.9 0.9 0 1 0 -1.8 0M264.25 397.2a0.9 0.9 0 1 0 1.8 0a0.9 0.9 0 1 0 -1.8 0M264.7 401.22a0.9 0.9 0 1 0 1.8 0a0.9 0.9 0 1 0 -1.8 0M265.15 405.2a0.9 0.9 0 1 0 1.8 0a0.9 0.9 0 1 0 -1.8 0M265.6 409.99a0.9 0.9 0 1 0 1.8 0a0.9 0.9 0 1 0 -1.8 0M266.05 415.43a0.9 0.9 0 1 0 1.8 0a0.9 0.9 0 1 0 -1.8 0M266.5 420.04a0.9 0.9 0 1 0 1.8 0a0.9 0.9 0 1 0 -1.8 0M266.95 424.85a0.9 0.9 0 1 0 1.8 0a0.9 0.9 0 1 0 -1.8 0M267.4 429.57a0.9 0.9 0 1 0 1.8 0a0.9 0.9 0 1 0 -1.8 0M267.85 435.36a0.9 0.9 0 1 0 1.8 0a0.9 0.9 0 1 0 -1.8 0M268.3 440.73a0.9 0.9 0 1 0 1.8 0a0.9 0.9 0 1 0 -1.8 0M268.75 445.83a0.9 0.9 0 1 0 1.8 0a0.9 0.9 0 1 0 -1.8 0M269.2 450.35a0.9 0.9 0 1 0 1.8 0a0.9 0.9 0 1 0 -1.8 0M269.65 455.09a0.9 0.9 0 1 0 1.8 0a0.9 0.9 0 1 0 -1.8 0M270.1 460.3a0.9 0.9 0 1 0 1.8 0a0.9 0.9 0 1 0 -1.8 0M270.55 464.18a0.9 0.9 0 1 0 1.8 0a0.9 0.9 0 1 0 -1.8 0M271 468.87a0.9 0.9 0 1 0 1.8 0a0.9 0.9 0 1 0 -1.8 0M271.45 473.26a0.9 0.9 0 1 0 1.8 0a0.9 0.9 0 1 0 -1.8 0M271.9 477.35a0.9 0.9 0 1 0 1.8 0a0.9 0.9 0 1 0 -1.8 0M272.35 480.17a0.9 0.9 0 1 0 1.8 0a0.9 0.9 0 1 0 -1.8 0M272.8 483.31a0.9 0.9 0 1 0 1.8 0a0.9 0.9 0 1 0 -1.8 0M273.25 486.69a0.9 0.9 0 1 0 1.8 0a0.9 0.9 0 1 0 -1.8 0M273.7 489.23a0.9 0.9 0 1 0 1.8 0a0.9 0.9 0 1 0 -1.8 0M274.15 491.86a0.9 0.9 0 1 0 1.8 0a0.9 0.9 0 1 0 -1.8 0M274.6 493.04a0.9 0.9 0 1 0 1.8 0a0.9 0.9 0 1 0 -1.8 0M275.05 494.16a0.9 0.9 0 1 0 1.8 0a0.9 0.9 0 1 0 -1.8 0M275.5 495.67a0.9 0.9 0 1 0 1.8 0a0.9 0.9 0 1 0 -1.8 0M275.95 496.59a0.9 0.9 0 1 0 1.8 0a0.9 0.9 0 1 0 -1.8 0M276.4 497.82a0.9 0.9 0 1 0 1.8 0a0.9 0.9 0 1 0 -1.8 0M276.85 499.49a0.9 0.9 0 1 0 1.8 0a0.9 0.9 0 1 0 -1.8 0M277.3 500.88a0.9 0.9 0 1 0 1.8 0a0.9 0.9 0 1 0 -1.8 0M277.75 501.58a0.9 0.9 0 1 0 1.8 0a0.9 0.9 0 1 0 -1.8 0M278.2 502.5a0.9 0.9 0 1 0 1.8 0a0.9 0.9 0 1 0 -1.8 0M278.65 502.97a0.9 0.9 0 1 0 1.8 0a0.9 0.9 0 1 0 -1.8 0M279.1 503.15a0.9 0.9 0 1 0 1.8 0a0.9 0.9 0 1 0 -1.8 0M279.55 503.24a0.9 0.9 0 1 0 1.8 0a0.9 0.9 0 1 0 -1.8 0M280 503.52a0.9 0.9 0 1 0 1.8 0a0.9 0.9 0 1 0 -1.8 0M280.45 503.66a0.9 0.9 0 1 0 1.8 0a0.9 0.9 0 1 0 -1.8 0M280.9 504.25a0.9 0.9 0 1 0 1.8 0a0.9 0.9 0 1 0 -1.8 0M281.35 504.57a0.9 0.9 0 1 0 1.8 0a0.9 0.9 0 1 0 -1.8 0M281.8 504.97a0.9 0.9 0 1 0 1.8 0a0.9 0.9 0 1 0 -1.8 0M282.25 505.31a0.9 0.9 0 1 0 1.8 0a0.9 0.9 0 1 0 -1.8 0M282.7 505.45a0.9 0.9 0 1 0 1.8 0a0.9 0.9 0 1 0 -1.8 0M283.15 506.4a0.9 0.9 0 1 0 1.8 0a0.9 0.9 0 1 0 -1.8 0M283.6 506.16a0.9 0.9 0 1 0 1.8 0a0.9 0.9 0 1 0 -1.8 0M284.05 506.57a0.9 0.9 0 1 0 1.8 0a0.9 0.9 0 1 0 -1.8 0M284.5 506.36a0.9 0.9 0 1 0 1.8 0a0.9 0.9 0 1 0 -1.8 0M284.95 506.94a0.9 0.9 0 1 0 1.8 0a0.9 0.9 0 1 0 -1.8 0M285.4 506.55a0.9 0.9 0 1 0 1.8 0a0.9 0.9 0 1 0 -1.8 0M285.85 506.8a0.9 0.9 0 1 0 1.8 0a0.9 0.9 0 1 0 -1.8 0M286.3 506.73a0.9 0.9 0 1 0 1.8 0a0.9 0.9 0 1 0 -1.8 0M286.75 507.47a0.9 0.9 0 1 0 1.8 0a0.9 0.9 0 1 0 -1.8 0M287.2 507.28a0.9 0.9 0 1 0 1.8 0a0.9 0.9 0 1 0 -1.8 0M287.65 507.93a0.9 0.9 0 1 0 1.8 0a0.9 0.9 0 1 0 -1.8 0M288.1 507.93a0.9 0.9 0 1 0 1.8 0a0.9 0.9 0 1 0 -1.8 0M288.55 508.01a0.9 0.9 0 1 0 1.8 0a0.9 0.9 0 1 0 -1.8 0M289 507.93a0.9 0.9 0 1 0 1.8 0a0.9 0.9 0 1 0 -1.8 0M289.45 508.24a0.9 0.9 0 1 0 1.8 0a0.9 0.9 0 1 0 -1.8 0M289.9 508.62a0.9 0.9 0 1 0 1.8 0a0.9 0.9 0 1 0 -1.8 0M290.35 508.57a0.9 0.9 0 1 0 1.8 0a0.9 0.9 0 1 0 -1.8 0M290.8 509.21a0.9 0.9 0 1 0 1.8 0a0.9 0.9 0 1 0 -1.8 0M291.25 509.41a0.9 0.9 0 1 0 1.8 0a0.9 0.9 0 1 0 -1.8 0M291.7 508.99a0.9 0.9 0 1 0 1.8 0a0.9 0.9 0 1 0 -1.8 0M292.15 509.57a0.9 0.9 0 1 0 1.8 0a0.9 0.9 0 1 0 -1.8 0M292.6 508.94a0.9 0.9 0 1 0 1.8 0a0.9 0.9 0 1 0 -1.8 0M293.05 509.06a0.9 0.9 0 1 0 1.8 0a0.9 0.9 0 1 0 -1.8 0M293.5 509.61a0.9 0.9 0 1 0 1.8 0a0.9 0.9 0 1 0 -1.8 0M293.95 509.21a0.9 0.9 0 1 0 1.8 0a0.9 0.9 0 1 0 -1.8 0M294.4 509.58a0.9 0.9 0 1 0 1.8 0a0.9 0.9 0 1 0 -1.8 0M294.85 509.56a0.9 0.9 0 1 0 1.8 0a0.9 0.9 0 1 0 -1.8 0M295.3 509.68a0.9 0.9 0 1 0 1.8 0a0.9 0.9 0 1 0 -1.8 0M295.75 510.1a0.9 0.9 0 1 0 1.8 0a0.9 0.9 0 1 0 -1.8 0M296.2 509.7a0.9 0.9 0 1 0 1.8 0a0.9 0.9 0 1 0 -1.8 0M296.65 510.05a0.9 0.9 0 1 0 1.8 0a0.9 0.9 0 1 0 -1.8 0M297.1 509.82a0.9 0.9 0 1 0 1.8 0a0.9 0.9 0 1 0 -1.8 0M297.55 509.8a0.9 0.9 0 1 0 1.8 0a0.9 0.9 0 1 0 -1.8 0M298 510.32a0.9 0.9 0 1 0 1.8 0a0.9 0.9 0 1 0 -1.8 0M298.45 510.24a0.9 0.9 0 1 0 1.8 0a0.9 0.9 0 1 0 -1.8 0M298.9 510.28a0.9 0.9 0 1 0 1.8 0a0.9 0.9 0 1 0 -1.8 0M299.35 510.25a0.9 0.9 0 1 0 1.8 0a0.9 0.9 0 1 0 -1.8 0M299.8 510.54a0.9 0.9 0 1 0 1.8 0a0.9 0.9 0 1 0 -1.8 0M300.25 510.13a0.9 0.9 0 1 0 1.8 0a0.9 0.9 0 1 0 -1.8 0M300.7 510.31a0.9 0.9 0 1 0 1.8 0a0.9 0.9 0 1 0 -1.8 0M301.15 509.96a0.9 0.9 0 1 0 1.8 0a0.9 0.9 0 1 0 -1.8 0M301.6 510.02a0.9 0.9 0 1 0 1.8 0a0.9 0.9 0 1 0 -1.8 0M302.05 509.94a0.9 0.9 0 1 0 1.8 0a0.9 0.9 0 1 0 -1.8 0M302.5 509.88a0.9 0.9 0 1 0 1.8 0a0.9 0.9 0 1 0 -1.8 0M302.95 510.02a0.9 0.9 0 1 0 1.8 0a0.9 0.9 0 1 0 -1.8 0M303.4 510.44a0.9 0.9 0 1 0 1.8 0a0.9 0.9 0 1 0 -1.8 0M303.85 510.22a0.9 0.9 0 1 0 1.8 0a0.9 0.9 0 1 0 -1.8 0M304.3 509.97a0.9 0.9 0 1 0 1.8 0a0.9 0.9 0 1 0 -1.8 0M304.75 509.84a0.9 0.9 0 1 0 1.8 0a0.9 0.9 0 1 0 -1.8 0M305.2 510.13a0.9 0.9 0 1 0 1.8 0a0.9 0.9 0 1 0 -1.8 0M305.65 509.83a0.9 0.9 0 1 0 1.8 0a0.9 0.9 0 1 0 -1.8 0M306.1 510.08a0.9 0.9 0 1 0 1.8 0a0.9 0.9 0 1 0 -1.8 0M306.55 509.67a0.9 0.9 0 1 0 1.8 0a0.9 0.9 0 1 0 -1.8 0M307 510.13a0.9 0.9 0 1 0 1.8 0a0.9 0.9 0 1 0 -1.8 0M307.45 510.18a0.9 0.9 0 1 0 1.8 0a0.9 0.9 0 1 0 -1.8 0M307.9 510.56a0.9 0.9 0 1 0 1.8 0a0.9 0.9 0 1 0 -1.8 0M308.35 510.77a0.9 0.9 0 1 0 1.8 0a0.9 0.9 0 1 0 -1.8 0M308.8 510.97a0.9 0.9 0 1 0 1.8 0a0.9 0.9 0 1 0 -1.8 0M309.25 511.23a0.9 0.9 0 1 0 1.8 0a0.9 0.9 0 1 0 -1.8 0M309.7 511.09a0.9 0.9 0 1 0 1.8 0a0.9 0.9 0 1 0 -1.8 0M310.15 511.08a0.9 0.9 0 1 0 1.8 0a0.9 0.9 0 1 0 -1.8 0M310.6 511.2a0.9 0.9 0 1 0 1.8 0a0.9 0.9 0 1 0 -1.8 0M311.05 511.05a0.9 0.9 0 1 0 1.8 0a0.9 0.9 0 1 0 -1.8 0M311.5 511.38a0.9 0.9 0 1 0 1.8 0a0.9 0.9 0 1 0 -1.8 0" fill="#e8141c"/>
<path d="M45.1 427.75a0.9 0.9 0 1 0 1.8 0a0.9 0.9 0 1 0 -1.8 0M45.55 428.22a0.9 0.9 0 1 0 1.8 0a0.9 0.9 0 1 0 -1.8 0M46 428.17a0.9 0.9 0 1 0 1.8 0a0.9 0.9 0 1 0 -1.8 0M46.45 428.01a0.9 0.9 0 1 0 1.8 0a0.9 0.9 0 1 0 -1.8 0M46.9 428.27a0.9 0.9 0 1 0 1.8 0a0.9 0.9 0 1 0 -1.8 0M47.35 428.42a0.9 0.9 0 1 0 1.8 0a0.9 0.9 0 1 0 -1.8 0M47.8 428.37a0.9 0.9 0 1 0 1.8 0a0.9 0.9 0 1 0 -1.8 0M48.25 427.88a0.9 0.9 0 1 0 1.8 0a0.9 0.9 0 1 0 -1.8 0M48.7 427.75a0.9 0.9 0 1 0 1.8 0a0.9 0.9 0 1 0 -1.8 0M49.15 427.56a0.9 0.9 0 1 0 1.8 0a0.9 0.9 0 1 0 -1.8 0M49.6 427.95a0.9 0.9 0 1 0 1.8 0a0.9 0.9 0 1 0 -1.8 0M50.05 428.25a0.9 0.9 0 1 0 1.8 0a0.9 0.9 0 1 0 -1.8 0M50.5 428.43a0.9 0.9 0 1 0 1.8 0a0.9 0.9 0 1 0 -1.8 0M50.95 428.66a0.9 0.9 0 1 0 1.8 0a0.9 0.9 0 1 0 -1.8 0M51.4 428.73a0.9 0.9 0 1 0 1.8 0a0.9 0.9 0 1 0 -1.8 0M51.85 428.55a0.9 0.9 0 1 0 1.8 0a0.9 0.9 0 1 0 -1.8 0M52.3 428.48a0.9 0.9 0 1 0 1.8 0a0.9 0.9 0 1 0 -1.8 0M52.75 428.59a0.9 0.9 0 1 0 1.8 0a0.9 0.9 0 1 0 -1.8 0M53.2 428.61a0.9 0.9 0 1 0 1.8 0a0.9 0.9 0 1 0 -1.8 0M53.65 428.14a0.9 0.9 0 1 0 1.8 0a0.9 0.9 0 1 0 -1.8 0M54.1 428.61a0.9 0.9 0 1 0 1.8 0a0.9 0.9 0 1 0 -1.8 0M54.55 428.41a0.9 0.9 0 1 0 1.8 0a0.9 0.9 0 1 0 -1.8 0M55 428.49a0.9 0.9 0 1 0 1.8 0a0.9 0.9 0 1 0 -1.8 0M55.45 428a0.9 0.9 0 1 0 1.8 0a0.9 0.9 0 1 0 -1.8 0M55.9 428.22a0.9 0.9 0 1 0 1.8 0a0.9 0.9 0 1 0 -1.8 0M56.35 427.64a0.9 0.9 0 1 0 1.8 0a0.9 0.9 0 1 0 -1.8 0M56.8 428.28a0.9 0.9 0 1 0 1.8 0a0.9 0.9 0 1 0 -1.8 0M57.25 427.92a0.9 0.9 0 1 0 1.8 0a0.9 0.9 0 1 0 -1.8 0M57.7 428.16a0.9 0.9 0 1 0 1.8 0a0.9 0.9 0 1 0 -1.8 0M58.15 427.98a0.9 0.9 0 1 0 1.8 0a0.9 0.9 0 1 0 -1.8 0M58.6 428.02a0.9 0.9 0 1 0 1.8 0a0.9 0.9 0 1 0 -1.8 0M59.05 428.49a0.9 0.9 0 1 0 1.8 0a0.9 0.9 0 1 0 -1.8 0M59.5 428.91a0.9 0.9 0 1 0 1.8 0a0.9 0.9 0 1 0 -1.8 0M59.95 428.4a0.9 0.9 0 1 0 1.8 0a0.9 0.9 0 1 0 -1.8 0M60.4 428.69a0.9 0.9 0 1 0 1.8 0a0.9 0.9 0 1 0 -1.8 0M60.85 428.51a0.9 0.9 0 1 0 1.8 0a0.9 0.9 0 1 0 -1.8 0M61.3 428.53a0.9 0.9 0 1 0 1.8 0a0.9 0.9 0 1 0 -1.8 0M61.75 428.22a0.9 0.9 0 1 0 1.8 0a0.9 0.9 0 1 0 -1.8 0M62.2 427.82a0.9 0.9 0 1 0 1.8 0a0.9 0.9 0 1 0 -1.8 0M62.65 427.38a0.9 0.9 0 1 0 1.8 0a0.9 0.9 0 1 0 -1.8 0M63.1 427.57a0.9 0.9 0 1 0 1.8 0a0.9 0.9 0 1 0 -1.8 0M63.55 427.52a0.9 0.9 0 1 0 1.8 0a0.9 0.9 0 1 0 -1.8 0M64 426.93a0.9 0.9 0 1 0 1.8 0a0.9 0.9 0 1 0 -1.8 0M64.45 427.06a0.9 0.9 0 1 0 1.8 0a0.9 0.9 0 1 0 -1.8 0M64.9 426.84a0.9 0.9 0 1 0 1.8 0a0.9 0.9 0 1 0 -1.8 0M65.35 427.23a0.9 0.9 0 1 0 1.8 0a0.9 0.9 0 1 0 -1.8 0M65.8 427.43a0.9 0.9 0 1 0 1.8 0a0.9 0.9 0 1 0 -1.8 0M66.25 427.12a0.9 0.9 0 1 0 1.8 0a0.9 0.9 0 1 0 -1.8 0M66.7 427.23a0.9 0.9 0 1 0 1.8 0a0.9 0.9 0 1 0 -1.8 0M67.15 427.34a0.9 0.9 0 1 0 1.8 0a0.9 0.9 0 1 0 -1.8 0M67.6 426.97a0.9 0.9 0 1 0 1.8 0a0.9 0.9 0 1 0 -1.8 0M68.05 427.19a0.9 0.9 0 1 0 1.8 0a0.9 0.9 0 1 0 -1.8 0M68.5 427.39a0.9 0.9 0 1 0 1.8 0a0.9 0.9 0 1 0 -1.8 0M68.95 427.25a0.9 0.9 0 1 0 1.8 0a0.9 0.9 0 1 0 -1.8 0M69.4 426.79a0.9 0.9 0 1 0 1.8 0a0.9 0.9 0 1 0 -1.8 0M69.85 426.84a0.9 0.9 0 1 0 1.8 0a0.9 0.9 0 1 0 -1.8 0M70.3 426.67a0.9 0.9 0 1 0 1.8 0a0.9 0.9 0 1 0 -1.8 0M70.75 426.9a0.9 0.9 0 1 0 1.8 0a0.9 0.9 0 1 0 -1.8 0M71.2 427.49a0.9 0.9 0 1 0 1.8 0a0.9 0.9 0 1 0 -1.8 0M71.65 426.84a0.9 0.9 0 1 0 1.8 0a0.9 0.9 0 1 0 -1.8 0M72.1 427.01a0.9 0.9 0 1 0 1.8 0a0.9 0.9 0 1 0 -1.8 0M72.55 426.98a0.9 0.9 0 1 0 1.8 0a0.9 0.9 0 1 0 -1.8 0M73 426.88a0.9 0.9 0 1 0 1.8 0a0.9 0.9 0 1 0 -1.8 0M73.45 426.65a0.9 0.9 0 1 0 1.8 0a0.9 0.9 0 1 0 -1.8 0M73.9 426.85a0.9 0.9 0 1 0 1.8 0a0.9 0.9 0 1 0 -1.8 0M74.35 426.53a0.9 0.9 0 1 0 1.8 0a0.9 0.9 0 1 0 -1.8 0M74.8 426.58a0.9 0.9 0 1 0 1.8 0a0.9 0.9 0 1 0 -1.8 0M75.25 426.19a0.9 0.9 0 1 0 1.8 0a0.9 0.9 0 1 0 -1.8 0M75.7 426.06a0.9 0.9 0 1 0 1.8 0a0.9 0.9 0 1 0 -1.8 0M76.15 426.16a0.9 0.9 0 1 0 1.8 0a0.9 0.9 0 1 0 -1.8 0M76.6 426.39a0.9 0.9 0 1 0 1.8 0a0.9 0.9 0 1 0 -1.8 0M77.05 426.66a0.9 0.9 0 1 0 1.8 0a0.9 0.9 0 1 0 -1.8 0M77.5 426.65a0.9 0.9 0 1 0 1.8 0a0.9 0.9 0 1 0 -1.8 0M77.95 427.32a0.9 0.9 0 1 0 1.8 0a0.9 0.9 0 1 0 -1.8 0M78.4 427.05a0.9 0.9 0 1 0 1.8 0a0.9 0.9 0 1 0 -1.8 0M78.85 427.09a0.9 0.9 0 1 0 1.8 0a0.9 0.9 0 1 0 -1.8 0M79.3 427.09a0.9 0.9 0 1 0 1.8 0a0.9 0.9 0 1 0 -1.8 0M79.75 426.99a0.9 0.9 0 1 0 1.8 0a0.9 0.9 0 1 0 -1.8 0M80.2 426.72a0.9 0.9 0 1 0 1.8 0a0.9 0.9 0 1 0 -1.8 0M80.65 426.41a0.9 0.9 0 1 0 1.8 0a0.9 0.9 0 1 0 -1.8 0M81.1 426.38a0.9 0.9 0 1 0 1.8 0a0.9 0.9 0 1 0 -1.8 0M81.55 426.55a0.9 0.9 0 1 0 1.8 0a0.9 0.9 0 1 0 -1.8 0M82 426.47a0.9 0.9 0 1 0 1.8 0a0.9 0.9 0 1 0 -1.8 0M82.45 426.38a0.9 0.9 0 1 0 1.8 0a0.9 0.9 0 1 0 -1.8 0M82.9 425.9a0.9 0.9 0 1 0 1.8 0a0.9 0.9 0 1 0 -1.8 0M83.35 425.71a0.9 0.9 0 1 0 1.8 0a0.9 0.9 0 1 0 -1.8 0M83.8 425.32a0.9 0.9 0 1 0 1.8 0a0.9 0.9 0 1 0 -1.8 0M84.25 425.6a0.9 0.9 0 1 0 1.8 0a0.9 0.9 0 1 0 -1.8 0M84.7 425.03a0.9 0.9 0 1 0 1.8 0a0.9 0.9 0 1 0 -1.8 0M85.15 425.11a0.9 0.9 0 1 0 1.8 0a0.9 0.9 0 1 0 -1.8 0M85.6 424.65a0.9 0.9 0 1 0 1.8 0a0.9 0.9 0 1 0 -1.8 0M86.05 424.94a0.9 0.9 0 1 0 1.8 0a0.9 0.9 0 1 0 -1.8 0M86.5 424.76a0.9 0.9 0 1 0 1.8 0a0.9 0.9 0 1 0 -1.8 0M86.95 425.02a0.9 0.9 0 1 0 1.8 0a0.9 0.9 0 1 0 -1.8 0M87.4 424.49a0.9 0.9 0 1 0 1.8 0a0.9 0.9 0 1 0 -1.8 0M87.85 424.24a0.9 0.9 0 1 0 1.8 0a0.9 0.9 0 1 0 -1.8 0M88.3 424.6a0.9 0.9 0 1 0 1.8 0a0.9 0.9 0 1 0 -1.8 0M88.75 424.75a0.9 0.9 0 1 0 1.8 0a0.9 0.9 0 1 0 -1.8 0M89.2 424.93a0.9 0.9 0 1 0 1.8 0a0.9 0.9 0 1 0 -1.8 0M89.65 424.37a0.9 0.9 0 1 0 1.8 0a0.9 0.9 0 1 0 -1.8 0M90.1 424.15a0.9 0.9 0 1 0 1.8 0a0.9 0.9 0 1 0 -1.8 0M90.55 423.86a0.9 0.9 0 1 0 1.8 0a0.9 0.9 0 1 0 -1.8 0M91 424.3a0.9 0.9 0 1 0 1.8 0a0.9 0.9 0 1 0 -1.8 0M91.45 423.56a0.9 0.9 0 1 0 1.8 0a0.9 0.9 0 1 0 -1.8 0M91.9 423.47a0.9 0.9 0 1 0 1.8 0a0.9 0.9 0 1 0 -1.8 0M92.35 423.65a0.9 0.9 0 1 0 1.8 0a0.9 0.9 0 1 0 -1.8 0M92.8 423.61a0.9 0.9 0 1 0 1.8 0a0.9 0.9 0 1 0 -1.8 0M93.25 424.04a0.9 0.9 0 1 0 1.8 0a0.9 0.9 0 1 0 -1.8 0M93.7 423.95a0.9 0.9 0 1 0 1.8 0a0.9 0.9 0 1 0 -1.8 0M94.15 423.59a0.9 0.9 0 1 0 1.8 0a0.9 0.9 0 1 0 -1.8 0M94.6 424.27a0.9 0.9 0 1 0 1.8 0a0.9 0.9 0 1 0 -1.8 0M95.05 424.24a0.9 0.9 0 1 0 1.8 0a0.9 0.9 0 1 0 -1.8 0M95.5 424.44a0.9 0.9 0 1 0 1.8 0a0.9 0.9 0 1 0 -1.8 0M95.95 424.6a0.9 0.9 0 1 0 1.8 0a0.9 0.9 0 1 0 -1.8 0M96.4 423.84a0.9 0.9 0 1 0 1.8 0a0.9 0.9 0 1 0 -1.8 0M96.85 423.82a0.9 0.9 0 1 0 1.8 0a0.9 0.9 0 1 0 -1.8 0M97.3 423.46a0.9 0.9 0 1 0 1.8 0a0.9 0.9 0 1 0 -1.8 0M97.75 423.19a0.9 0.9 0 1 0 1.8 0a0.9 0.9 0 1 0 -1.8 0M98.2 423.01a0.9 0.9 0 1 0 1.8 0a0.9 0.9 0 1 0 -1.8 0M98.65 422.87a0.9 0.9 0 1 0 1.8 0a0.9 0.9 0 1 0 -1.8 0M99.1 422.89a0.9 0.9 0 1 0 1.8 0a0.9 0.9 0 1 0 -1.8 0M99.55 423.07a0.9 0.9 0 1 0 1.8 0a0.9 0.9 0 1 0 -1.8 0M100 422.68a0.9 0.9 0 1 0 1.8 0a0.9 0.9 0 1 0 -1.8 0M100.45 422.73a0.9 0.9 0 1 0 1.8 0a0.9 0.9 0 1 0 -1.8 0M100.9 422.71a0.9 0.9 0 1 0 1.8 0a0.9 0.9 0 1 0 -1.8 0M101.35 422.4a0.9 0.9 0 1 0 1.8 0a0.9 0.9 0 1 0 -1.8 0M101.8 422.27a0.9 0.9 0 1 0 1.8 0a0.9 0.9 0 1 0 -1.8 0M102.25 422.16a0.9 0.9 0 1 0 1.8 0a0.9 0.9 0 1 0 -1.8 0M102.7 421.62a0.9 0.9 0 1 0 1.8 0a0.9 0.9 0 1 0 -1.8 0M103.15 421.81a0.9 0.9 0 1 0 1.8 0a0.9 0.9 0 1 0 -1.8 0M103.6 421.69a0.9 0.9 0 1 0 1.8 0a0.9 0.9 0 1 0 -1.8 0M104.05 421.71a0.9 0.9 0 1 0 1.8 0a0.9 0.9 0 1 0 -1.8 0M104.5 422.51a0.9 0.9 0 1 0 1.8 0a0.9 0.9 0 1 0 -1.8 0M104.95 421.96a0.9 0.9 0 1 0 1.8 0a0.9 0.9 0 1 0 -1.8 0M105.4 421.86a0.9 0.9 0 1 0 1.8 0a0.9 0.9 0 1 0 -1.8 0M105.85 422.5a0.9 0.9 0 1 0 1.8 0a0.9 0.9 0 1 0 -1.8 0M106.3 422.29a0.9 0.9 0 1 0 1.8 0a0.9 0.9 0 1 0 -1.8 0M106.75 422.47a0.9 0.9 0 1 0 1.8 0a0.9 0.9 0 1 0 -1.8 0M107.2 422.28a0.9 0.9 0 1 0 1.8 0a0.9 0.9 0 1 0 -1.8 0M107.65 421.54a0.9 0.9 0 1 0 1.8 0a0.9 0.9 0 1 0 -1.8 0M108.1 421.36a0.9 0.9 0 1 0 1.8 0a0.9 0.9 0 1 0 -1.8 0M108.55 421.65a0.9 0.9 0 1 0 1.8 0a0.9 0.9 0 1 0 -1.8 0M109 421.36a0.9 0.9 0 1 0 1.8 0a0.9 0.9 0 1 0 -1.8 0M109.45 421.24a0.9 0.9 0 1 0 1.8 0a0.9 0.9 0 1 0 -1.8 0M109.9 421.05a0.9 0.9 0 1 0 1.8 0a0.9 0.9 0 1 0 -1.8 0M110.35 421.2a0.9 0.9 0 1 0 1.8 0a0.9 0.9 0 1 0 -1.8 0M110.8 421.21a0.9 0.9 0 1 0 1.8 0a0.9 0.9 0 1 0 -1.8 0M111.25 421.21a0.9 0.9 0 1 0 1.8 0a0.9 0.9 0 1 0 -1.8 0M111.7 421.48a0.9 0.9 0 1 0 1.8 0a0.9 0.9 0 1 0 -1.8 0M112.15 420.81a0.9 0.9 0 1 0 1.8 0a0.9 0.9 0 1 0 -1.8 0M112.6 420.55a0.9 0.9 0 1 0 1.8 0a0.9 0.9 0 1 0 -1.8 0M113.05 420.6a0.9 0.9 0 1 0 1.8 0a0.9 0.9 0 1 0 -1.8 0M113.5 420.84a0.9 0.9 0 1 0 1.8 0a0.9 0.9 0 1 0 -1.8 0M113.95 420.46a0.9 0.9 0 1 0 1.8 0a0.9 0.9 0 1 0 -1.8 0M114.4 420.66a0.9 0.9 0 1 0 1.8 0a0.9 0.9 0 1 0 -1.8 0M114.85 420.06a0.9 0.9 0 1 0 1.8 0a0.9 0.9 0 1 0 -1.8 0M115.3 420.39a0.9 0.9 0 1 0 1.8 0a0.9 0.9 0 1 0 -1.8 0M115.75 420.06a0.9 0.9 0 1 0 1.8 0a0.9 0.9 0 1 0 -1.8 0M116.2 419.92a0.9 0.9 0 1 0 1.8 0a0.9 0.9 0 1 0 -1.8 0M116.65 419.87a0.9 0.9 0 1 0 1.8 0a0.9 0.9 0 1 0 -1.8 0M117.1 419.35a0.9 0.9 0 1 0 1.8 0a0.9 0.9 0 1 0 -1.8 0M117.55 419a0.9 0.9 0 1 0 1.8 0a0.9 0.9 0 1 0 -1.8 0M118 419.55a0.9 0.9 0 1 0 1.8 0a0.9 0.9 0 1 0 -1.8 0M118.45 419.16a0.9 0.9 0 1 0 1.8 0a0.9 0.9 0 1 0 -1.8 0M118.9 418.53a0.9 0.9 0 1 0 1.8 0a0.9 0.9 0 1 0 -1.8 0M119.35 418.4a0.9 0.9 0 1 0 1.8 0a0.9 0.9 0 1 0 -1.8 0M119.8 418.29a0.9 0.9 0 1 0 1.8 0a0.9 0.9 0 1 0 -1.8 0M120.25 418.16a0.9 0.9 0 1 0 1.8 0a0.9 0.9 0 1 0 -1.8 0M120.7 418.15a0.9 0.9 0 1 0 1.8 0a0.9 0.9 0 1 0 -1.8 0M121.15 417.83a0.9 0.9 0 1 0 1.8 0a0.9 0.9 0 1 0 -1.8 0M121.6 417.65a0.9 0.9 0 1 0 1.8 0a0.9 0.9 0 1 0 -1.8 0M122.05 417.39a0.9 0.9 0 1 0 1.8 0a0.9 0.9 0 1 0 -1.8 0M122.5 417.54a0.9 0.9 0 1 0 1.8 0a0.9 0.9 0 1 0 -1.8 0M122.95 417.24a0.9 0.9 0 1 0 1.8 0a0.9 0.9 0 1 0 -1.8 0M123.4 417.18a0.9 0.9 0 1 0 1.8 0a0.9 0.9 0 1 0 -1.8 0M123.85 416.92a0.9 0.9 0 1 0 1.8 0a0.9 0.9 0 1 0 -1.8 0M124.3 416.89a0.9 0.9 0 1 0 1.8 0a0.9 0.9 0 1 0 -1.8 0M124.75 417.06a0.9 0.9 0 1 0 1.8 0a0.9 0.9 0 1 0 -1.8 0M125.2 417.44a0.9 0.9 0 1 0 1.8 0a0.9 0.9 0 1 0 -1.8 0M125.65 416.81a0.9 0.9 0 1 0 1.8 0a0.9 0.9 0 1 0 -1.8 0M126.1 417.31a0.9 0.9 0 1 0 1.8 0a0.9 0.9 0 1 0 -1.8 0M126.55 416.96a0.9 0.9 0 1 0 1.8 0a0.9 0.9 0 1 0 -1.8 0M127 416.84a0.9 0.9 0 1 0 1.8 0a0.9 0.9 0 1 0 -1.8 0M127.45 416.76a0.9 0.9 0 1 0 1.8 0a0.9 0.9 0 1 0 -1.8 0M127.9 416.23a0.9 0.9 0 1 0 1.8 0a0.9 0.9 0 1 0 -1.8 0M128.35 416.51a0.9 0.9 0 1 0 1.8 0a0.9 0.9 0 1 0 -1.8 0M128.8 416.32a0.9 0.9 0 1 0 1.8 0a0.9 0.9 0 1 0 -1.8 0M129.25 416.07a0.9 0.9 0 1 0 1.8 0a0.9 0.9 0 1 0 -1.8 0M129.7 415.77a0.9 0.9 0 1 0 1.8 0a0.9 0.9 0 1 0 -1.8 0M130.15 415.25a0.9 0.9 0 1 0 1.8 0a0.9 0.9 0 1 0 -1.8 0M130.6 415.1a0.9 0.9 0 1 0 1.8 0a0.9 0.9 0 1 0 -1.8 0M131.05 414.94a0.9 0.9 0 1 0 1.8 0a0.9 0.9 0 1 0 -1.8 0M131.5 414.97a0.9 0.9 0 1 0 1.8 0a0.9 0.9 0 1 0 -1.8 0M131.95 414.75a0.9 0.9 0 1 0 1.8 0a0.9 0.9 0 1 0 -1.8 0M132.4 414.47a0.9 0.9 0 1 0 1.8 0a0.9 0.9 0 1 0 -1.8 0M132.85 414.7a0.9 0.9 0 1 0 1.8 0a0.9 0.9 0 1 0 -1.8 0M133.3 414.6a0.9 0.9 0 1 0 1.8 0a0.9 0.9 0 1 0 -1.8 0M133.75 414.48a0.9 0.9 0 1 0 1.8 0a0.9 0.9 0 1 0 -1.8 0M134.2 413.96a0.9 0.9 0 1 0 1.8 0a0.9 0.9 0 1 0 -1.8 0M134.65 414.31a0.9 0.9 0 1 0 1.8 0a0.9 0.9 0 1 0 -1.8 0M135.1 414.17a0.9 0.9 0 1 0 1.8 0a0.9 0.9 0 1 0 -1.8 0M135.55 414.05a0.9 0.9 0 1 0 1.8 0a0.9 0.9 0 1 0 -1.8 0M136 413.79a0.9 0.9 0 1 0 1.8 0a0.9 0.9 0 1 0 -1.8 0M136.45 413.45a0.9 0.9 0 1 0 1.8 0a0.9 0.9 0 1 0 -1.8 0M136.9 413.64a0.9 0.9 0 1 0 1.8 0a0.9 0.9 0 1 0 -1.8 0M137.35 413.9a0.9 0.9 0 1 0 1.8 0a0.9 0.9 0 1 0 -1.8 0M137.8 413.19a0.9 0.9 0 1 0 1.8 0a0.9 0.9 0 1 0 -1.8 0M138.25 412.95a0.9 0.9 0 1 0 1.8 0a0.9 0.9 0 1 0 -1.8 0M138.7 413.28a0.9 0.9 0 1 0 1.8 0a0.9 0.9 0 1 0 -1.8 0M139.15 413.18a0.9 0.9 0 1 0 1.8 0a0.9 0.9 0 1 0 -1.8 0M139.6 412.53a0.9 0.9 0 1 0 1.8 0a0.9 0.9 0 1 0 -1.8 0M140.05 412.75a0.9 0.9 0 1 0 1.8 0a0.9 0.9 0 1 0 -1.8 0M140.5 412.45a0.9 0.9 0 1 0 1.8 0a0.9 0.9 0 1 0 -1.8 0M140.95 412.86a0.9 0.9 0 1 0 1.8 0a0.9 0.9 0 1 0 -1.8 0M141.4 412.73a0.9 0.9 0 1 0 1.8 0a0.9 0.9 0 1 0 -1.8 0M141.85 412.34a0.9 0.9 0 1 0 1.8 0a0.9 0.9 0 1 0 -1.8 0M142.3 412.66a0.9 0.9 0 1 0 1.8 0a0.9 0.9 0 1 0 -1.8 0M142.75 412.2a0.9 0.9 0 1 0 1.8 0a0.9 0.9 0 1 0 -1.8 0M143.2 412.07a0.9 0.9 0 1 0 1.8 0a0.9 0.9 0 1 0 -1.8 0M143.65 411.67a0.9 0.9 0 1 0 1.8 0a0.9 0.9 0 1 0 -1.8 0M144.1 411.34a0.9 0.9 0 1 0 1.8 0a0.9 0.9 0 1 0 -1.8 0M144.55 411.62a0.9 0.9 0 1 0 1.8 0a0.9 0.9 0 1 0 -1.8 0M145 411.14a0.9 0.9 0 1 0 1.8 0a0.9 0.9 0 1 0 -1.8 0M145.45 411.02a0.9 0.9 0 1 0 1.8 0a0.9 0.9 0 1 0 -1.8 0M145.9 411.07a0.9 0.9 0 1 0 1.8 0a0.9 0.9 0 1 0 -1.8 0M146.35 410.78a0.9 0.9 0 1 0 1.8 0a0.9 0.9 0 1 0 -1.8 0M146.8 410.6a0.9 0.9 0 1 0 1.8 0a0.9 0.9 0 1 0 -1.8 0M147.25 410.45a0.9 0.9 0 1 0 1.8 0a0.9 0.9 0 1 0 -1.8 0M147.7 410.08a0.9 0.9 0 1 0 1.8 0a0.9 0.9 0 1 0 -1.8 0M148.15 409.76a0.9 0.9 0 1 0 1.8 0a0.9 0.9 0 1 0 -1.8 0M148.6 409.23a0.9 0.9 0 1 0 1.8 0a0.9 0.9 0 1 0 -1.8 0M149.05 409.51a0.9 0.9 0 1 0 1.8 0a0.9 0.9 0 1 0 -1.8 0M149.5 409.02a0.9 0.9 0 1 0 1.8 0a0.9 0.9 0 1 0 -1.8 0M149.95 408.35a0.9 0.9 0 1 0 1.8 0a0.9 0.9 0 1 0 -1.8 0M150.4 407.89a0.9 0.9 0 1 0 1.8 0a0.9 0.9 0 1 0 -1.8 0M150.85 406.12a0.9 0.9 0 1 0 1.8 0a0.9 0.9 0 1 0 -1.8 0M151.3 403.56a0.9 0.9 0 1 0 1.8 0a0.9 0.9 0 1 0 -1.8 0M151.75 400.82a0.9 0.9 0 1 0 1.8 0a0.9 0.9 0 1 0 -1.8 0M152.2 396.61a0.9 0.9 0 1 0 1.8 0a0.9 0.9 0 1 0 -1.8 0M152.65 391.05a0.9 0.9 0 1 0 1.8 0a0.9 0.9 0 1 0 -1.8 0M153.1 386.1a0.9 0.9 0 1 0 1.8 0a0.9 0.9 0 1 0 -1.8 0M153.55 380.6a0.9 0.9 0 1 0 1.8 0a0.9 0.9 0 1 0 -1.8 0M154 377.05a0.9 0.9 0 1 0 1.8 0a0.9 0.9 0 1 0 -1.8 0M154.45 375.41a0.9 0.9 0 1 0 1.8 0a0.9 0.9 0 1 0 -1.8 0M154.9 373.2a0.9 0.9 0 1 0 1.8 0a0.9 0.9 0 1 0 -1.8 0M155.35 370.65a0.9 0.9 0 1 0 1.8 0a0.9 0.9 0 1 0 -1.8 0M155.8 368.51a0.9 0.9 0 1 0 1.8 0a0.9 0.9 0 1 0 -1.8 0M156.25 366.82a0.9 0.9 0 1 0 1.8 0a0.9 0.9 0 1 0 -1.8 0M156.7 363.61a0.9 0.9 0 1 0 1.8 0a0.9 0.9 0 1 0 -1.8 0M157.15 360.55a0.9 0.9 0 1 0 1.8 0a0.9 0.9 0 1 0 -1.8 0M157.6 357.78a0.9 0.9 0 1 0 1.8 0a0.9 0.9 0 1 0 -1.8 0M158.05 354.76a0.9 0.9 0 1 0 1.8 0a0.9 0.9 0 1 0 -1.8 0M158.5 352.24a0.9 0.9 0 1 0 1.8 0a0.9 0.9 0 1 0 -1.8 0M158.95 350.92a0.9 0.9 0 1 0 1.8 0a0.9 0.9 0 1 0 -1.8 0M159.4 349.64a0.9 0.9 0 1 0 1.8 0a0.9 0.9 0 1 0 -1.8 0M159.85 348.55a0.9 0.9 0 1 0 1.8 0a0.9 0.9 0 1 0 -1.8 0M160.3 347.28a0.9 0.9 0 1 0 1.8 0a0.9 0.9 0 1 0 -1.8 0M160.75 346.02a0.9 0.9 0 1 0 1.8 0a0.9 0.9 0 1 0 -1.8 0M161.2 345.3a0.9 0.9 0 1 0 1.8 0a0.9 0.9 0 1 0 -1.8 0M161.65 344.82a0.9 0.9 0 1 0 1.8 0a0.9 0.9 0 1 0 -1.8 0M162.1 344.75a0.9 0.9 0 1 0 1.8 0a0.9 0.9 0 1 0 -1.8 0M162.55 343.73a0.9 0.9 0 1 0 1.8 0a0.9 0.9 0 1 0 -1.8 0M163 343.49a0.9 0.9 0 1 0 1.8 0a0.9 0.9 0 1 0 -1.8 0M163.45 342.81a0.9 0.9 0 1 0 1.8 0a0.9 0.9 0 1 0 -1.8 0M163.9 342.77a0.9 0.9 0 1 0 1.8 0a0.9 0.9 0 1 0 -1.8 0M164.35 342.29a0.9 0.9 0 1 0 1.8 0a0.9 0.9 0 1 0 -1.8 0M164.8 343a0.9 0.9 0 1 0 1.8 0a0.9 0.9 0 1 0 -1.8 0M165.25 342.68a0.9 0.9 0 1 0 1.8 0a0.9 0.9 0 1 0 -1.8 0M165.7 342.94a0.9 0.9 0 1 0 1.8 0a0.9 0.9 0 1 0 -1.8 0M166.15 343.49a0.9 0.9 0 1 0 1.8 0a0.9 0.9 0 1 0 -1.8 0M166.6 343.8a0.9 0.9 0 1 0 1.8 0a0.9 0.9 0 1 0 -1.8 0M167.05 343.72a0.9 0.9 0 1 0 1.8 0a0.9 0.9 0 1 0 -1.8 0M167.5 343.98a0.9 0.9 0 1 0 1.8 0a0.9 0.9 0 1 0 -1.8 0M167.95 344.23a0.9 0.9 0 1 0 1.8 0a0.9 0.9 0 1 0 -1.8 0M168.4 344.39a0.9 0.9 0 1 0 1.8 0a0.9 0.9 0 1 0 -1.8 0M168.85 344.26a0.9 0.9 0 1 0 1.8 0a0.9 0.9 0 1 0 -1.8 0M169.3 344.56a0.9 0.9 0 1 0 1.8 0a0.9 0.9 0 1 0 -1.8 0M169.75 344.24a0.9 0.9 0 1 0 1.8 0a0.9 0.9 0 1 0 -1.8 0M170.2 344.39a0.9 0.9 0 1 0 1.8 0a0.9 0.9 0 1 0 -1.8 0M170.65 344.22a0.9 0.9 0 1 0 1.8 0a0.9 0.9 0 1 0 -1.8 0M171.1 344.76a0.9 0.9 0 1 0 1.8 0a0.9 0.9 0 1 0 -1.8 0M171.55 344.91a0.9 0.9 0 1 0 1.8 0a0.9 0.9 0 1 0 -1.8 0M172 345.3a0.9 0.9 0 1 0 1.8 0a0.9 0.9 0 1 0 -1.8 0M172.45 345.74a0.9 0.9 0 1 0 1.8 0a0.9 0.9 0 1 0 -1.8 0M172.9 345.9a0.9 0.9 0 1 0 1.8 0a0.9 0.9 0 1 0 -1.8 0M173.35 345.98a0.9 0.9 0 1 0 1.8 0a0.9 0.9 0 1 0 -1.8 0M173.8 346.4a0.9 0.9 0 1 0 1.8 0a0.9 0.9 0 1 0 -1.8 0M174.25 346.41a0.9 0.9 0 1 0 1.8 0a0.9 0.9 0 1 0 -1.8 0M174.7 346.33a0.9 0.9 0 1 0 1.8 0a0.9 0.9 0 1 0 -1.8 0M175.15 346.33a0.9 0.9 0 1 0 1.8 0a0.9 0.9 0 1 0 -1.8 0M175.6 346.86a0.9 0.9 0 1 0 1.8 0a0.9 0.9 0 1 0 -1.8 0M176.05 346.85a0.9 0.9 0 1 0 1.8 0a0.9 0.9 0 1 0 -1.8 0M176.5 347.06a0.9 0.9 0 1 0 1.8 0a0.9 0.9 0 1 0 -1.8 0M176.95 347.18a0.9 0.9 0 1 0 1.8 0a0.9 0.9 0 1 0 -1.8 0M177.4 347.3a0.9 0.9 0 1 0 1.8 0a0.9 0.9 0 1 0 -1.8 0M177.85 347.55a0.9 0.9 0 1 0 1.8 0a0.9 0.9 0 1 0 -1.8 0M178.3 347.42a0.9 0.9 0 1 0 1.8 0a0.9 0.9 0 1 0 -1.8 0M178.75 347.4a0.9 0.9 0 1 0 1.8 0a0.9 0.9 0 1 0 -1.8 0M179.2 347.39a0.9 0.9 0 1 0 1.8 0a0.9 0.9 0 1 0 -1.8 0M179.65 347.95a0.9 0.9 0 1 0 1.8 0a0.9 0.9 0 1 0 -1.8 0M180.1 347.48a0.9 0.9 0 1 0 1.8 0a0.9 0.9 0 1 0 -1.8 0M180.55 347.56a0.9 0.9 0 1 0 1.8 0a0.9 0.9 0 1 0 -1.8 0M181 347.75a0.9 0.9 0 1 0 1.8 0a0.9 0.9 0 1 0 -1.8 0M181.45 348.06a0.9 0.9 0 1 0 1.8 0a0.9 0.9 0 1 0 -1.8 0M181.9 348.13a0.9 0.9 0 1 0 1.8 0a0.9 0.9 0 1 0 -1.8 0M182.35 348a0.9 0.9 0 1 0 1.8 0a0.9 0.9 0 1 0 -1.8 0M182.8 347.98a0.9 0.9 0 1 0 1.8 0a0.9 0.9 0 1 0 -1.8 0M183.25 348.25a0.9 0.9 0 1 0 1.8 0a0.9 0.9 0 1 0 -1.8 0M183.7 349a0.9 0.9 0 1 0 1.8 0a0.9 0.9 0 1 0 -1.8 0M184.15 349.25a0.9 0.9 0 1 0 1.8 0a0.9 0.9 0 1 0 -1.8 0M184.6 349.75a0.9 0.9 0 1 0 1.8 0a0.9 0.9 0 1 0 -1.8 0M185.05 350.03a0.9 0.9 0 1 0 1.8 0a0.9 0.9 0 1 0 -1.8 0M185.5 350.85a0.9 0.9 0 1 0 1.8 0a0.9 0.9 0 1 0 -1.8 0M185.95 352.58a0.9 0.9 0 1 0 1.8 0a0.9 0.9 0 1 0 -1.8 0M186.4 354.09a0.9 0.9 0 1 0 1.8 0a0.9 0.9 0 1 0 -1.8 0M186.85 355.31a0.9 0.9 0 1 0 1.8 0a0.9 0.9 0 1 0 -1.8 0M187.3 356.44a0.9 0.9 0 1 0 1.8 0a0.9 0.9 0 1 0 -1.8 0M187.75 358.73a0.9 0.9 0 1 0 1.8 0a0.9 0.9 0 1 0 -1.8 0M188.2 360.67a0.9 0.9 0 1 0 1.8 0a0.9 0.9 0 1 0 -1.8 0M188.65 361.71a0.9 0.9 0 1 0 1.8 0a0.9 0.9 0 1 0 -1.8 0M189.1 363.33a0.9 0.9 0 1 0 1.8 0a0.9 0.9 0 1 0 -1.8 0M189.55 364.91a0.9 0.9 0 1 0 1.8 0a0.9 0.9 0 1 0 -1.8 0M190 366.46a0.9 0.9 0 1 0 1.8 0a0.9 0.9 0 1 0 -1.8 0M190.45 367.53a0.9 0.9 0 1 0 1.8 0a0.9 0.9 0 1 0 -1.8 0M190.9 368.35a0.9 0.9 0 1 0 1.8 0a0.9 0.9 0 1 0 -1.8 0M191.35 369.37a0.9 0.9 0 1 0 1.8 0a0.9 0.9 0 1 0 -1.8 0M191.8 370.29a0.9 0.9 0 1 0 1.8 0a0.9 0.9 0 1 0 -1.8 0M192.25 371.21a0.9 0.9 0 1 0 1.8 0a0.9 0.9 0 1 0 -1.8 0M192.7 371.47a0.9 0.9 0 1 0 1.8 0a0.9 0.9 0 1 0 -1.8 0M193.15 372.37a0.9 0.9 0 1 0 1.8 0a0.9 0.9 0 1 0 -1.8 0M193.6 372.81a0.9 0.9 0 1 0 1.8 0a0.9 0.9 0 1 0 -1.8 0M194.05 373.31a0.9 0.9 0 1 0 1.8 0a0.9 0.9 0 1 0 -1.8 0M194.5 373.07a0.9 0.9 0 1 0 1.8 0a0.9 0.9 0 1 0 -1.8 0M194.95 372.84a0.9 0.9 0 1 0 1.8 0a0.9 0.9 0 1 0 -1.8 0M195.4 372.96a0.9 0.9 0 1 0 1.8 0a0.9 0.9 0 1 0 -1.8 0M195.85 372.77a0.9 0.9 0 1 0 1.8 0a0.9 0.9 0 1 0 -1.8 0M196.3 372.86a0.9 0.9 0 1 0 1.8 0a0.9 0.9 0 1 0 -1.8 0M196.75 372.72a0.9 0.9 0 1 0 1.8 0a0.9 0.9 0 1 0 -1.8 0M197.2 372.92a0.9 0.9 0 1 0 1.8 0a0.9 0.9 0 1 0 -1.8 0M197.65 372.96a0.9 0.9 0 1 0 1.8 0a0.9 0.9 0 1 0 -1.8 0M198.1 371.96a0.9 0.9 0 1 0 1.8 0a0.9 0.9 0 1 0 -1.8 0M198.55 371.97a0.9 0.9 0 1 0 1.8 0a0.9 0.9 0 1 0 -1.8 0M199 371.5a0.9 0.9 0 1 0 1.8 0a0.9 0.9 0 1 0 -1.8 0M199.45 371.24a0.9 0.9 0 1 0 1.8 0a0.9 0.9 0 1 0 -1.8 0M199.9 371.67a0.9 0.9 0 1 0 1.8 0a0.9 0.9 0 1 0 -1.8 0M200.35 370.55a0.9 0.9 0 1 0 1.8 0a0.9 0.9 0 1 0 -1.8 0M200.8 369.37a0.9 0.9 0 1 0 1.8 0a0.9 0.9 0 1 0 -1.8 0M201.25 368.29a0.9 0.9 0 1 0 1.8 0a0.9 0.9 0 1 0 -1.8 0M201.7 366.51a0.9 0.9 0 1 0 1.8 0a0.9 0.9 0 1 0 -1.8 0M202.15 365.17a0.9 0.9 0 1 0 1.8 0a0.9 0.9 0 1 0 -1.8 0M202.6 364.09a0.9 0.9 0 1 0 1.8 0a0.9 0.9 0 1 0 -1.8 0M203.05 362.17a0.9 0.9 0 1 0 1.8 0a0.9 0.9 0 1 0 -1.8 0M203.5 360.6a0.9 0.9 0 1 0 1.8 0a0.9 0.9 0 1 0 -1.8 0M203.95 358.25a0.9 0.9 0 1 0 1.8 0a0.9 0.9 0 1 0 -1.8 0M204.4 356.46a0.9 0.9 0 1 0 1.8 0a0.9 0.9 0 1 0 -1.8 0M204.85 354.55a0.9 0.9 0 1 0 1.8 0a0.9 0.9 0 1 0 -1.8 0M205.3 352.15a0.9 0.9 0 1 0 1.8 0a0.9 0.9 0 1 0 -1.8 0M205.75 350.15a0.9 0.9 0 1 0 1.8 0a0.9 0.9 0 1 0 -1.8 0M206.2 347.64a0.9 0.9 0 1 0 1.8 0a0.9 0.9 0 1 0 -1.8 0M206.65 345.37a0.9 0.9 0 1 0 1.8 0a0.9 0.9 0 1 0 -1.8 0M207.1 342.87a0.9 0.9 0 1 0 1.8 0a0.9 0.9 0 1 0 -1.8 0M207.55 341.3a0.9 0.9 0 1 0 1.8 0a0.9 0.9 0 1 0 -1.8 0M208 339.27a0.9 0.9 0 1 0 1.8 0a0.9 0.9 0 1 0 -1.8 0M208.45 337.58a0.9 0.9 0 1 0 1.8 0a0.9 0.9 0 1 0 -1.8 0M208.9 335.64a0.9 0.9 0 1 0 1.8 0a0.9 0.9 0 1 0 -1.8 0M209.35 332.54a0.9 0.9 0 1 0 1.8 0a0.9 0.9 0 1 0 -1.8 0M209.8 329.36a0.9 0.9 0 1 0 1.8 0a0.9 0.9 0 1 0 -1.8 0M210.25 326.01a0.9 0.9 0 1 0 1.8 0a0.9 0.9 0 1 0 -1.8 0M210.7 323.17a0.9 0.9 0 1 0 1.8 0a0.9 0.9 0 1 0 -1.8 0M211.15 319.9a0.9 0.9 0 1 0 1.8 0a0.9 0.9 0 1 0 -1.8 0M211.6 316.79a0.9 0.9 0 1 0 1.8 0a0.9 0.9 0 1 0 -1.8 0M212.05 314.11a0.9 0.9 0 1 0 1.8 0a0.9 0.9 0 1 0 -1.8 0M212.5 311.42a0.9 0.9 0 1 0 1.8 0a0.9 0.9 0 1 0 -1.8 0M212.95 309.48a0.9 0.9 0 1 0 1.8 0a0.9 0.9 0 1 0 -1.8 0M213.4 308.49a0.9 0.9 0 1 0 1.8 0a0.9 0.9 0 1 0 -1.8 0M213.85 307.1a0.9 0.9 0 1 0 1.8 0a0.9 0.9 0 1 0 -1.8 0M214.3 306.02a0.9 0.9 0 1 0 1.8 0a0.9 0.9 0 1 0 -1.8 0M214.75 305.37a0.9 0.9 0 1 0 1.8 0a0.9 0.9 0 1 0 -1.8 0M215.2 305.97a0.9 0.9 0 1 0 1.8 0a0.9 0.9 0 1 0 -1.8 0M215.65 305.99a0.9 0.9 0 1 0 1.8 0a0.9 0.9 0 1 0 -1.8 0M216.1 306.33a0.9 0.9 0 1 0 1.8 0a0.9 0.9 0 1 0 -1.8 0M216.55 306.95a0.9 0.9 0 1 0 1.8 0a0.9 0.9 0 1 0 -1.8 0M217 306.74a0.9 0.9 0 1 0 1.8 0a0.9 0.9 0 1 0 -1.8 0M217.45 307.15a0.9 0.9 0 1 0 1.8 0a0.9 0.9 0 1 0 -1.8 0M217.9 307.69a0.9 0.9 0 1 0 1.8 0a0.9 0.9 0 1 0 -1.8 0M218.35 307.6a0.9 0.9 0 1 0 1.8 0a0.9 0.9 0 1 0 -1.8 0M218.8 308.8a0.9 0.9 0 1 0 1.8 0a0.9 0.9 0 1 0 -1.8 0M219.25 310.12a0.9 0.9 0 1 0 1.8 0a0.9 0.9 0 1 0 -1.8 0M219.7 310.65a0.9 0.9 0 1 0 1.8 0a0.9 0.9 0 1 0 -1.8 0M220.15 311.75a0.9 0.9 0 1 0 1.8 0a0.9 0.9 0 1 0 -1.8 0M220.6 312.08a0.9 0.9 0 1 0 1.8 0a0.9 0.9 0 1 0 -1.8 0M221.05 312.88a0.9 0.9 0 1 0 1.8 0a0.9 0.9 0 1 0 -1.8 0M221.5 313.03a0.9 0.9 0 1 0 1.8 0a0.9 0.9 0 1 0 -1.8 0M221.95 313.46a0.9 0.9 0 1 0 1.8 0a0.9 0.9 0 1 0 -1.8 0M222.4 313.76a0.9 0.9 0 1 0 1.8 0a0.9 0.9 0 1 0 -1.8 0M222.85 314.4a0.9 0.9 0 1 0 1.8 0a0.9 0.9 0 1 0 -1.8 0M223.3 315.08a0.9 0.9 0 1 0 1.8 0a0.9 0.9 0 1 0 -1.8 0M223.75 315.5a0.9 0.9 0 1 0 1.8 0a0.9 0.9 0 1 0 -1.8 0M224.2 315.52a0.9 0.9 0 1 0 1.8 0a0.9 0.9 0 1 0 -1.8 0M224.65 316.35a0.9 0.9 0 1 0 1.8 0a0.9 0.9 0 1 0 -1.8 0M225.1 316.79a0.9 0.9 0 1 0 1.8 0a0.9 0.9 0 1 0 -1.8 0M225.55 316.7a0.9 0.9 0 1 0 1.8 0a0.9 0.9 0 1 0 -1.8 0M226 316.7a0.9 0.9 0 1 0 1.8 0a0.9 0.9 0 1 0 -1.8 0M226.45 316.97a0.9 0.9 0 1 0 1.8 0a0.9 0.9 0 1 0 -1.8 0M226.9 317.42a0.9 0.9 0 1 0 1.8 0a0.9 0.9 0 1 0 -1.8 0M227.35 317.34a0.9 0.9 0 1 0 1.8 0a0.9 0.9 0 1 0 -1.8 0M227.8 317.92a0.9 0.9 0 1 0 1.8 0a0.9 0.9 0 1 0 -1.8 0M228.25 317.92a0.9 0.9 0 1 0 1.8 0a0.9 0.9 0 1 0 -1.8 0M228.7 318.72a0.9 0.9 0 1 0 1.8 0a0.9 0.9 0 1 0 -1.8 0M229.15 318.62a0.9 0.9 0 1 0 1.8 0a0.9 0.9 0 1 0 -1.8 0M229.6 319.3a0.9 0.9 0 1 0 1.8 0a0.9 0.9 0 1 0 -1.8 0M230.05 318.85a0.9 0.9 0 1 0 1.8 0a0.9 0.9 0 1 0 -1.8 0M230.5 319.71a0.9 0.9 0 1 0 1.8 0a0.9 0.9 0 1 0 -1.8 0M230.95 319.91a0.9 0.9 0 1 0 1.8 0a0.9 0.9 0 1 0 -1.8 0M231.4 320.28a0.9 0.9 0 1 0 1.8 0a0.9 0.9 0 1 0 -1.8 0M231.85 320.86a0.9 0.9 0 1 0 1.8 0a0.9 0.9 0 1 0 -1.8 0M232.3 321.24a0.9 0.9 0 1 0 1.8 0a0.9 0.9 0 1 0 -1.8 0M232.75 321.49a0.9 0.9 0 1 0 1.8 0a0.9 0.9 0 1 0 -1.8 0M233.2 322.61a0.9 0.9 0 1 0 1.8 0a0.9 0.9 0 1 0 -1.8 0M233.65 322.89a0.9 0.9 0 1 0 1.8 0a0.9 0.9 0 1 0 -1.8 0M234.1 323.42a0.9 0.9 0 1 0 1.8 0a0.9 0.9 0 1 0 -1.8 0M234.55 324.14a0.9 0.9 0 1 0 1.8 0a0.9 0.9 0 1 0 -1.8 0M235 324.47a0.9 0.9 0 1 0 1.8 0a0.9 0.9 0 1 0 -1.8 0M235.45 325.07a0.9 0.9 0 1 0 1.8 0a0.9 0.9 0 1 0 -1.8 0M235.9 325.54a0.9 0.9 0 1 0 1.8 0a0.9 0.9 0 1 0 -1.8 0M236.35 325.68a0.9 0.9 0 1 0 1.8 0a0.9 0.9 0 1 0 -1.8 0M236.8 326.37a0.9 0.9 0 1 0 1.8 0a0.9 0.9 0 1 0 -1.8 0M237.25 326.83a0.9 0.9 0 1 0 1.8 0a0.9 0.9 0 1 0 -1.8 0M237.7 326.74a0.9 0.9 0 1 0 1.8 0a0.9 0.9 0 1 0 -1.8 0M238.15 327.18a0.9 0.9 0 1 0 1.8 0a0.9 0.9 0 1 0 -1.8 0M238.6 327.64a0.9 0.9 0 1 0 1.8 0a0.9 0.9 0 1 0 -1.8 0M239.05 327.78a0.9 0.9 0 1 0 1.8 0a0.9 0.9 0 1 0 -1.8 0M239.5 328.21a0.9 0.9 0 1 0 1.8 0a0.9 0.9 0 1 0 -1.8 0M239.95 328.53a0.9 0.9 0 1 0 1.8 0a0.9 0.9 0 1 0 -1.8 0M240.4 328.51a0.9 0.9 0 1 0 1.8 0a0.9 0.9 0 1 0 -1.8 0M240.85 329.31a0.9 0.9 0 1 0 1.8 0a0.9 0.9 0 1 0 -1.8 0M241.3 329.44a0.9 0.9 0 1 0 1.8 0a0.9 0.9 0 1 0 -1.8 0M241.75 330.36a0.9 0.9 0 1 0 1.8 0a0.9 0.9 0 1 0 -1.8 0M242.2 330.81a0.9 0.9 0 1 0 1.8 0a0.9 0.9 0 1 0 -1.8 0M242.65 331.16a0.9 0.9 0 1 0 1.8 0a0.9 0.9 0 1 0 -1.8 0M243.1 331.58a0.9 0.9 0 1 0 1.8 0a0.9 0.9 0 1 0 -1.8 0M243.55 332.69a0.9 0.9 0 1 0 1.8 0a0.9 0.9 0 1 0 -1.8 0M244 333.45a0.9 0.9 0 1 0 1.8 0a0.9 0.9 0 1 0 -1.8 0M244.45 333.06a0.9 0.9 0 1 0 1.8 0a0.9 0.9 0 1 0 -1.8 0M244.9 333.84a0.9 0.9 0 1 0 1.8 0a0.9 0.9 0 1 0 -1.8 0M245.35 334.03a0.9 0.9 0 1 0 1.8 0a0.9 0.9 0 1 0 -1.8 0M245.8 334.99a0.9 0.9 0 1 0 1.8 0a0.9 0.9 0 1 0 -1.8 0M246.25 335.09a0.9 0.9 0 1 0 1.8 0a0.9 0.9 0 1 0 -1.8 0M246.7 334.95a0.9 0.9 0 1 0 1.8 0a0.9 0.9 0 1 0 -1.8 0M247.15 335.38a0.9 0.9 0 1 0 1.8 0a0.9 0.9 0 1 0 -1.8 0M247.6 336.13a0.9 0.9 0 1 0 1.8 0a0.9 0.9 0 1 0 -1.8 0M248.05 336.49a0.9 0.9 0 1 0 1.8 0a0.9 0.9 0 1 0 -1.8 0M248.5 336.78a0.9 0.9 0 1 0 1.8 0a0.9 0.9 0 1 0 -1.8 0M248.95 336.86a0.9 0.9 0 1 0 1.8 0a0.9 0.9 0 1 0 -1.8 0M249.4 337.74a0.9 0.9 0 1 0 1.8 0a0.9 0.9 0 1 0 -1.8 0M249.85 338.38a0.9 0.9 0 1 0 1.8 0a0.9 0.9 0 1 0 -1.8 0M250.3 339.33a0.9 0.9 0 1 0 1.8 0a0.9 0.9 0 1 0 -1.8 0M250.75 339.94a0.9 0.9 0 1 0 1.8 0a0.9 0.9 0 1 0 -1.8 0M251.2 340.71a0.9 0.9 0 1 0 1.8 0a0.9 0.9 0 1 0 -1.8 0M251.65 341.41a0.9 0.9 0 1 0 1.8 0a0.9 0.9 0 1 0 -1.8 0M252.1 341.78a0.9 0.9 0 1 0 1.8 0a0.9 0.9 0 1 0 -1.8 0M252.55 342.59a0.9 0.9 0 1 0 1.8 0a0.9 0.9 0 1 0 -1.8 0M253 343.09a0.9 0.9 0 1 0 1.8 0a0.9 0.9 0 1 0 -1.8 0M253.45 343.83a0.9 0.9 0 1 0 1.8 0a0.9 0.9 0 1 0 -1.8 0M253.9 344.71a0.9 0.9 0 1 0 1.8 0a0.9 0.9 0 1 0 -1.8 0M254.35 345.41a0.9 0.9 0 1 0 1.8 0a0.9 0.9 0 1 0 -1.8 0M254.8 346.77a0.9 0.9 0 1 0 1.8 0a0.9 0.9 0 1 0 -1.8 0M255.25 347.38a0.9 0.9 0 1 0 1.8 0a0.9 0.9 0 1 0 -1.8 0M255.7 347.91a0.9 0.9 0 1 0 1.8 0a0.9 0.9 0 1 0 -1.8 0M256.15 348.69a0.9 0.9 0 1 0 1.8 0a0.9 0.9 0 1 0 -1.8 0M256.6 349.1a0.9 0.9 0 1 0 1.8 0a0.9 0.9 0 1 0 -1.8 0M257.05 350.36a0.9 0.9 0 1 0 1.8 0a0.9 0.9 0 1 0 -1.8 0M257.5 351.18a0.9 0.9 0 1 0 1.8 0a0.9 0.9 0 1 0 -1.8 0M257.95 352.63a0.9 0.9 0 1 0 1.8 0a0.9 0.9 0 1 0 -1.8 0M258.4 354.35a0.9 0.9 0 1 0 1.8 0a0.9 0.9 0 1 0 -1.8 0M258.85 356.04a0.9 0.9 0 1 0 1.8 0a0.9 0.9 0 1 0 -1.8 0M259.3 357.98a0.9 0.9 0 1 0 1.8 0a0.9 0.9 0 1 0 -1.8 0M259.75 360.46a0.9 0.9 0 1 0 1.8 0a0.9 0.9 0 1 0 -1.8 0M260.2 362.8a0.9 0.9 0 1 0 1.8 0a0.9 0.9 0 1 0 -1.8 0M260.65 366.51a0.9 0.9 0 1 0 1.8 0a0.9 0.9 0 1 0 -1.8 0M261.1 369.62a0.9 0.9 0 1 0 1.8 0a0.9 0.9 0 1 0 -1.8 0M261.55 373.28a0.9 0.9 0 1 0 1.8 0a0.9 0.9 0 1 0 -1.8 0M262 376.54a0.9 0.9 0 1 0 1.8 0a0.9 0.9 0 1 0 -1.8 0M262.45 380.43a0.9 0.9 0 1 0 1.8 0a0.9 0.9 0 1 0 -1.8 0M262.9 384.3a0.9 0.9 0 1 0 1.8 0a0.9 0.9 0 1 0 -1.8 0M263.35 388.38a0.9 0.9 0 1 0 1.8 0a0.9 0.9 0 1 0 -1.8 0M263.8 392.03a0.9 0.9 0 1 0 1.8 0a0.9 0.9 0 1 0 -1.8 0M264.25 396.45a0.9 0.9 0 1 0 1.8 0a0.9 0.9 0 1 0 -1.8 0M264.7 399.94a0.9 0.9 0 1 0 1.8 0a0.9 0.9 0 1 0 -1.8 0M265.15 405.48a0.9 0.9 0 1 0 1.8 0a0.9 0.9 0 1 0 -1.8 0M265.6 409.92a0.9 0.9 0 1 0 1.8 0a0.9 0.9 0 1 0 -1.8 0M266.05 414.69a0.9 0.9 0 1 0 1.8 0a0.9 0.9 0 1 0 -1.8 0M266.5 419.37a0.9 0.9 0 1 0 1.8 0a0.9 0.9 0 1 0 -1.8 0M266.95 424.73a0.9 0.9 0 1 0 1.8 0a0.9 0.9 0 1 0 -1.8 0M267.4 429.88a0.9 0.9 0 1 0 1.8 0a0.9 0.9 0 1 0 -1.8 0M267.85 435.11a0.9 0.9 0 1 0 1.8 0a0.9 0.9 0 1 0 -1.8 0M268.3 439.82a0.9 0.9 0 1 0 1.8 0a0.9 0.9 0 1 0 -1.8 0M268.75 444.77a0.9 0.9 0 1 0 1.8 0a0.9 0.9 0 1 0 -1.8 0M269.2 449.93a0.9 0.9 0 1 0 1.8 0a0.9 0.9 0 1 0 -1.8 0M269.65 454.87a0.9 0.9 0 1 0 1.8 0a0.9 0.9 0 1 0 -1.8 0M270.1 459.37a0.9 0.9 0 1 0 1.8 0a0.9 0.9 0 1 0 -1.8 0M270.55 463.99a0.9 0.9 0 1 0 1.8 0a0.9 0.9 0 1 0 -1.8 0M271 468.36a0.9 0.9 0 1 0 1.8 0a0.9 0.9 0 1 0 -1.8 0M271.45 473.32a0.9 0.9 0 1 0 1.8 0a0.9 0.9 0 1 0 -1.8 0M271.9 477.31a0.9 0.9 0 1 0 1.8 0a0.9 0.9 0 1 0 -1.8 0M272.35 480.61a0.9 0.9 0 1 0 1.8 0a0.9 0.9 0 1 0 -1.8 0M272.8 483.56a0.9 0.9 0 1 0 1.8 0a0.9 0.9 0 1 0 -1.8 0M273.25 486.02a0.9 0.9 0 1 0 1.8 0a0.9 0.9 0 1 0 -1.8 0M273.7 489.17a0.9 0.9 0 1 0 1.8 0a0.9 0.9 0 1 0 -1.8 0M274.15 492.05a0.9 0.9 0 1 0 1.8 0a0.9 0.9 0 1 0 -1.8 0M274.6 492.86a0.9 0.9 0 1 0 1.8 0a0.9 0.9 0 1 0 -1.8 0M275.05 494.83a0.9 0.9 0 1 0 1.8 0a0.9 0.9 0 1 0 -1.8 0M275.5 495.49a0.9 0.9 0 1 0 1.8 0a0.9 0.9 0 1 0 -1.8 0M275.95 496.96a0.9 0.9 0 1 0 1.8 0a0.9 0.9 0 1 0 -1.8 0M276.4 498.25a0.9 0.9 0 1 0 1.8 0a0.9 0.9 0 1 0 -1.8 0M276.85 499.63a0.9 0.9 0 1 0 1.8 0a0.9 0.9 0 1 0 -1.8 0M277.3 500.82a0.9 0.9 0 1 0 1.8 0a0.9 0.9 0 1 0 -1.8 0M277.75 501.23a0.9 0.9 0 1 0 1.8 0a0.9 0.9 0 1 0 -1.8 0M278.2 500.91a0.9 0.9 0 1 0 1.8 0a0.9 0.9 0 1 0 -1.8 0M278.65 501.37a0.9 0.9 0 1 0 1.8 0a0.9 0.9 0 1 0 -1.8 0M279.1 501.66a0.9 0.9 0 1 0 1.8 0a0.9 0.9 0 1 0 -1.8 0M279.55 502.43a0.9 0.9 0 1 0 1.8 0a0.9 0.9 0 1 0 -1.8 0M280 502.77a0.9 0.9 0 1 0 1.8 0a0.9 0.9 0 1 0 -1.8 0M280.45 503.13a0.9 0.9 0 1 0 1.8 0a0.9 0.9 0 1 0 -1.8 0M280.9 504.16a0.9 0.9 0 1 0 1.8 0a0.9 0.9 0 1 0 -1.8 0M281.35 504.62a0.9 0.9 0 1 0 1.8 0a0.9 0.9 0 1 0 -1.8 0M281.8 504.88a0.9 0.9 0 1 0 1.8 0a0.9 0.9 0 1 0 -1.8 0M282.25 505.55a0.9 0.9 0 1 0 1.8 0a0.9 0.9 0 1 0 -1.8 0M282.7 505.98a0.9 0.9 0 1 0 1.8 0a0.9 0.9 0 1 0 -1.8 0M283.15 506.04a0.9 0.9 0 1 0 1.8 0a0.9 0.9 0 1 0 -1.8 0M283.6 507.11a0.9 0.9 0 1 0 1.8 0a0.9 0.9 0 1 0 -1.8 0M284.05 506.45a0.9 0.9 0 1 0 1.8 0a0.9 0.9 0 1 0 -1.8 0M284.5 506.88a0.9 0.9 0 1 0 1.8 0a0.9 0.9 0 1 0 -1.8 0M284.95 507.46a0.9 0.9 0 1 0 1.8 0a0.9 0.9 0 1 0 -1.8 0M285.4 507.24a0.9 0.9 0 1 0 1.8 0a0.9 0.9 0 1 0 -1.8 0M285.85 507.35a0.9 0.9 0 1 0 1.8 0a0.9 0.9 0 1 0 -1.8 0M286.3 507.37a0.9 0.9 0 1 0 1.8 0a0.9 0.9 0 1 0 -1.8 0M286.75 506.84a0.9 0.9 0 1 0 1.8 0a0.9 0.9 0 1 0 -1.8 0M287.2 507.13a0.9 0.9 0 1 0 1.8 0a0.9 0.9 0 1 0 -1.8 0M287.65 507.01a0.9 0.9 0 1 0 1.8 0a0.9 0.9 0 1 0 -1.8 0M288.1 507.37a0.9 0.9 0 1 0 1.8 0a0.9 0.9 0 1 0 -1.8 0M288.55 506.93a0.9 0.9 0 1 0 1.8 0a0.9 0.9 0 1 0 -1.8 0M289 507.05a0.9 0.9 0 1 0 1.8 0a0.9 0.9 0 1 0 -1.8 0M289.45 507.46a0.9 0.9 0 1 0 1.8 0a0.9 0.9 0 1 0 -1.8 0M289.9 507.72a0.9 0.9 0 1 0 1.8 0a0.9 0.9 0 1 0 -1.8 0M290.35 508.25a0.9 0.9 0 1 0 1.8 0a0.9 0.9 0 1 0 -1.8 0M290.8 508.15a0.9 0.9 0 1 0 1.8 0a0.9 0.9 0 1 0 -1.8 0M291.25 508.06a0.9 0.9 0 1 0 1.8 0a0.9 0.9 0 1 0 -1.8 0M291.7 508.13a0.9 0.9 0 1 0 1.8 0a0.9 0.9 0 1 0 -1.8 0M292.15 508.18a0.9 0.9 0 1 0 1.8 0a0.9 0.9 0 1 0 -1.8 0M292.6 508.16a0.9 0.9 0 1 0 1.8 0a0.9 0.9 0 1 0 -1.8 0M293.05 507.93a0.9 0.9 0 1 0 1.8 0a0.9 0.9 0 1 0 -1.8 0M293.5 508.07a0.9 0.9 0 1 0 1.8 0a0.9 0.9 0 1 0 -1.8 0M293.95 508.27a0.9 0.9 0 1 0 1.8 0a0.9 0.9 0 1 0 -1.8 0M294.4 508.29a0.9 0.9 0 1 0 1.8 0a0.9 0.9 0 1 0 -1.8 0M294.85 508.94a0.9 0.9 0 1 0 1.8 0a0.9 0.9 0 1 0 -1.8 0M295.3 509.27a0.9 0.9 0 1 0 1.8 0a0.9 0.9 0 1 0 -1.8 0M295.75 509.44a0.9 0.9 0 1 0 1.8 0a0.9 0.9 0 1 0 -1.8 0M296.2 509.23a0.9 0.9 0 1 0 1.8 0a0.9 0.9 0 1 0 -1.8 0M296.65 509.75a0.9 0.9 0 1 0 1.8 0a0.9 0.9 0 1 0 -1.8 0M297.1 509.64a0.9 0.9 0 1 0 1.8 0a0.9 0.9 0 1 0 -1.8 0M297.55 509.73a0.9 0.9 0 1 0 1.8 0a0.9 0.9 0 1 0 -1.8 0M298 509.64a0.9 0.9 0 1 0 1.8 0a0.9 0.9 0 1 0 -1.8 0M298.45 509.55a0.9 0.9 0 1 0 1.8 0a0.9 0.9 0 1 0 -1.8 0M298.9 509.85a0.9 0.9 0 1 0 1.8 0a0.9 0.9 0 1 0 -1.8 0M299.35 510.41a0.9 0.9 0 1 0 1.8 0a0.9 0.9 0 1 0 -1.8 0M299.8 509.84a0.9 0.9 0 1 0 1.8 0a0.9 0.9 0 1 0 -1.8 0M300.25 510.25a0.9 0.9 0 1 0 1.8 0a0.9 0.9 0 1 0 -1.8 0M300.7 510.15a0.9 0.9 0 1 0 1.8 0a0.9 0.9 0 1 0 -1.8 0M301.15 510.59a0.9 0.9 0 1 0 1.8 0a0.9 0.9 0 1 0 -1.8 0M301.6 510.16a0.9 0.9 0 1 0 1.8 0a0.9 0.9 0 1 0 -1.8 0M302.05 509.87a0.9 0.9 0 1 0 1.8 0a0.9 0.9 0 1 0 -1.8 0M302.5 509.73a0.9 0.9 0 1 0 1.8 0a0.9 0.9 0 1 0 -1.8 0M302.95 510a0.9 0.9 0 1 0 1.8 0a0.9 0.9 0 1 0 -1.8 0M303.4 510.05a0.9 0.9 0 1 0 1.8 0a0.9 0.9 0 1 0 -1.8 0M303.85 510.5a0.9 0.9 0 1 0 1.8 0a0.9 0.9 0 1 0 -1.8 0M304.3 509.92a0.9 0.9 0 1 0 1.8 0a0.9 0.9 0 1 0 -1.8 0M304.75 510.09a0.9 0.9 0 1 0 1.8 0a0.9 0.9 0 1 0 -1.8 0M305.2 510.61a0.9 0.9 0 1 0 1.8 0a0.9 0.9 0 1 0 -1.8 0M305.65 510.74a0.9 0.9 0 1 0 1.8 0a0.9 0.9 0 1 0 -1.8 0M306.1 510.91a0.9 0.9 0 1 0 1.8 0a0.9 0.9 0 1 0 -1.8 0M306.55 510.8a0.9 0.9 0 1 0 1.8 0a0.9 0.9 0 1 0 -1.8 0M307 510.81a0.9 0.9 0 1 0 1.8 0a0.9 0.9 0 1 0 -1.8 0M307.45 510.64a0.9 0.9 0 1 0 1.8 0a0.9 0.9 0 1 0 -1.8 0M307.9 511.4a0.9 0.9 0 1 0 1.8 0a0.9 0.9 0 1 0 -1.8 0M308.35 511.2a0.9 0.9 0 1 0 1.8 0a0.9 0.9 0 1 0 -1.8 0M308.8 511.47a0.9 0.9 0 1 0 1.8 0a0.9 0.9 0 1 0 -1.8 0M309.25 511.75a0.9 0.9 0 1 0 1.8 0a0.9 0.9 0 1 0 -1.8 0M309.7 511.85a0.9 0.9 0 1 0 1.8 0a0.9 0.9 0 1 0 -1.8 0M310.15 511.79a0.9 0.9 0 1 0 1.8 0a0.9 0.9 0 1 0 -1.8 0M310.6 511.85a0.9 0.9 0 1 0 1.8 0a0.9 0.9 0 1 0 -1.8 0M311.05 511.72a0.9 0.9 0 1 0 1.8 0a0.9 0.9 0 1 0 -1.8 0M311.5 512.28a0.9 0.9 0 1 0 1.8 0a0.9 0.9 0 1 0 -1.8 0" fill="#111"/>
<path d="M46 514.2v-4M46 298.4v4M99.32 514.2v-4M99.32 298.4v4M152.64 514.2v-4M152.64 298.4v4M205.96 514.2v-4M205.96 298.4v4M259.28 514.2v-4M259.28 298.4v4M312.6 514.2v-4M312.6 298.4v4M72.66 514.2v-2.4M72.66 298.4v2.4M125.98 514.2v-2.4M125.98 298.4v2.4M179.3 514.2v-2.4M179.3 298.4v2.4M232.62 514.2v-2.4M232.62 298.4v2.4M285.94 514.2v-2.4M285.94 298.4v2.4M46 514.2h4M312.6 514.2h-4M46 442.27h4M312.6 442.27h-4M46 370.33h4M312.6 370.33h-4M46 298.4h4M312.6 298.4h-4M46 478.23h2.4M312.6 478.23h-2.4M46 406.3h2.4M312.6 406.3h-2.4M46 334.37h2.4M312.6 334.37h-2.4" stroke="#262626" stroke-width="1.1" fill="none"/>
<rect x="46" y="298.4" width="266.6" height="215.8" fill="none" stroke="#262626" stroke-width="1.25"/>
<rect x="46.6" y="462.8" width="1.2" height="1.8" fill="#bbb"/>
<text x="46" y="531.6" text-anchor="middle" font-size="16.5">0</text>
<text x="99.32" y="531.6" text-anchor="middle" font-size="16.5">1</text>
<text x="152.64" y="531.6" text-anchor="middle" font-size="16.5">2</text>
<text x="205.96" y="531.6" text-anchor="middle" font-size="16.5">3</text>
<text x="259.28" y="531.6" text-anchor="middle" font-size="16.5">4</text>
<text x="312.6" y="531.6" text-anchor="middle" font-size="16.5">5</text>
<text x="40.9" y="519.5" text-anchor="end" font-size="16.5">0</text>
<text x="40.9" y="447.57" text-anchor="end" font-size="16.5">5</text>
<text x="40.9" y="375.63" text-anchor="end" font-size="16.5">10</text>
<text x="40.9" y="303.7" text-anchor="end" font-size="16.5">15</text>
<circle cx="75.9" cy="331.2" r="2.7" fill="url(#gr)"/>
<text x="88.3" y="335.4" font-size="16" font-style="italic">μ<tspan font-size="12" dy="5.5">0</tspan><tspan dy="-5.5">H</tspan></text>
<path d="M129.9 336.9L129.9 324.7" stroke="#ee1111" stroke-width="1.6"/>
<path d="M129.9 317.7L133.5 325.7L126.3 325.7Z" fill="#ee1111"/>
<circle cx="75.9" cy="363.1" r="2.7" fill="url(#gk)"/>
<text x="88.3" y="367.2" font-size="16" font-style="italic">μ<tspan font-size="12" dy="5.5">0</tspan><tspan dy="-5.5">H</tspan></text>
<path d="M129.9 350.1L129.9 363.2" stroke="#000" stroke-width="1.6"/>
<path d="M129.9 370.2L126.3 362.2L133.5 362.2Z" fill="#000"/>
<text x="99.9" y="545.5" font-size="20.2">Magnetic field (T)</text>
<text transform="translate(20.4,493) rotate(-90)" font-size="20"><tspan font-family="Liberation Serif, serif">χ</tspan><tspan font-size="14" dy="4">ac</tspan><tspan dy="-4"> ×10</tspan><tspan font-size="14" dy="-8">-6</tspan><tspan dy="8"> (emu Oe</tspan><tspan font-size="14" dy="-8">-1</tspan><tspan dy="8">)</tspan></text>
<path d="M1.8 481.2H4.8" stroke="#000" stroke-width="1.3"/>
<rect x="510.8" y="29.6" width="43.4" height="215.8" fill="#fdf6f6"/>
<rect x="554.2" y="29.6" width="19.4" height="215.8" fill="#fefdf6"/>
<path d="M510.8 29.6V245.4" stroke="#7a7a7a" stroke-width="1"/>
<path d="M554.2 29.6V245.4" stroke="#7a7a7a" stroke-width="1"/>
<path d="M573.6 29.6V245.4" stroke="#7a7a7a" stroke-width="1"/>
<path d="M633.6 29.6V245.4" stroke="#7a7a7a" stroke-width="1"/>
<path d="M401.4 244.52a1.4 1.4 0 1 0 2.8 0a1.4 1.4 0 1 0 -2.8 0M404.06 242.39a1.4 1.4 0 1 0 2.8 0a1.4 1.4 0 1 0 -2.8 0M406.72 238.98a1.4 1.4 0 1 0 2.8 0a1.4 1.4 0 1 0 -2.8 0M409.38 239.31a1.4 1.4 0 1 0 2.8 0a1.4 1.4 0 1 0 -2.8 0M412.04 240.78a1.4 1.4 0 1 0 2.8 0a1.4 1.4 0 1 0 -2.8 0M414.7 237.55a1.4 1.4 0 1 0 2.8 0a1.4 1.4 0 1 0 -2.8 0M417.36 234.68a1.4 1.4 0 1 0 2.8 0a1.4 1.4 0 1 0 -2.8 0M420.02 234.67a1.4 1.4 0 1 0 2.8 0a1.4 1.4 0 1 0 -2.8 0M422.68 232.15a1.4 1.4 0 1 0 2.8 0a1.4 1.4 0 1 0 -2.8 0M425.34 228.87a1.4 1.4 0 1 0 2.8 0a1.4 1.4 0 1 0 -2.8 0M428 228.42a1.4 1.4 0 1 0 2.8 0a1.4 1.4 0 1 0 -2.8 0M430.66 225.99a1.4 1.4 0 1 0 2.8 0a1.4 1.4 0 1 0 -2.8 0M433.32 224.73a1.4 1.4 0 1 0 2.8 0a1.4 1.4 0 1 0 -2.8 0M435.98 222.6a1.4 1.4 0 1 0 2.8 0a1.4 1.4 0 1 0 -2.8 0M438.64 220.66a1.4 1.4 0 1 0 2.8 0a1.4 1.4 0 1 0 -2.8 0M441.3 220.05a1.4 1.4 0 1 0 2.8 0a1.4 1.4 0 1 0 -2.8 0M443.96 217.21a1.4 1.4 0 1 0 2.8 0a1.4 1.4 0 1 0 -2.8 0M446.62 216.29a1.4 1.4 0 1 0 2.8 0a1.4 1.4 0 1 0 -2.8 0M449.28 216.99a1.4 1.4 0 1 0 2.8 0a1.4 1.4 0 1 0 -2.8 0M451.94 213.98a1.4 1.4 0 1 0 2.8 0a1.4 1.4 0 1 0 -2.8 0M454.6 212.24a1.4 1.4 0 1 0 2.8 0a1.4 1.4 0 1 0 -2.8 0M457.26 209.69a1.4 1.4 0 1 0 2.8 0a1.4 1.4 0 1 0 -2.8 0M459.92 209.92a1.4 1.4 0 1 0 2.8 0a1.4 1.4 0 1 0 -2.8 0M462.58 208.53a1.4 1.4 0 1 0 2.8 0a1.4 1.4 0 1 0 -2.8 0M465.24 204.45a1.4 1.4 0 1 0 2.8 0a1.4 1.4 0 1 0 -2.8 0M467.9 203.3a1.4 1.4 0 1 0 2.8 0a1.4 1.4 0 1 0 -2.8 0M470.56 204.8a1.4 1.4 0 1 0 2.8 0a1.4 1.4 0 1 0 -2.8 0M473.22 202.74a1.4 1.4 0 1 0 2.8 0a1.4 1.4 0 1 0 -2.8 0M475.88 201.39a1.4 1.4 0 1 0 2.8 0a1.4 1.4 0 1 0 -2.8 0M478.54 200.59a1.4 1.4 0 1 0 2.8 0a1.4 1.4 0 1 0 -2.8 0M481.2 197.75a1.4 1.4 0 1 0 2.8 0a1.4 1.4 0 1 0 -2.8 0M483.86 197.07a1.4 1.4 0 1 0 2.8 0a1.4 1.4 0 1 0 -2.8 0M486.52 197.05a1.4 1.4 0 1 0 2.8 0a1.4 1.4 0 1 0 -2.8 0M489.18 193.14a1.4 1.4 0 1 0 2.8 0a1.4 1.4 0 1 0 -2.8 0M491.84 190.13a1.4 1.4 0 1 0 2.8 0a1.4 1.4 0 1 0 -2.8 0M494.5 188.81a1.4 1.4 0 1 0 2.8 0a1.4 1.4 0 1 0 -2.8 0M497.16 187.72a1.4 1.4 0 1 0 2.8 0a1.4 1.4 0 1 0 -2.8 0M499.82 186.49a1.4 1.4 0 1 0 2.8 0a1.4 1.4 0 1 0 -2.8 0M502.48 185.33a1.4 1.4 0 1 0 2.8 0a1.4 1.4 0 1 0 -2.8 0M505.14 183.48a1.4 1.4 0 1 0 2.8 0a1.4 1.4 0 1 0 -2.8 0M507.8 182.33a1.4 1.4 0 1 0 2.8 0a1.4 1.4 0 1 0 -2.8 0M510.46 181.23a1.4 1.4 0 1 0 2.8 0a1.4 1.4 0 1 0 -2.8 0M513.12 182.32a1.4 1.4 0 1 0 2.8 0a1.4 1.4 0 1 0 -2.8 0M515.78 183.73a1.4 1.4 0 1 0 2.8 0a1.4 1.4 0 1 0 -2.8 0M518.44 184.07a1.4 1.4 0 1 0 2.8 0a1.4 1.4 0 1 0 -2.8 0M521.1 184.46a1.4 1.4 0 1 0 2.8 0a1.4 1.4 0 1 0 -2.8 0M523.76 183.79a1.4 1.4 0 1 0 2.8 0a1.4 1.4 0 1 0 -2.8 0M526.42 182.22a1.4 1.4 0 1 0 2.8 0a1.4 1.4 0 1 0 -2.8 0M529.08 182.86a1.4 1.4 0 1 0 2.8 0a1.4 1.4 0 1 0 -2.8 0M531.74 182.65a1.4 1.4 0 1 0 2.8 0a1.4 1.4 0 1 0 -2.8 0M534.4 181.6a1.4 1.4 0 1 0 2.8 0a1.4 1.4 0 1 0 -2.8 0M537.06 179.09a1.4 1.4 0 1 0 2.8 0a1.4 1.4 0 1 0 -2.8 0M539.72 177.09a1.4 1.4 0 1 0 2.8 0a1.4 1.4 0 1 0 -2.8 0M542.38 176.14a1.4 1.4 0 1 0 2.8 0a1.4 1.4 0 1 0 -2.8 0M545.04 176.88a1.4 1.4 0 1 0 2.8 0a1.4 1.4 0 1 0 -2.8 0M547.7 176.95a1.4 1.4 0 1 0 2.8 0a1.4 1.4 0 1 0 -2.8 0M550.36 176.13a1.4 1.4 0 1 0 2.8 0a1.4 1.4 0 1 0 -2.8 0M553.02 176.58a1.4 1.4 0 1 0 2.8 0a1.4 1.4 0 1 0 -2.8 0M555.68 176.8a1.4 1.4 0 1 0 2.8 0a1.4 1.4 0 1 0 -2.8 0M558.34 175.39a1.4 1.4 0 1 0 2.8 0a1.4 1.4 0 1 0 -2.8 0M561 174.13a1.4 1.4 0 1 0 2.8 0a1.4 1.4 0 1 0 -2.8 0M563.66 173.12a1.4 1.4 0 1 0 2.8 0a1.4 1.4 0 1 0 -2.8 0M566.32 171.5a1.4 1.4 0 1 0 2.8 0a1.4 1.4 0 1 0 -2.8 0M568.98 168.56a1.4 1.4 0 1 0 2.8 0a1.4 1.4 0 1 0 -2.8 0M571.64 164.76a1.4 1.4 0 1 0 2.8 0a1.4 1.4 0 1 0 -2.8 0M574.3 158.78a1.4 1.4 0 1 0 2.8 0a1.4 1.4 0 1 0 -2.8 0M576.96 155.77a1.4 1.4 0 1 0 2.8 0a1.4 1.4 0 1 0 -2.8 0M579.62 152.76a1.4 1.4 0 1 0 2.8 0a1.4 1.4 0 1 0 -2.8 0M582.28 149.37a1.4 1.4 0 1 0 2.8 0a1.4 1.4 0 1 0 -2.8 0M584.94 146.15a1.4 1.4 0 1 0 2.8 0a1.4 1.4 0 1 0 -2.8 0M587.6 144.04a1.4 1.4 0 1 0 2.8 0a1.4 1.4 0 1 0 -2.8 0M590.26 142.76a1.4 1.4 0 1 0 2.8 0a1.4 1.4 0 1 0 -2.8 0M592.92 140.68a1.4 1.4 0 1 0 2.8 0a1.4 1.4 0 1 0 -2.8 0M595.58 136.04a1.4 1.4 0 1 0 2.8 0a1.4 1.4 0 1 0 -2.8 0M598.24 134.02a1.4 1.4 0 1 0 2.8 0a1.4 1.4 0 1 0 -2.8 0M600.9 131.7a1.4 1.4 0 1 0 2.8 0a1.4 1.4 0 1 0 -2.8 0M603.56 129.04a1.4 1.4 0 1 0 2.8 0a1.4 1.4 0 1 0 -2.8 0M606.22 125.98a1.4 1.4 0 1 0 2.8 0a1.4 1.4 0 1 0 -2.8 0M608.88 122.72a1.4 1.4 0 1 0 2.8 0a1.4 1.4 0 1 0 -2.8 0M611.54 120.06a1.4 1.4 0 1 0 2.8 0a1.4 1.4 0 1 0 -2.8 0M614.2 117.4a1.4 1.4 0 1 0 2.8 0a1.4 1.4 0 1 0 -2.8 0M616.86 114.74a1.4 1.4 0 1 0 2.8 0a1.4 1.4 0 1 0 -2.8 0M619.52 110.64a1.4 1.4 0 1 0 2.8 0a1.4 1.4 0 1 0 -2.8 0M622.18 106.23a1.4 1.4 0 1 0 2.8 0a1.4 1.4 0 1 0 -2.8 0M624.84 102.52a1.4 1.4 0 1 0 2.8 0a1.4 1.4 0 1 0 -2.8 0M627.5 97.62a1.4 1.4 0 1 0 2.8 0a1.4 1.4 0 1 0 -2.8 0M630.16 91.8a1.4 1.4 0 1 0 2.8 0a1.4 1.4 0 1 0 -2.8 0M632.82 85.62a1.4 1.4 0 1 0 2.8 0a1.4 1.4 0 1 0 -2.8 0M635.48 82.43a1.4 1.4 0 1 0 2.8 0a1.4 1.4 0 1 0 -2.8 0M638.14 78.7a1.4 1.4 0 1 0 2.8 0a1.4 1.4 0 1 0 -2.8 0M640.8 74.49a1.4 1.4 0 1 0 2.8 0a1.4 1.4 0 1 0 -2.8 0M643.46 72.13a1.4 1.4 0 1 0 2.8 0a1.4 1.4 0 1 0 -2.8 0M646.12 71.33a1.4 1.4 0 1 0 2.8 0a1.4 1.4 0 1 0 -2.8 0M648.78 68.58a1.4 1.4 0 1 0 2.8 0a1.4 1.4 0 1 0 -2.8 0M651.44 65.51a1.4 1.4 0 1 0 2.8 0a1.4 1.4 0 1 0 -2.8 0M654.1 60.99a1.4 1.4 0 1 0 2.8 0a1.4 1.4 0 1 0 -2.8 0M656.76 57.53a1.4 1.4 0 1 0 2.8 0a1.4 1.4 0 1 0 -2.8 0M659.42 55.9a1.4 1.4 0 1 0 2.8 0a1.4 1.4 0 1 0 -2.8 0M662.08 54.64a1.4 1.4 0 1 0 2.8 0a1.4 1.4 0 1 0 -2.8 0M664.74 51.97a1.4 1.4 0 1 0 2.8 0a1.4 1.4 0 1 0 -2.8 0M667.4 48a1.4 1.4 0 1 0 2.8 0a1.4 1.4 0 1 0 -2.8 0" fill="#3a3a3a" stroke="#000" stroke-width="0.6"/>
<path d="M401.6 245.4v-4M401.6 29.6v4M455.4 245.4v-4M455.4 29.6v4M509.2 245.4v-4M509.2 29.6v4M563 245.4v-4M563 29.6v4M616.8 245.4v-4M616.8 29.6v4M670.6 245.4v-4M670.6 29.6v4M428.5 245.4v-2.4M428.5 29.6v2.4M482.3 245.4v-2.4M482.3 29.6v2.4M536.1 245.4v-2.4M536.1 29.6v2.4M589.9 245.4v-2.4M589.9 29.6v2.4M643.7 245.4v-2.4M643.7 29.6v2.4M401.6 245.4h4M670.6 245.4h-4M401.6 173.47h4M670.6 173.47h-4M401.6 101.53h4M670.6 101.53h-4M401.6 29.6h4M670.6 29.6h-4M401.6 209.43h2.4M670.6 209.43h-2.4M401.6 137.5h2.4M670.6 137.5h-2.4M401.6 65.57h2.4M670.6 65.57h-2.4" stroke="#262626" stroke-width="1.1" fill="none"/>
<rect x="401.6" y="29.6" width="269" height="215.8" fill="none" stroke="#262626" stroke-width="1.25"/>
<text x="401.6" y="262.6" text-anchor="middle" font-size="16.5">0</text>
<text x="455.4" y="262.6" text-anchor="middle" font-size="16.5">1</text>
<text x="509.2" y="262.6" text-anchor="middle" font-size="16.5">2</text>
<text x="563" y="262.6" text-anchor="middle" font-size="16.5">3</text>
<text x="616.8" y="262.6" text-anchor="middle" font-size="16.5">4</text>
<text x="670.6" y="262.6" text-anchor="middle" font-size="16.5">5</text>
<text x="396.6" y="250.7" text-anchor="end" font-size="16.5">0.00</text>
<text x="396.6" y="178.77" text-anchor="end" font-size="16.5">0.06</text>
<text x="396.6" y="106.83" text-anchor="end" font-size="16.5">0.12</text>
<text x="396.6" y="34.9" text-anchor="end" font-size="16.5">0.18</text>
<text x="411.8" y="51.9" font-size="16.3"><tspan font-style="italic">H</tspan> || [001]</text>
<text x="412.2" y="72.1" font-size="16.3"><tspan font-style="italic">I</tspan>  || [100]</text>
<text x="457.3" y="276.8" font-size="20.4">Magnetic field (T)</text>
<text transform="translate(353.5,193.5) rotate(-90)" font-size="22"><tspan font-style="italic" font-size="22" dy="0.5">ρ</tspan><tspan font-size="15" dy="5.5" font-style="italic">yx</tspan><tspan dy="-6">(μΩ-cm)</tspan></text>
<rect x="513.6" y="297.3" width="44.8" height="215" fill="#e8e8e8"/>
<path d="M513.6 297.3V512.3" stroke="#555" stroke-width="1"/>
<path d="M558.4 297.3V512.3" stroke="#555" stroke-width="1"/>
<path d="M417.4 299.13L418.4 299.78L419.4 300.82L420.4 300.63L421.4 301.19L422.4 301.8L423.4 301.69L424.4 302.67L425.4 303.35L426.4 304.26L427.4 303.91L428.4 304.91L429.4 305.29L430.4 307.06L431.4 307.55L432.4 307.23L433.4 309.3L434.4 309.93L435.4 310.12L436.4 310.72L437.4 310.69L438.4 311.13L439.4 312.56L440.4 312.51L441.4 313.41L442.4 314.23L443.4 314.66L444.4 316.05L445.4 316.76L446.4 318.11L447.4 318.37L448.4 319.3L449.4 319.83L450.4 320.82L451.4 321.34L452.4 322.1L453.4 324.2L454.4 325.22L455.4 326.01L456.4 326.83L457.4 327.26L458.4 328.16L459.4 329.27L460.4 329.89L461.4 331.78L462.4 332.08L463.4 333.59L464.4 333.74L465.4 335.44L466.4 336.12L467.4 335.7L468.4 336.85L469.4 338.75L470.4 338.93L471.4 340.62L472.4 340.75L473.4 341.26L474.4 343.09L475.4 344.32L476.4 344.55L477.4 345.28L478.4 346.65L479.4 348.6L480.4 349.29L481.4 349.33L482.4 350.45L483.4 351.12L484.4 351.95L485.4 353.94L486.4 353.9L487.4 355.36L488.4 356.08L489.4 356.58L490.4 358.28L491.4 358.27L492.4 355.43L493.4 360.32L494.4 362.51L495.4 362.75L496.4 363.39L497.4 364.99L498.4 365.29L499.4 365.09L500.4 366.51L501.4 366.05L502.4 366.88L503.4 368.12L504.4 368.78L505.4 369.05L506.4 371.46L507.4 371.33L508.4 372.01L509.4 373.39L510.4 373.34L511.4 373.9L512.4 374.18L513.4 374.81L514.4 376.16L515.4 376.24L516.4 377.37L517.4 377.62L518.4 378.33L519.4 379.68L520.4 379.55L521.4 380.28L522.4 381.19L523.4 380.57L524.4 380.93L525.4 382.46L526.4 382.73L527.4 382.28L528.4 382.59L529.4 383.74L530.4 384.25L531.4 383.34L532.4 384.67L533.4 384.78L534.4 384.56L535.4 384.5L536.4 384.19L537.4 383.99L538.4 385.26L539.4 384.07L540.4 384.66L541.4 383.88L542.4 384.62L543.4 384.17L544.4 383.46L545.4 382.99L546.4 383.51L547.4 382.24L548.4 382.19L549.4 382.4L550.4 382.55L551.4 381.83L552.4 380.93L553.4 381.49L554.4 380.03L555.4 379.35L556.4 379.33L557.4 379.2L558.4 378.16L559.4 377.73L560.4 377.42L561.4 377.12L562.4 375.86L563.4 375.6L564.4 375.79L565.4 375.32L566.4 374.05L567.4 373.32L568.4 372.38L569.4 370.93L570.4 370.06L571.4 369.44L572.4 370.18L573.4 369.26L574.4 369.05L575.4 366.86L576.4 366.98L577.4 365.95L578.4 365.53L579.4 364.11L580.4 364.33L581.4 362.14L582.4 362.05L583.4 361.54L584.4 360.98L585.4 359.94L586.4 359.09L587.4 358.42L588.4 357.8L589.4 356.08L590.4 355.58L591.4 354.9L592.4 353.86L593.4 352.18L594.4 351.74L595.4 350.85L596.4 349.41L597.4 348.49L598.4 347.12L599.4 346.42L600.4 345.46L601.4 343.67L602.4 343.51L603.4 343.04L604.4 341.88L605.4 340.66L606.4 339.15L607.4 338.68L608.4 337.45L609.4 336.25L610.4 335.85L611.4 333.73L612.4 333.74L613.4 331.66L614.4 331.53L615.4 330.35L616.4 328.98L617.4 328.69L618.4 327.43L619.4 326.71L620.4 326.27L621.4 324.38L622.4 323.12L623.4 322.66L624.4 322.33L625.4 320.72L626.4 319.78L627.4 319.99L628.4 318.72L629.4 317.5L630.4 317.45L631.4 315.9L632.4 315.71L633.4 314.3L634.4 313.95L635.4 313.81L636.4 313.27L637.4 312.51L638.4 311.07L639.4 310.66L640.4 309.56L641.4 308.58L642.4 308.42L643.4 308.23L644.4 307.63L645.4 306.93L646.4 306.79L647.4 305.29L648.4 304.63L649.4 304.56L650.4 303.81L651.4 303.22L652.4 303.03L653.4 302.85L654.4 302.16L655.4 301.4L656.4 301.69L657.4 301.41L658.4 300.13L659.4 299.27L660.4 298.96L661.4 299.98L662.4 298.49L663.4 299.25L664.4 298.81L665.4 298.17L666.4 298.65L667.4 297.25L668.4 297.19L669.4 297.43" stroke="#e8141c" stroke-width="1.75" fill="none" stroke-linejoin="round" stroke-linecap="round" />
<path d="M401.6 297.56L402.6 297.84L403.6 297.85L404.6 297.06L405.6 296.87L406.6 297.41L407.6 297.26L408.6 298.07L409.6 297.89L410.6 297.81L411.6 297.88L412.6 298.17L413.6 297.53L414.6 298.11L415.6 297.91L416.6 299.39L417.6 298.5L418.6 300.01L419.6 299.26L420.6 300.58L421.6 300.54L422.6 301.14L423.6 302.28L424.6 301.54L425.6 302.14L426.6 304.36L427.6 304.69L428.6 305.01L429.6 307.53L430.6 308.57L431.6 306.32L432.6 306.23L433.6 305.54L434.6 305.54L435.6 306.58L436.6 306.55L437.6 308.01L438.6 307.71L439.6 308.55L440.6 310.18L441.6 310.27L442.6 311.04L443.6 312.06L444.6 312.62L445.6 313.23L446.6 313.44L447.6 315.23L448.6 316.34L449.6 317.1L450.6 317.37L451.6 317.75L452.6 318.69L453.6 320.12L454.6 321.02L455.6 321.12L456.6 322.23L457.6 323.36L458.6 324.51L459.6 325.89L460.6 326.31L461.6 326.46L462.6 328.5L463.6 328.77L464.6 329.75L465.6 330.16L466.6 331.32L467.6 332.12L468.6 333.55L469.6 333.39L470.6 334.92L471.6 335.25L472.6 336.92L473.6 336.83L474.6 338.09L475.6 339.09L476.6 340.43L477.6 340.45L478.6 341.96L479.6 342.49L480.6 343.49L481.6 344.68L482.6 346.39L483.6 346.67L484.6 348.38L485.6 348.2L486.6 350.34L487.6 350.5L488.6 351.23L489.6 353.07L490.6 354.32L491.6 353.96L492.6 355.35L493.6 356.92L494.6 357.08L495.6 357.73L496.6 358.18L497.6 359.02L498.6 360.69L499.6 362.03L500.6 362.85L501.6 362.91L502.6 362.99L503.6 364.23L504.6 366.09L505.6 367.32L506.6 368.2L507.6 368.58L508.6 369.64L509.6 370.17L510.6 371.01L511.6 371.07L512.6 372.71L513.6 373.24L514.6 372.76L515.6 373.64L516.6 375.2L517.6 374.99L518.6 376.67L519.6 376.72L520.6 377.67L521.6 378.37L522.6 378.09L523.6 378.6L524.6 378.96L525.6 380.01L526.6 380.42L527.6 379.98L528.6 381.52L529.6 381.13L530.6 381.11L531.6 381.64L532.6 382.71L533.6 382.32L534.6 382.67L535.6 383.36L536.6 383.61L537.6 383.36L538.6 382.9L539.6 383.21L540.6 383.74L541.6 383.62L542.6 383.37L543.6 383.07L544.6 382.91L545.6 383.26L546.6 382.81L547.6 381.8L548.6 382.64L549.6 382.74L550.6 382.39L551.6 382.26L552.6 381.97L553.6 381.11L554.6 381.19L555.6 380.27L556.6 379.55L557.6 379.63L558.6 379.17L559.6 379.61L560.6 378.75L561.6 378.04L562.6 377.66L563.6 376.42L564.6 376.55L565.6 376.27L566.6 375.18L567.6 374.33L568.6 373.94L569.6 373.19L570.6 373.01L571.6 371.42L572.6 370.56L573.6 370.12L574.6 369.92L575.6 369.27L576.6 368.37L577.6 368.04L578.6 366.44L579.6 365.2L580.6 365.14L581.6 364.33L582.6 363.19L583.6 363.17L584.6 361.94L585.6 361.04L586.6 360.43L587.6 360.61L588.6 358.46L589.6 358.12L590.6 357.05L591.6 355.98L592.6 355.37L593.6 354.1L594.6 354.2L595.6 352.62L596.6 351.96L597.6 350.21L598.6 349.71L599.6 348.97L600.6 348.37L601.6 346.53L602.6 345.9L603.6 345.54L604.6 344.56L605.6 342.71L606.6 342.23L607.6 341.62L608.6 340.12L609.6 339.59L610.6 338.63L611.6 338.15L612.6 336.58L613.6 335.82L614.6 334.38L615.6 334.01L616.6 332.45L617.6 331.77L618.6 330.64L619.6 329.67L620.6 328.52L621.6 327.76L622.6 327.34L623.6 326.01L624.6 324.8L625.6 325.04L626.6 323.37L627.6 323.45L628.6 322.05L629.6 320.86L630.6 320.83L631.6 320.12L632.6 318.5L633.6 317.46L634.6 317.48L635.6 317.03L636.6 315.93L637.6 315.44L638.6 314.13L639.6 313.68L640.6 312.4L641.6 311.86L642.6 311.07L643.6 310.33L644.6 309.72L645.6 309.8L646.6 308.3L647.6 307.81L648.6 307.34L649.6 307.88L650.6 306.66L651.6 305.42L652.6 306.05L653.6 305.57L654.6 304.95L655.6 303.71L656.6 303.73L657.6 302.55L658.6 301.76L659.6 302.44L660.6 301.99L661.6 300.65L662.6 301.25L663.6 299.56L664.6 299.58L665.6 298.73L666.6 298.57L667.6 298.15L668.6 298.57L669.6 297.54" stroke="#222" stroke-width="1.75" fill="none" stroke-linejoin="round" stroke-linecap="round" />
<path d="M401.6 335.74L402.6 336.38L403.6 336.38L404.6 336.62L405.6 335.63L406.6 335.7L407.6 335.57L408.6 335.69L409.6 336.45L410.6 335.55L411.6 336.15L412.6 335.67L413.6 335.79L414.6 335.64L415.6 335.37L416.6 334.14L417.6 332.37L418.6 331.86L419.6 330.67L420.6 330.76L421.6 330.13L422.6 330.27L423.6 330.46L424.6 330.49L425.6 331.07L426.6 331.22L427.6 330.81L428.6 332.09L429.6 331.93L430.6 332.77L431.6 333.35L432.6 334.01L433.6 334.77L434.6 335.74L435.6 336.44L436.6 337.03L437.6 338.97L438.6 339.82L439.6 340.99L440.6 341.43L441.6 342.11L442.6 343.29L443.6 343.25L444.6 345.07L445.6 345.72L446.6 346.31L447.6 347.35L448.6 348.83L449.6 349.43L450.6 350.74L451.6 351.96L452.6 352.67L453.6 353.34L454.6 354.96L455.6 355.72L456.6 356.92L457.6 358.06L458.6 359.51L459.6 360.27L460.6 362.33L461.6 363.99L462.6 364.34L463.6 366.03L464.6 367.46L465.6 367.14L466.6 368.3L467.6 370.31L468.6 371.37L469.6 372.08L470.6 372.38L471.6 373.9L472.6 376L473.6 377.45L474.6 378.75L475.6 379.27L476.6 381.67L477.6 382.37L478.6 384.15L479.6 384.52L480.6 387.02L481.6 387.72L482.6 389.14L483.6 389.62L484.6 391.48L485.6 392.61L486.6 393.77L487.6 394.56L488.6 396.26L489.6 396.82L490.6 397.89L491.6 398.92L492.6 401.09L493.6 401.63L494.6 403.2L495.6 404.36L496.6 406.62L497.6 407.89L498.6 409.26L499.6 409.4L500.6 410.9L501.6 411.65L502.6 412.18L503.6 412.94L504.6 415.33L505.6 414.91L506.6 416.07L507.6 416.94L508.6 418.37L509.6 418.54L510.6 420.07L511.6 420.86L512.6 422.51L513.6 422.21L514.6 423.59L515.6 424.25L516.6 425.37L517.6 425.11L518.6 425.46L519.6 426.16L520.6 425.94L521.6 425.68L522.6 426.52L523.6 427.27L524.6 427.15L525.6 426.34L526.6 425.98L527.6 425.22L528.6 423.73L529.6 423.61L530.6 422.65L531.6 422.19L532.6 422.46L533.6 422.53L534.6 422.94L535.6 422.67L536.6 423.38L537.6 423.04L538.6 424.17L539.6 424.06L540.6 423.29L541.6 424.56L542.6 423.81L543.6 424.37L544.6 424.57L545.6 424.32L546.6 424.33L547.6 424.64L548.6 424.27L549.6 425.45L550.6 424.4L551.6 425.67L552.6 425L553.6 425.36L554.6 425.73L555.6 425.43L556.6 426.57L557.6 428.23L558.6 428.81L559.6 429.07L560.6 428.84L561.6 427.02L562.6 427.36L563.6 426.36L564.6 426.97L565.6 425.81L566.6 426.03L567.6 424.88L568.6 423.62L569.6 422.81L570.6 422.5L571.6 422.71L572.6 420.93L573.6 420.71L574.6 419.81L575.6 418.77L576.6 418.45L577.6 416.57L578.6 416.33L579.6 415.25L580.6 414.65L581.6 413.03L582.6 412.63L583.6 410.91L584.6 410.11L585.6 409.18L586.6 408.51L587.6 407.6L588.6 405.42L589.6 404.24L590.6 403.49L591.6 402.55L592.6 400.78L593.6 399.08L594.6 398.72L595.6 396.38L596.6 394.71L597.6 393.3L598.6 391.92L599.6 391.61L600.6 389.33L601.6 388.89L602.6 387.77L603.6 386.62L604.6 385.09L605.6 383.26L606.6 382.31L607.6 381.37L608.6 379.95L609.6 378.06L610.6 377.52L611.6 375.29L612.6 374.35L613.6 374.18L614.6 372.18L615.6 370.67L616.6 370.24L617.6 368.53L618.6 366.48L619.6 364.97L620.6 363.76L621.6 362.56L622.6 362.33L623.6 360.15L624.6 359.92L625.6 358.78L626.6 356.98L627.6 356.71L628.6 355.22L629.6 353.65L630.6 352.09L631.6 351.17L632.6 350.6L633.6 349.18L634.6 347.79L635.6 347.18L636.6 346.46L637.6 345.15L638.6 344.85L639.6 343.16L640.6 343.46L641.6 341.62L642.6 340.63L643.6 340.48L644.6 339.23L645.6 339.29L646.6 337.91L647.6 337.14L648.6 336.81L649.6 335.07L650.6 335.07L651.6 334.12L652.6 332.98L653.6 332.98L654.6 330.77L655.6 331.22L656.6 330.21L657.6 331.42L658.6 330.55L659.6 330.57L660.6 331.9L661.6 333.54L662.6 333.54L663.6 334.39L664.6 334.87L665.6 334.63L666.6 335.36L667.6 334.88L668.6 335.84L669.6 336.61" stroke="#7f7a1e" stroke-width="1.75" fill="none" stroke-linejoin="round" stroke-linecap="round" />
<path d="M401.6 335.51L402.6 336.34L403.6 336.21L404.6 336.58L405.6 335.51L406.6 335.43L407.6 336.09L408.6 335.91L409.6 335.32L410.6 333.95L411.6 331.11L412.6 329.49L413.6 328.21L414.6 328.08L415.6 328.8L416.6 327.79L417.6 327.64L418.6 328.46L419.6 328.2L420.6 327.47L421.6 328.08L422.6 328.95L423.6 329.09L424.6 330.7L425.6 330.79L426.6 332L427.6 332.51L428.6 333.58L429.6 335.64L430.6 335.66L431.6 337.44L432.6 337.53L433.6 338.71L434.6 340.03L435.6 340.67L436.6 340.73L437.6 342.37L438.6 343.39L439.6 343.7L440.6 344.56L441.6 346.72L442.6 347.16L443.6 347.67L444.6 349.04L445.6 349.68L446.6 351.6L447.6 352.22L448.6 352.7L449.6 354.84L450.6 354.82L451.6 356.17L452.6 356.86L453.6 359L454.6 359.14L455.6 360.93L456.6 361.46L457.6 363.22L458.6 364.7L459.6 365.66L460.6 366.71L461.6 367.93L462.6 369.04L463.6 370.45L464.6 370.86L465.6 372.57L466.6 373.36L467.6 375.44L468.6 376.69L469.6 376.52L470.6 377.79L471.6 379.9L472.6 380.96L473.6 381.4L474.6 383.69L475.6 385.31L476.6 385.79L477.6 386.94L478.6 388.56L479.6 390.39L480.6 390.66L481.6 392L482.6 393.11L483.6 395.05L484.6 396.08L485.6 397.01L486.6 398.46L487.6 399.18L488.6 401.07L489.6 403.57L490.6 404.48L491.6 405.52L492.6 408L493.6 408.26L494.6 408.86L495.6 409.29L496.6 410.21L497.6 411.04L498.6 411.84L499.6 413.56L500.6 413.41L501.6 414.15L502.6 415.45L503.6 416.69L504.6 416.52L505.6 417.99L506.6 418.17L507.6 419.23L508.6 420.06L509.6 421.37L510.6 421.88L511.6 422.29L512.6 423.57L513.6 423.64L514.6 424.14L515.6 425.39L516.6 425.16L517.6 425.61L518.6 423.92L519.6 423.82L520.6 422.3L521.6 420.51L522.6 420.3L523.6 418.85L524.6 418.66L525.6 418.54L526.6 418.3L527.6 418.45L528.6 419.19L529.6 418.48L530.6 418.87L531.6 419.36L532.6 419.71L533.6 419.67L534.6 420.48L535.6 419.89L536.6 420.23L537.6 420.39L538.6 420.03L539.6 420.25L540.6 420.22L541.6 421.16L542.6 420.38L543.6 421.24L544.6 420.65L545.6 421.92L546.6 422.93L547.6 424.51L548.6 428.95L549.6 428.83L550.6 428.97L551.6 428.5L552.6 429.34L553.6 429.42L554.6 429.61L555.6 430.15L556.6 429.88L557.6 428.52L558.6 428.87L559.6 428.25L560.6 426.66L561.6 425L562.6 425.15L563.6 423.49L564.6 423.52L565.6 422.64L566.6 421.85L567.6 421.28L568.6 419.26L569.6 419.63L570.6 418.27L571.6 417.46L572.6 417.27L573.6 417.03L574.6 415.55L575.6 415.17L576.6 414.63L577.6 413.14L578.6 412.14L579.6 410.75L580.6 410.71L581.6 408.58L582.6 408.18L583.6 407.08L584.6 405.06L585.6 405.51L586.6 403.32L587.6 403.4L588.6 402.26L589.6 400.96L590.6 399.49L591.6 397.41L592.6 396.08L593.6 394.53L594.6 394.01L595.6 391.25L596.6 390.02L597.6 389.84L598.6 388.22L599.6 386.67L600.6 385.66L601.6 383.6L602.6 382.66L603.6 380.69L604.6 380.14L605.6 377.65L606.6 376.97L607.6 375.94L608.6 375.02L609.6 373.23L610.6 372.38L611.6 371.57L612.6 369.46L613.6 367.76L614.6 366.12L615.6 365.99L616.6 364.03L617.6 362.52L618.6 361.45L619.6 359.68L620.6 358.67L621.6 357.52L622.6 356.38L623.6 356.12L624.6 354.04L625.6 352.64L626.6 352.63L627.6 351L628.6 349.04L629.6 348.88L630.6 348.1L631.6 347.24L632.6 346.63L633.6 345.31L634.6 344.21L635.6 344.19L636.6 343.21L637.6 342.53L638.6 340.95L639.6 340.43L640.6 340.11L641.6 338.85L642.6 338.37L643.6 337.38L644.6 337.18L645.6 336.07L646.6 335.8L647.6 335.79L648.6 334.52L649.6 333.81L650.6 334L651.6 332.75L652.6 333.34L653.6 331.96L654.6 332.87L655.6 332.97L656.6 333.06L657.6 334.27L658.6 335.17L659.6 335.26L660.6 335.86L661.6 335.84L662.6 337.11L663.6 336.31L664.6 337.55L665.6 336.39L666.6 337.11L667.6 336.45L668.6 336.55L669.6 337.23" stroke="#cc2222" stroke-width="1.75" fill="none" stroke-linejoin="round" stroke-linecap="round" />
<path d="M401.6 374.2L402.6 372.19L403.6 372.7L404.6 371.25L405.6 371.74L406.6 368.83L407.6 368.67L408.6 368.04L409.6 367.97L410.6 367.85L411.6 366.67L412.6 366.91L413.6 367.56L414.6 367.01L415.6 367.08L416.6 367.19L417.6 368.44L418.6 368.77L419.6 368.97L420.6 368.41L421.6 369.78L422.6 369.78L423.6 370.06L424.6 371.1L425.6 371.75L426.6 371.95L427.6 373.45L428.6 374.04L429.6 375.24L430.6 376.67L431.6 377.14L432.6 377.67L433.6 379.26L434.6 380.37L435.6 380.52L436.6 382.11L437.6 381.62L438.6 382.71L439.6 383.64L440.6 385.68L441.6 386.2L442.6 387.14L443.6 387.38L444.6 388.9L445.6 390.69L446.6 390.71L447.6 391.94L448.6 393.04L449.6 394.87L450.6 396.63L451.6 397.4L452.6 398.37L453.6 399.72L454.6 400.43L455.6 402.71L456.6 402.95L457.6 403.9L458.6 405.14L459.6 407.04L460.6 407.72L461.6 410.26L462.6 411.07L463.6 412.89L464.6 414L465.6 416.91L466.6 418.09L467.6 418.8L468.6 419.47L469.6 421.24L470.6 422.26L471.6 424.16L472.6 425.49L473.6 426.42L474.6 426.94L475.6 427.77L476.6 430.25L477.6 431.52L478.6 431.53L479.6 433.24L480.6 434.4L481.6 436.34L482.6 436.13L483.6 437.35L484.6 439.72L485.6 440.5L486.6 441.53L487.6 443.2L488.6 443.94L489.6 445.09L490.6 445.43L491.6 446.18L492.6 447.06L493.6 448.55L494.6 450.02L495.6 450.62L496.6 451.5L497.6 452.58L498.6 453.37L499.6 453.88L500.6 454.25L501.6 455.91L502.6 456.77L503.6 457.8L504.6 458.68L505.6 458.26L506.6 460.13L507.6 460.42L508.6 460.98L509.6 461.68L510.6 461.62L511.6 462.27L512.6 463.88L513.6 463.4L514.6 464.76L515.6 464.79L516.6 464.62L517.6 465L518.6 465.81L519.6 466.34L520.6 465.27L521.6 462.21L522.6 459.98L523.6 460.72L524.6 460.23L525.6 459L526.6 459.8L527.6 459.11L528.6 459.01L529.6 460.11L530.6 459.22L531.6 459.43L532.6 460.06L533.6 460.82L534.6 460.38L535.6 460.13L536.6 460.6L537.6 459.67L538.6 460.64L539.6 459.98L540.6 461.66L541.6 461.23L542.6 462.64L543.6 463.74L544.6 464.28L545.6 464.98L546.6 465.68L547.6 466.08L548.6 465.61L549.6 465.5L550.6 466.08L551.6 466.13L552.6 465.62L553.6 466.34L554.6 465.98L555.6 465.21L556.6 465.74L557.6 465.54L558.6 464.58L559.6 465.07L560.6 464.95L561.6 463.82L562.6 462.55L563.6 461.47L564.6 460.38L565.6 459.71L566.6 459.92L567.6 457.44L568.6 457.6L569.6 456.15L570.6 455.53L571.6 454L572.6 454.32L573.6 453.16L574.6 452.68L575.6 451.67L576.6 450.38L577.6 448.92L578.6 448.26L579.6 446.09L580.6 444.8L581.6 444.68L582.6 442.28L583.6 441.64L584.6 440.43L585.6 439.6L586.6 437.34L587.6 436.12L588.6 434.51L589.6 433.09L590.6 431.77L591.6 430.46L592.6 429.35L593.6 427.8L594.6 426.49L595.6 425.93L596.6 424.71L597.6 422.31L598.6 422.06L599.6 419.37L600.6 418.53L601.6 418.08L602.6 415.68L603.6 415.13L604.6 414.42L605.6 412.65L606.6 411.22L607.6 409.38L608.6 408.81L609.6 407.63L610.6 406.92L611.6 405.13L612.6 404.55L613.6 402.75L614.6 401.9L615.6 400.88L616.6 398.8L617.6 398.78L618.6 396.92L619.6 395.96L620.6 395.69L621.6 394.08L622.6 392.99L623.6 391.52L624.6 390.52L625.6 390.33L626.6 388.93L627.6 388.15L628.6 387.2L629.6 386.14L630.6 384.24L631.6 383.7L632.6 381.72L633.6 380.59L634.6 380.91L635.6 380.24L636.6 378.35L637.6 378.78L638.6 377.77L639.6 376.42L640.6 376.16L641.6 375.96L642.6 374.08L643.6 374.13L644.6 372.97L645.6 372.42L646.6 373.21L647.6 372.87L648.6 371.95L649.6 371.75L650.6 370.74L651.6 370.38L652.6 370.25L653.6 371.14L654.6 371.81L655.6 372.3L656.6 373.37L657.6 373.71L658.6 374.84L659.6 375.45L660.6 375.55L661.6 374.94L662.6 375.1L663.6 376.07L664.6 375.23L665.6 375.73L666.6 374.95L667.6 375.07L668.6 375.28L669.6 376.02" stroke="#d64fe8" stroke-width="1.75" fill="none" stroke-linejoin="round" stroke-linecap="round" />
<path d="M401.6 373.89L402.6 374.49L403.6 374.82L404.6 375.28L405.6 375.48L406.6 375.46L407.6 374.46L408.6 374.62L409.6 373.29L410.6 373.32L411.6 371.53L412.6 368.79L413.6 368.2L414.6 367.02L415.6 367.21L416.6 367.14L417.6 366.29L418.6 367.45L419.6 367.52L420.6 367.51L421.6 366.75L422.6 367.69L423.6 368.26L424.6 368.08L425.6 368.28L426.6 368.73L427.6 367.7L428.6 366.36L429.6 369.65L430.6 370.58L431.6 371.72L432.6 372.99L433.6 373.01L434.6 373.65L435.6 376.06L436.6 376.87L437.6 377.83L438.6 378.33L439.6 378.67L440.6 379.34L441.6 380.34L442.6 381.36L443.6 381.55L444.6 383.72L445.6 384.99L446.6 385.14L447.6 387.6L448.6 388.3L449.6 390.16L450.6 390.71L451.6 392.41L452.6 393.12L453.6 394.57L454.6 395.66L455.6 396.58L456.6 398.4L457.6 400.17L458.6 402.07L459.6 403.65L460.6 405.47L461.6 407.18L462.6 408.32L463.6 409.72L464.6 411.53L465.6 413.72L466.6 414.84L467.6 415.95L468.6 417.49L469.6 417.91L470.6 419.02L471.6 420.32L472.6 421.66L473.6 422.79L474.6 425.02L475.6 426.76L476.6 426.86L477.6 428.94L478.6 430.52L479.6 431.46L480.6 431.75L481.6 433.68L482.6 434.3L483.6 435.39L484.6 436.34L485.6 438.31L486.6 440.11L487.6 440.09L488.6 441.17L489.6 442.53L490.6 443.01L491.6 444.65L492.6 446.05L493.6 446.64L494.6 447.01L495.6 448L496.6 449.36L497.6 451.65L498.6 453.62L499.6 454.57L500.6 455.22L501.6 456.42L502.6 457.75L503.6 458.31L504.6 459.35L505.6 460.85L506.6 462.49L507.6 462.55L508.6 464.32L509.6 465.12L510.6 465.26L511.6 465.75L512.6 466.5L513.6 468.03L514.6 469.04L515.6 469.58L516.6 469.1L517.6 469.92L518.6 469.8L519.6 470.72L520.6 471.2L521.6 471.44L522.6 471.2L523.6 472.25L524.6 470.9L525.6 470.86L526.6 470.09L527.6 468.68L528.6 467.54L529.6 466.09L530.6 464.88L531.6 464.21L532.6 464.99L533.6 464.99L534.6 465.02L535.6 464.36L536.6 464.58L537.6 465.24L538.6 465.26L539.6 464.38L540.6 464.94L541.6 464.83L542.6 465.78L543.6 465.45L544.6 466.11L545.6 466.53L546.6 467.55L547.6 468.63L548.6 469.57L549.6 470.19L550.6 471.69L551.6 472.28L552.6 471.43L553.6 472.7L554.6 471.38L555.6 472.29L556.6 471.57L557.6 472.78L558.6 472.14L559.6 470.94L560.6 470.87L561.6 470.89L562.6 470.41L563.6 469.63L564.6 469.1L565.6 468.67L566.6 467.98L567.6 466.42L568.6 465.61L569.6 464.93L570.6 463.62L571.6 462.34L572.6 462.05L573.6 460.87L574.6 460.23L575.6 459.09L576.6 458.13L577.6 455.74L578.6 454.42L579.6 454.59L580.6 453.1L581.6 452.31L582.6 450.84L583.6 449.86L584.6 447.47L585.6 446.32L586.6 445.77L587.6 444.8L588.6 442.64L589.6 442.7L590.6 440.43L591.6 439.19L592.6 438.32L593.6 436.72L594.6 435.36L595.6 434.12L596.6 432.77L597.6 431.53L598.6 430.91L599.6 429.64L600.6 428.22L601.6 426.27L602.6 425.35L603.6 422.99L604.6 422.84L605.6 420.88L606.6 419.16L607.6 418.27L608.6 416.71L609.6 416.25L610.6 414.42L611.6 412.6L612.6 411.58L613.6 410.13L614.6 410.16L615.6 408.07L616.6 407.35L617.6 405.78L618.6 404.3L619.6 403.64L620.6 402.23L621.6 400.32L622.6 400.61L623.6 398.5L624.6 397.82L625.6 396.32L626.6 396L627.6 393.67L628.6 392.36L629.6 391.18L630.6 390.43L631.6 389.81L632.6 387.92L633.6 387.59L634.6 385.36L635.6 385.54L636.6 383.29L637.6 383.31L638.6 381.23L639.6 380.76L640.6 379.75L641.6 379.23L642.6 377.34L643.6 376.93L644.6 374.88L645.6 375.42L646.6 374.11L647.6 373.4L648.6 373.31L649.6 371.58L650.6 371.3L651.6 370.52L652.6 369.35L653.6 368.49L654.6 368.31L655.6 367.49L656.6 367.38L657.6 366.48L658.6 365.39L659.6 366.29L660.6 368.01L661.6 368.91L662.6 369.79L663.6 370.52L664.6 371.96L665.6 371.64L666.6 372.51L667.6 371.99L668.6 373.55L669.6 374.12" stroke="#1a1ae6" stroke-width="1.75" fill="none" stroke-linejoin="round" stroke-linecap="round" />
<path d="M416 413.03L417 413.86L418 414.49L419 413.88L420 415L421 415.31L422 415.64L423 415.22L424 415.49L425 416.43L426 417.37L427 417.03L428 417.8L429 417.93L430 419.12L431 419.97L432 419.86L433 421.46L434 420.76L435 422.59L436 423.38L437 423L438 424.53L439 425.02L440 426.49L441 426.28L442 427.67L443 429.09L444 429.62L445 430.03L446 430.59L447 432.78L448 432.98L449 434.9L450 434.82L451 437.03L452 438.23L453 439.59L454 439.44L455 441.17L456 441.89L457 444.14L458 444.58L459 446.49L460 446.61L461 448.21L462 449.35L463 449.41L464 450.89L465 452.49L466 452.84L467 453.59L468 454.45L469 456.23L470 456.34L471 457.96L472 458.88L473 459.88L474 460.24L475 462.04L476 463.56L477 463.9L478 465.15L479 467.24L480 467.98L481 468.75L482 469.58L483 471.93L484 472.55L485 473.96L486 474.67L487 476.06L488 477.06L489 477.28L490 477.79L491 480.01L492 480.74L493 480.26L494 481.93L495 482.97L496 483.39L497 484.74L498 485.93L499 486.23L500 486.79L501 487.35L502 488.2L503 488.64L504 489.17L505 489.91L506 491.45L507 491.58L508 492.59L509 493.37L510 493.82L511 493.29L512 495.21L513 494.57L514 496.2L515 496.76L516 496.79L517 496.71L518 496.52L519 496.83L520 497.96L521 497.67L522 498.35L523 497.98L524 497.86L525 498.08L526 498.75L527 498.42L528 498.31L529 498.48L530 498.58L531 498.52L532 498.42L533 499.2L534 498.88L535 498.09L536 498.23L537 498.03L538 498.3L539 497.79L540 498.87L541 498.6L542 498.38L543 499.09L544 498.26L545 498.69L546 499.26L547 498.75L548 498.89L549 498.57L550 499.56L551 499.25L552 498.62L553 498.75L554 499.03L555 498.58L556 498.25L557 497.41L558 497.65L559 497.28L560 496.78L561 495.72L562 495.12L563 494.62L564 494.08L565 493.4L566 492.16L567 492.03L568 492.6L569 491.85L570 490.79L571 490.71L572 489.39L573 488.96L574 488.71L575 488.18L576 486.37L577 486.23L578 486.08L579 484.84L580 484.61L581 482.47L582 482.88L583 481.97L584 479.95L585 479.92L586 479.45L587 477.84L588 477.44L589 476.64L590 475.45L591 473.8L592 472.14L593 471.76L594 470.13L595 469.56L596 468.05L597 467.06L598 466.25L599 465.56L600 464.7L601 462.72L602 460.92L603 460.84L604 459.02L605 458.45L606 457.36L607 454.97L608 454.82L609 452.95L610 451.81L611 450.63L612 449.73L613 448.09L614 447.27L615 445.81L616 444.45L617 443.53L618 443.06L619 441.39L620 440.11L621 439.3L622 438.07L623 438.23L624 436.93L625 434.98L626 434.19L627 433.4L628 432.54L629 431.33L630 430.66L631 430.26L632 428.6L633 428.46L634 427.11L635 426.92L636 425.84L637 425.82L638 425.18L639 424.54L640 422.97L641 422.53L642 421.11L643 421.17L644 420.52L645 419.59L646 419.04L647 419.3L648 418.89L649 418.56L650 417.4L651 416.93L652 416.55L653 416.06L654 415.39L655 415.16L656 415.32L657 414.83L658 415.12L659 414.09L660 413.72L661 414.8L662 413.45L663 413.79L664 414.37L665 413.65L666 414.55L667 414.16L668 413.45L669 414.22L670 414.24" stroke="#1a8a6a" stroke-width="1.75" fill="none" stroke-linejoin="round" stroke-linecap="round" />
<path d="M401.6 412.82L402.6 413.54L403.6 413.05L404.6 412.85L405.6 413.28L406.6 413.29L407.6 413.27L408.6 413.24L409.6 412.95L410.6 412.93L411.6 413.59L412.6 413.04L413.6 413.56L414.6 413.73L415.6 413.85L416.6 413.97L417.6 412.9L418.6 413.01L419.6 413.93L420.6 413.86L421.6 413.47L422.6 414.35L423.6 414.82L424.6 414.94L425.6 414.28L426.6 414.74L427.6 414.64L428.6 416.43L429.6 415.64L430.6 416.73L431.6 416.79L432.6 417.59L433.6 418.29L434.6 419.55L435.6 420.02L436.6 420.38L437.6 420.91L438.6 422.26L439.6 423.76L440.6 423.44L441.6 425.09L442.6 425.86L443.6 426L444.6 426.91L445.6 428.48L446.6 428.95L447.6 429.75L448.6 430.77L449.6 431.22L450.6 433.13L451.6 433.97L452.6 434.9L453.6 435.62L454.6 437.34L455.6 438.37L456.6 438.96L457.6 439.28L458.6 440.37L459.6 441.38L460.6 442.27L461.6 444.12L462.6 444.97L463.6 445.46L464.6 447.52L465.6 448.09L466.6 449.34L467.6 450.38L468.6 451.17L469.6 451.94L470.6 453.63L471.6 453.35L472.6 455.18L473.6 456.48L474.6 456.87L475.6 458.4L476.6 458.58L477.6 460.06L478.6 460.97L479.6 462.29L480.6 463.88L481.6 464.17L482.6 465.59L483.6 467.49L484.6 467.8L485.6 468.63L486.6 470.88L487.6 471.15L488.6 471.32L489.6 473.1L490.6 473.41L491.6 474.39L492.6 476.2L493.6 477.03L494.6 477.64L495.6 478.72L496.6 479.74L497.6 480.54L498.6 480.95L499.6 482.91L500.6 483.86L501.6 484.29L502.6 485.16L503.6 486.36L504.6 487.05L505.6 487.86L506.6 489.44L507.6 490.29L508.6 489.77L509.6 490.41L510.6 491.94L511.6 492.81L512.6 493.08L513.6 493.05L514.6 493.28L515.6 494.83L516.6 495.38L517.6 495.52L518.6 495.88L519.6 496.64L520.6 496.36L521.6 497.37L522.6 496.58L523.6 496.46L524.6 497.78L525.6 497.73L526.6 498.04L527.6 497.21L528.6 497.63L529.6 498.15L530.6 497.4L531.6 497.83L532.6 498.28L533.6 498.81L534.6 498.52L535.6 498.07L536.6 498.12L537.6 498.31L538.6 498.69L539.6 499.11L540.6 497.66L541.6 499.07L542.6 498.92L543.6 497.82L544.6 498.18L545.6 498.26L546.6 498.22L547.6 498.19L548.6 498.2L549.6 499.06L550.6 498.75L551.6 498.31L552.6 499.46L553.6 499.5L554.6 498.5L555.6 499.19L556.6 498.95L557.6 498.42L558.6 497.43L559.6 497.85L560.6 497.59L561.6 497.11L562.6 496.69L563.6 495.01L564.6 495.72L565.6 493.89L566.6 493.8L567.6 493.56L568.6 493.21L569.6 492.54L570.6 492.61L571.6 491.91L572.6 491.54L573.6 490.77L574.6 489.72L575.6 488.35L576.6 488.58L577.6 488.3L578.6 486.47L579.6 486.97L580.6 484.78L581.6 484.64L582.6 484.46L583.6 483.69L584.6 482.77L585.6 481.61L586.6 480.85L587.6 479.86L588.6 479.62L589.6 477.68L590.6 476.84L591.6 476.73L592.6 475.32L593.6 473.68L594.6 473.29L595.6 473.04L596.6 471.42L597.6 470.05L598.6 468.86L599.6 468.4L600.6 467.01L601.6 465.9L602.6 464.38L603.6 464L604.6 463.09L605.6 461.46L606.6 460.42L607.6 458.74L608.6 458.59L609.6 456.33L610.6 456.08L611.6 453.53L612.6 453.3L613.6 452.41L614.6 450.78L615.6 449.14L616.6 447.95L617.6 448.07L618.6 446.79L619.6 444.31L620.6 443.22L621.6 442.49L622.6 441.2L623.6 438.59L624.6 438.01L625.6 436.35L626.6 435.2L627.6 435.21L628.6 433.99L629.6 432.69L630.6 432.76L631.6 431.36L632.6 430.51L633.6 429.82L634.6 428.91L635.6 429.13L636.6 427.61L637.6 427.76L638.6 426.64L639.6 425.67L640.6 425.45L641.6 423.91L642.6 422.66L643.6 422.84L644.6 421.36L645.6 422.17L646.6 421.76L647.6 420.41L648.6 419.48L649.6 420.3L650.6 418.77L651.6 419.36L652.6 418.14L653.6 418.28L654.6 417.78L655.6 416.22L656.6 416.01L657.6 415.68L658.6 414.85L659.6 415.89L660.6 414.76L661.6 414.75L662.6 414.62L663.6 414.52L664.6 415.46L665.6 414.49L666.6 415.02L667.6 414.27L668.6 415.25L669.6 415.16" stroke="#222" stroke-width="1.75" fill="none" stroke-linejoin="round" stroke-linecap="round" />
<path d="M448 307.3L456.56 315.86" stroke="#000" stroke-width="1.4"/>
<path d="M460.8 320.1L453.52 317.48L458.18 312.82Z" fill="#000"/>
<path d="M449.6 329.3L441.46 320.83" stroke="#e8141c" stroke-width="1.4"/>
<path d="M437.3 316.5L444.53 319.26L439.77 323.83Z" fill="#e8141c"/>
<path d="M453.2 345L462.09 353.62" stroke="#7f7a1e" stroke-width="1.4"/>
<path d="M466.4 357.8L459.08 355.3L463.67 350.56Z" fill="#7f7a1e"/>
<path d="M453.4 366.5L445.72 358.36" stroke="#8b1060" stroke-width="1.4"/>
<path d="M441.6 354L448.8 356.82L444.01 361.36Z" fill="#8b1060"/>
<path d="M450.7 383.3L459.29 391.62" stroke="#1a1ae6" stroke-width="1.4"/>
<path d="M463.6 395.8L456.28 393.3L460.87 388.56Z" fill="#1a1ae6"/>
<path d="M451.7 405.7L443.92 397.46" stroke="#d64fe8" stroke-width="1.4"/>
<path d="M439.8 393.1L447.01 395.92L442.21 400.45Z" fill="#d64fe8"/>
<path d="M450.4 422.3L458.94 430.77" stroke="#000" stroke-width="1.4"/>
<path d="M463.2 435L455.91 432.41L460.56 427.73Z" fill="#000"/>
<path d="M452.7 447.3L443.81 438.68" stroke="#1a8a6a" stroke-width="1.4"/>
<path d="M439.5 434.5L446.82 437L442.23 441.74Z" fill="#1a8a6a"/>
<path d="M536.7 396.4L536.7 406.1" stroke="#ee1111" stroke-width="1.8"/>
<path d="M536.7 414.5L533.1 405.1L540.3 405.1Z" fill="#ee1111"/>
<path d="M537.3 436.5L537.3 445.7" stroke="#ee1111" stroke-width="1.8"/>
<path d="M537.3 454.7L533.7 444.7L540.9 444.7Z" fill="#ee1111"/>
<circle cx="432.5" cy="313" r="1.1" fill="#222"/>
<circle cx="429.4" cy="325.3" r="1.1" fill="#7f7a1e"/>
<circle cx="428.8" cy="327.8" r="1.1" fill="#7f7a1e"/>
<circle cx="430.2" cy="329.5" r="1.1" fill="#7f7a1e"/>
<circle cx="496.9" cy="413.5" r="1.1" fill="#e8141c"/>
<circle cx="492.5" cy="477" r="1.1" fill="#1a8a6a"/>
<circle cx="430.5" cy="410.2" r="1.1" fill="#222"/>
<circle cx="429.6" cy="407.5" r="1.1" fill="#222"/>
<path d="M401.6 512.3v-4M401.6 297.3v4M468.8 512.3v-4M468.8 297.3v4M536 512.3v-4M536 297.3v4M603.2 512.3v-4M603.2 297.3v4M670.4 512.3v-4M670.4 297.3v4M435.2 512.3v-2.4M435.2 297.3v2.4M502.4 512.3v-2.4M502.4 297.3v2.4M569.6 512.3v-2.4M569.6 297.3v2.4M636.8 512.3v-2.4M636.8 297.3v2.4M401.6 512.3h4M670.4 512.3h-4M401.6 469.3h4M670.4 469.3h-4M401.6 426.3h4M670.4 426.3h-4M401.6 383.3h4M670.4 383.3h-4M401.6 340.3h4M670.4 340.3h-4M401.6 297.3h4M670.4 297.3h-4M401.6 490.8h2.4M670.4 490.8h-2.4M401.6 447.8h2.4M670.4 447.8h-2.4M401.6 404.8h2.4M670.4 404.8h-2.4M401.6 361.8h2.4M670.4 361.8h-2.4M401.6 318.8h2.4M670.4 318.8h-2.4" stroke="#262626" stroke-width="1.1" fill="none"/>
<rect x="401.6" y="297.3" width="268.8" height="215" fill="none" stroke="#262626" stroke-width="1.25"/>
<text x="401.6" y="529.8" text-anchor="middle" font-size="16.5">0</text>
<text x="468.8" y="529.8" text-anchor="middle" font-size="16.5">90</text>
<text x="536" y="529.8" text-anchor="middle" font-size="16.5">180</text>
<text x="603.2" y="529.8" text-anchor="middle" font-size="16.5">270</text>
<text x="670.4" y="529.8" text-anchor="middle" font-size="16.5">360</text>
<text x="396.4" y="517.6" text-anchor="end" font-size="16.5">-4.0</text>
<text x="396.4" y="474.6" text-anchor="end" font-size="16.5">-3.0</text>
<text x="396.4" y="431.6" text-anchor="end" font-size="16.5">-2.0</text>
<text x="396.4" y="388.6" text-anchor="end" font-size="16.5">-1.0</text>
<text x="396.4" y="345.6" text-anchor="end" font-size="16.5">0.0</text>
<text x="396.4" y="302.6" text-anchor="end" font-size="16.5">1.0</text>
<text x="636.9" y="327" font-size="13.3" textLength="30.0" lengthAdjust="spacingAndGlyphs">1.5 T</text>
<text x="634.7" y="363.5" font-size="13.3" textLength="32.2" lengthAdjust="spacingAndGlyphs">2.6 T</text>
<text x="636.9" y="402.9" font-size="13.3" textLength="30.0" lengthAdjust="spacingAndGlyphs">3.2T</text>
<text x="634.0" y="447.2" font-size="13.3" textLength="32.9" lengthAdjust="spacingAndGlyphs">3.5 T</text>
<text x="512.5" y="545.6" font-size="20"><tspan font-family="Liberation Serif, serif">φ</tspan>(<tspan dy="-2">°</tspan><tspan dy="2">)</tspan></text>
<text transform="translate(353.5,471.5) rotate(-90)" font-size="20"><tspan font-style="italic" font-size="22">ρ</tspan><tspan font-size="15" dy="5" font-style="italic">yx</tspan><tspan dy="-5">(</tspan><tspan font-family="Liberation Serif, serif">φ</tspan>)/<tspan font-style="italic" font-size="22">ρ</tspan><tspan font-size="15" dy="5" font-style="italic">yx</tspan><tspan dy="-5">(</tspan><tspan font-family="Liberation Serif, serif">φ</tspan>=0)</text>
<text x="8" y="12.3" font-size="19" font-weight="bold">a</text>
<text x="8.5" y="278.6" font-size="19" font-weight="bold">b</text>
<text x="357" y="11.6" font-size="19" font-weight="bold">c</text>
<text x="355" y="277.8" font-size="19" font-weight="bold">d</text>
</svg></body></html>
